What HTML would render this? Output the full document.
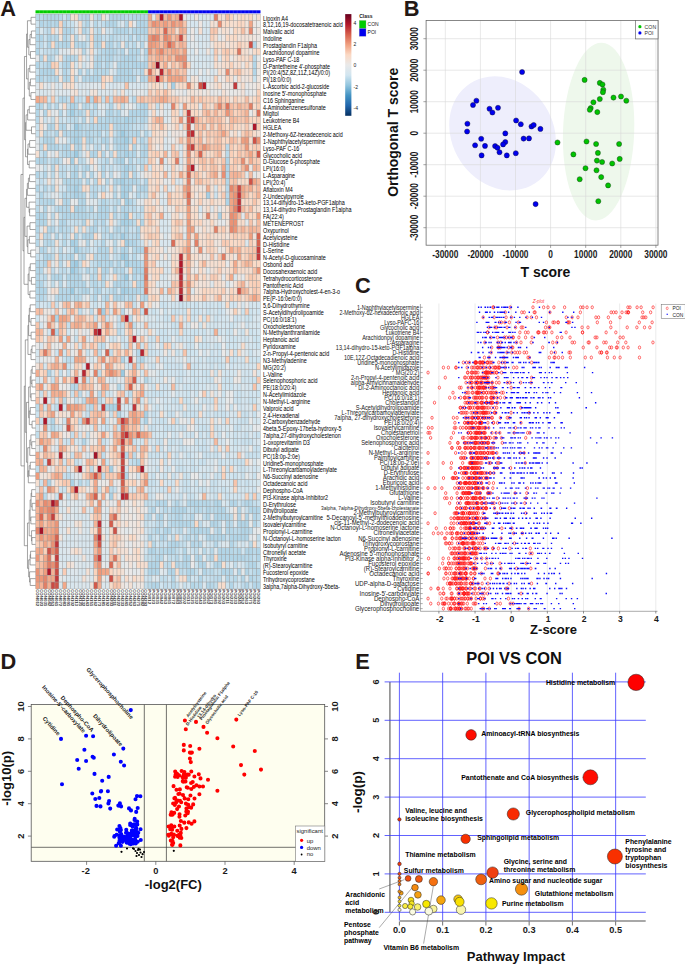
<!DOCTYPE html>
<html><head><meta charset="utf-8"><style>
html,body{margin:0;padding:0;background:#fff;}
svg{display:block;}
</style></head><body>
<svg width="685" height="965" viewBox="0 0 685 965">
<rect width="685" height="965" fill="#fff"/>
<rect x="35.5" y="13.9" width="225" height="575" fill="#9c9c9c"/>
<g stroke-width="6.35" fill="none">
<path stroke="#b7d8e9" d="M35.75 17.32h3.38M117.22 44.7h3.38M35.75 120h3.38M113.34 126.85h3.38M62.91 154.23h3.38M39.63 202.14h3.38M117.22 202.14h3.38M59.03 250.06h3.38M78.42 250.06h3.38M105.58 263.75h3.38M70.66 386.97h3.38M90.06 407.5h3.38M198.68 503.33h3.38M249.11 503.33h3.38M148.25 517.02h3.38M179.28 517.02h3.38M171.53 523.87h3.38M167.65 544.41h3.38M210.32 551.25h3.38M245.23 558.1h3.38M171.53 585.48h3.38M210.32 585.48h3.38"/>
<path stroke="#bbdaea" d="M39.63 17.32h3.38M124.97 17.32h3.38M35.75 31.01h3.38M51.27 37.86h3.38M51.27 58.39h3.38M62.91 58.39h3.38M51.27 78.93h3.38M82.3 106.31h3.38M70.66 120h3.38M101.7 120h3.38M78.42 161.07h3.38M51.27 174.76h3.38M113.34 188.45h3.38M62.91 229.53h3.38M132.73 236.37h3.38M51.27 243.22h3.38M43.51 277.44h3.38M66.78 284.29h3.38M78.42 297.98h3.38M140.49 297.98h3.38M128.85 318.51h3.38M128.85 393.81h3.38M66.78 475.95h3.38M190.92 523.87h3.38M233.59 551.25h3.38M167.65 564.94h3.38M252.99 578.63h3.38M194.8 585.48h3.38"/>
<path stroke="#b3d6e7" d="M43.51 17.32h3.38M117.22 17.32h3.38M113.34 24.17h3.38M117.22 31.01h3.38M66.78 78.93h3.38M128.85 78.93h3.38M35.75 113.16h3.38M132.73 120h3.38M51.27 140.54h3.38M225.84 181.61h3.38M70.66 215.83h3.38M121.09 215.83h3.38M43.51 222.68h3.38M93.94 270.6h3.38M132.73 270.6h3.38M51.27 277.44h3.38M55.15 277.44h3.38M93.94 284.29h3.38M59.03 291.13h3.38M74.54 297.98h3.38M128.85 297.98h3.38M144.37 380.12h3.38M117.22 386.97h3.38M51.27 428.04h3.38M249.11 510.18h3.38M206.44 517.02h3.38M187.04 523.87h3.38M183.16 551.25h3.38M187.04 578.63h3.38M190.92 585.48h3.38"/>
<path stroke="#b2d5e7" d="M47.39 17.32h3.38M51.27 17.32h3.38M55.15 17.32h3.38M66.78 17.32h3.38M86.18 17.32h3.38M97.82 17.32h3.38M109.46 17.32h3.38M113.34 17.32h3.38M121.09 17.32h3.38M136.61 17.32h3.38M140.49 17.32h3.38M39.63 24.17h3.38M47.39 24.17h3.38M55.15 24.17h3.38M86.18 24.17h3.38M105.58 24.17h3.38M109.46 24.17h3.38M124.97 24.17h3.38M140.49 24.17h3.38M62.91 31.01h3.38M66.78 31.01h3.38M82.3 31.01h3.38M124.97 31.01h3.38M132.73 31.01h3.38M140.49 31.01h3.38M144.37 31.01h3.38M35.75 37.86h3.38M39.63 37.86h3.38M47.39 37.86h3.38M62.91 37.86h3.38M93.94 37.86h3.38M97.82 37.86h3.38M128.85 37.86h3.38M136.61 37.86h3.38M47.39 44.7h3.38M62.91 44.7h3.38M66.78 44.7h3.38M82.3 44.7h3.38M93.94 44.7h3.38M97.82 44.7h3.38M105.58 44.7h3.38M109.46 44.7h3.38M124.97 44.7h3.38M252.99 44.7h3.38M35.75 51.55h3.38M105.58 51.55h3.38M109.46 51.55h3.38M121.09 51.55h3.38M136.61 51.55h3.38M144.37 51.55h3.38M39.63 58.39h3.38M47.39 58.39h3.38M66.78 58.39h3.38M97.82 58.39h3.38M105.58 58.39h3.38M109.46 58.39h3.38M124.97 58.39h3.38M128.85 58.39h3.38M132.73 58.39h3.38M35.75 65.24h3.38M47.39 65.24h3.38M62.91 65.24h3.38M66.78 65.24h3.38M93.94 65.24h3.38M97.82 65.24h3.38M105.58 65.24h3.38M117.22 65.24h3.38M121.09 65.24h3.38M124.97 65.24h3.38M132.73 65.24h3.38M136.61 65.24h3.38M140.49 65.24h3.38M144.37 65.24h3.38M252.99 65.24h3.38M39.63 72.08h3.38M43.51 72.08h3.38M47.39 72.08h3.38M51.27 72.08h3.38M62.91 72.08h3.38M78.42 72.08h3.38M86.18 72.08h3.38M93.94 72.08h3.38M117.22 72.08h3.38M121.09 72.08h3.38M124.97 72.08h3.38M128.85 72.08h3.38M140.49 72.08h3.38M252.99 72.08h3.38M39.63 78.93h3.38M62.91 78.93h3.38M82.3 78.93h3.38M90.06 78.93h3.38M93.94 78.93h3.38M97.82 78.93h3.38M117.22 78.93h3.38M121.09 78.93h3.38M124.97 78.93h3.38M132.73 78.93h3.38M140.49 78.93h3.38M35.75 106.31h3.38M47.39 106.31h3.38M93.94 106.31h3.38M109.46 106.31h3.38M140.49 106.31h3.38M144.37 106.31h3.38M43.51 113.16h3.38M59.03 113.16h3.38M78.42 113.16h3.38M105.58 113.16h3.38M109.46 113.16h3.38M117.22 113.16h3.38M128.85 113.16h3.38M132.73 113.16h3.38M136.61 113.16h3.38M140.49 113.16h3.38M144.37 113.16h3.38M82.3 120h3.38M97.82 120h3.38M105.58 120h3.38M117.22 120h3.38M128.85 120h3.38M140.49 120h3.38M47.39 126.85h3.38M51.27 126.85h3.38M62.91 126.85h3.38M78.42 126.85h3.38M90.06 126.85h3.38M101.7 126.85h3.38M105.58 126.85h3.38M117.22 126.85h3.38M121.09 126.85h3.38M124.97 126.85h3.38M55.15 133.69h3.38M70.66 133.69h3.38M78.42 133.69h3.38M86.18 133.69h3.38M97.82 133.69h3.38M117.22 133.69h3.38M136.61 133.69h3.38M43.51 140.54h3.38M47.39 140.54h3.38M70.66 140.54h3.38M78.42 140.54h3.38M86.18 140.54h3.38M90.06 140.54h3.38M101.7 140.54h3.38M105.58 140.54h3.38M113.34 140.54h3.38M117.22 140.54h3.38M140.49 140.54h3.38M47.39 147.38h3.38M55.15 147.38h3.38M62.91 147.38h3.38M66.78 147.38h3.38M78.42 147.38h3.38M117.22 147.38h3.38M132.73 147.38h3.38M144.37 147.38h3.38M43.51 154.23h3.38M66.78 154.23h3.38M70.66 154.23h3.38M90.06 154.23h3.38M93.94 154.23h3.38M101.7 154.23h3.38M117.22 154.23h3.38M132.73 154.23h3.38M140.49 154.23h3.38M144.37 154.23h3.38M35.75 161.07h3.38M39.63 161.07h3.38M43.51 161.07h3.38M55.15 161.07h3.38M105.58 161.07h3.38M117.22 161.07h3.38M128.85 161.07h3.38M51.27 167.92h3.38M86.18 167.92h3.38M101.7 167.92h3.38M35.75 174.76h3.38M43.51 174.76h3.38M70.66 174.76h3.38M82.3 174.76h3.38M90.06 174.76h3.38M101.7 174.76h3.38M121.09 174.76h3.38M132.73 174.76h3.38M66.78 181.61h3.38M74.54 181.61h3.38M78.42 181.61h3.38M86.18 181.61h3.38M113.34 181.61h3.38M117.22 181.61h3.38M124.97 181.61h3.38M128.85 181.61h3.38M132.73 181.61h3.38M144.37 181.61h3.38M35.75 188.45h3.38M43.51 188.45h3.38M51.27 188.45h3.38M66.78 188.45h3.38M70.66 188.45h3.38M128.85 188.45h3.38M140.49 188.45h3.38M144.37 188.45h3.38M39.63 195.3h3.38M62.91 195.3h3.38M70.66 195.3h3.38M78.42 195.3h3.38M93.94 195.3h3.38M136.61 195.3h3.38M51.27 202.14h3.38M62.91 202.14h3.38M66.78 202.14h3.38M82.3 202.14h3.38M101.7 202.14h3.38M128.85 202.14h3.38M43.51 208.99h3.38M59.03 208.99h3.38M66.78 208.99h3.38M78.42 208.99h3.38M90.06 208.99h3.38M97.82 208.99h3.38M101.7 208.99h3.38M105.58 208.99h3.38M113.34 208.99h3.38M121.09 208.99h3.38M35.75 215.83h3.38M39.63 215.83h3.38M43.51 215.83h3.38M62.91 215.83h3.38M66.78 215.83h3.38M74.54 215.83h3.38M78.42 215.83h3.38M82.3 215.83h3.38M97.82 215.83h3.38M101.7 215.83h3.38M105.58 215.83h3.38M113.34 215.83h3.38M35.75 222.68h3.38M39.63 222.68h3.38M59.03 222.68h3.38M62.91 222.68h3.38M82.3 222.68h3.38M93.94 222.68h3.38M101.7 222.68h3.38M128.85 222.68h3.38M140.49 222.68h3.38M35.75 229.53h3.38M51.27 229.53h3.38M59.03 229.53h3.38M90.06 229.53h3.38M93.94 229.53h3.38M117.22 229.53h3.38M136.61 229.53h3.38M55.15 236.37h3.38M82.3 236.37h3.38M86.18 236.37h3.38M90.06 236.37h3.38M109.46 236.37h3.38M124.97 236.37h3.38M136.61 236.37h3.38M86.18 243.22h3.38M101.7 243.22h3.38M128.85 243.22h3.38M132.73 243.22h3.38M39.63 250.06h3.38M97.82 250.06h3.38M105.58 250.06h3.38M124.97 250.06h3.38M136.61 250.06h3.38M140.49 250.06h3.38M43.51 256.91h3.38M47.39 256.91h3.38M59.03 256.91h3.38M82.3 256.91h3.38M93.94 256.91h3.38M101.7 256.91h3.38M105.58 256.91h3.38M35.75 263.75h3.38M43.51 263.75h3.38M97.82 263.75h3.38M109.46 263.75h3.38M117.22 263.75h3.38M132.73 263.75h3.38M35.75 270.6h3.38M86.18 270.6h3.38M101.7 270.6h3.38M105.58 270.6h3.38M113.34 270.6h3.38M121.09 270.6h3.38M136.61 270.6h3.38M140.49 270.6h3.38M35.75 277.44h3.38M59.03 277.44h3.38M66.78 277.44h3.38M78.42 277.44h3.38M101.7 277.44h3.38M121.09 277.44h3.38M132.73 277.44h3.38M140.49 277.44h3.38M35.75 284.29h3.38M39.63 284.29h3.38M59.03 284.29h3.38M70.66 284.29h3.38M74.54 284.29h3.38M82.3 284.29h3.38M117.22 284.29h3.38M121.09 284.29h3.38M136.61 284.29h3.38M140.49 284.29h3.38M35.75 291.13h3.38M39.63 291.13h3.38M43.51 291.13h3.38M82.3 291.13h3.38M86.18 291.13h3.38M93.94 291.13h3.38M97.82 291.13h3.38M113.34 291.13h3.38M132.73 291.13h3.38M136.61 291.13h3.38M59.03 297.98h3.38M66.78 297.98h3.38M93.94 297.98h3.38M105.58 297.98h3.38M113.34 297.98h3.38M117.22 297.98h3.38M144.37 297.98h3.38M140.49 359.58h3.38M136.61 462.26h3.38M124.97 475.95h3.38M156.01 503.33h3.38M163.77 503.33h3.38M175.41 503.33h3.38M187.04 503.33h3.38M190.92 503.33h3.38M194.8 503.33h3.38M214.2 503.33h3.38M218.08 503.33h3.38M229.72 503.33h3.38M245.23 503.33h3.38M152.13 510.18h3.38M171.53 510.18h3.38M175.41 510.18h3.38M179.28 510.18h3.38M183.16 510.18h3.38M206.44 510.18h3.38M218.08 510.18h3.38M221.96 510.18h3.38M237.47 510.18h3.38M252.99 510.18h3.38M256.87 510.18h3.38M156.01 517.02h3.38M159.89 517.02h3.38M190.92 517.02h3.38M214.2 517.02h3.38M218.08 517.02h3.38M225.84 517.02h3.38M237.47 517.02h3.38M245.23 517.02h3.38M252.99 517.02h3.38M179.28 523.87h3.38M210.32 523.87h3.38M214.2 523.87h3.38M225.84 523.87h3.38M237.47 523.87h3.38M241.35 523.87h3.38M245.23 523.87h3.38M252.99 523.87h3.38M156.01 530.72h3.38M163.77 530.72h3.38M167.65 530.72h3.38M190.92 530.72h3.38M198.68 530.72h3.38M206.44 530.72h3.38M218.08 530.72h3.38M225.84 530.72h3.38M241.35 530.72h3.38M245.23 530.72h3.38M148.25 537.56h3.38M159.89 537.56h3.38M194.8 537.56h3.38M206.44 537.56h3.38M210.32 537.56h3.38M218.08 537.56h3.38M221.96 537.56h3.38M229.72 537.56h3.38M233.59 537.56h3.38M237.47 537.56h3.38M241.35 537.56h3.38M245.23 537.56h3.38M171.53 544.41h3.38M175.41 544.41h3.38M190.92 544.41h3.38M198.68 544.41h3.38M229.72 544.41h3.38M148.25 551.25h3.38M152.13 551.25h3.38M167.65 551.25h3.38M171.53 551.25h3.38M218.08 551.25h3.38M221.96 551.25h3.38M225.84 551.25h3.38M237.47 551.25h3.38M245.23 551.25h3.38M249.11 551.25h3.38M256.87 551.25h3.38M156.01 558.1h3.38M183.16 558.1h3.38M187.04 558.1h3.38M194.8 558.1h3.38M198.68 558.1h3.38M210.32 558.1h3.38M218.08 558.1h3.38M221.96 558.1h3.38M229.72 558.1h3.38M233.59 558.1h3.38M237.47 558.1h3.38M241.35 558.1h3.38M256.87 558.1h3.38M148.25 564.94h3.38M152.13 564.94h3.38M156.01 564.94h3.38M175.41 564.94h3.38M183.16 564.94h3.38M198.68 564.94h3.38M202.56 564.94h3.38M214.2 564.94h3.38M218.08 564.94h3.38M252.99 564.94h3.38M148.25 571.79h3.38M152.13 571.79h3.38M156.01 571.79h3.38M171.53 571.79h3.38M187.04 571.79h3.38M190.92 571.79h3.38M202.56 571.79h3.38M221.96 571.79h3.38M237.47 571.79h3.38M245.23 571.79h3.38M171.53 578.63h3.38M198.68 578.63h3.38M225.84 578.63h3.38M241.35 578.63h3.38M249.11 578.63h3.38M152.13 585.48h3.38M156.01 585.48h3.38M206.44 585.48h3.38M229.72 585.48h3.38M245.23 585.48h3.38M256.87 585.48h3.38"/>
<path stroke="#b8d8e9" d="M59.03 17.32h3.38M82.3 17.32h3.38M78.42 44.7h3.38M101.7 51.55h3.38M93.94 58.39h3.38M86.18 78.93h3.38M74.54 113.16h3.38M66.78 133.69h3.38M128.85 133.69h3.38M132.73 133.69h3.38M128.85 167.92h3.38M78.42 188.45h3.38M101.7 188.45h3.38M225.84 188.45h3.38M225.84 195.3h3.38M43.51 202.14h3.38M51.27 215.83h3.38M101.7 263.75h3.38M78.42 284.29h3.38M62.91 291.13h3.38M35.75 297.98h3.38M121.09 311.67h3.38M97.82 393.81h3.38M159.89 503.33h3.38M202.56 530.72h3.38"/>
<path stroke="#cbe2ee" d="M62.91 17.32h3.38M43.51 37.86h3.38M113.34 44.7h3.38M59.03 65.24h3.38M43.51 120h3.38M47.39 161.07h3.38M39.63 174.76h3.38M39.63 256.91h3.38M140.49 421.19h3.38M167.65 441.73h3.38M237.47 469.11h3.38M187.04 475.95h3.38M198.68 489.64h3.38M214.2 489.64h3.38"/>
<path stroke="#f2e1d6" d="M70.66 17.32h3.38M70.66 51.55h3.38M59.03 78.93h3.38M190.92 78.93h3.38M256.87 85.78h3.38M171.53 126.85h3.38M256.87 133.69h3.38M82.3 147.38h3.38M218.08 195.3h3.38M156.01 222.68h3.38M70.66 236.37h3.38M55.15 263.75h3.38M198.68 277.44h3.38M66.78 393.81h3.38M86.18 503.33h3.38M233.59 517.02h3.38M140.49 544.41h3.38M132.73 558.1h3.38M121.09 571.79h3.38"/>
<path stroke="#f7dccb" d="M74.54 17.32h3.38M225.84 65.24h3.38M163.77 126.85h3.38M183.16 140.54h3.38M171.53 202.14h3.38M109.46 222.68h3.38M221.96 236.37h3.38M171.53 256.91h3.38M190.92 277.44h3.38M249.11 291.13h3.38M194.8 297.98h3.38M241.35 345.89h3.38M43.51 414.35h3.38M70.66 496.49h3.38M109.46 530.72h3.38"/>
<path stroke="#bcdaea" d="M78.42 17.32h3.38M70.66 31.01h3.38M35.75 44.7h3.38M39.63 44.7h3.38M93.94 126.85h3.38M90.06 133.69h3.38M97.82 147.38h3.38M113.34 161.07h3.38M55.15 208.99h3.38M136.61 215.83h3.38M101.7 229.53h3.38M113.34 229.53h3.38M113.34 236.37h3.38M43.51 243.22h3.38M51.27 256.91h3.38M117.22 332.2h3.38M101.7 345.89h3.38M66.78 359.58h3.38M132.73 455.42h3.38M101.7 475.95h3.38M198.68 523.87h3.38M179.28 564.94h3.38M214.2 578.63h3.38M256.87 578.63h3.38"/>
<path stroke="#f2e1d7" d="M90.06 17.32h3.38M245.23 31.01h3.38M233.59 58.39h3.38M245.23 72.08h3.38M148.25 85.78h3.38M148.25 120h3.38M59.03 133.69h3.38M202.56 140.54h3.38M202.56 174.76h3.38M218.08 174.76h3.38M156.01 195.3h3.38M183.16 202.14h3.38M206.44 202.14h3.38M179.28 229.53h3.38M206.44 263.75h3.38M171.53 277.44h3.38M152.13 291.13h3.38M136.61 297.98h3.38M55.15 339.05h3.38M252.99 373.27h3.38M97.82 386.97h3.38M124.97 462.26h3.38M140.49 503.33h3.38M121.09 551.25h3.38"/>
<path stroke="#c1ddec" d="M93.94 17.32h3.38M101.7 24.17h3.38M66.78 99.47h3.38M74.54 99.47h3.38M78.42 99.47h3.38M101.7 99.47h3.38M109.46 99.47h3.38M78.42 311.67h3.38M202.56 517.02h3.38M252.99 558.1h3.38"/>
<path stroke="#f5dfd1" d="M101.7 17.32h3.38M245.23 58.39h3.38M121.09 92.62h3.38M128.85 147.38h3.38M35.75 154.23h3.38M206.44 154.23h3.38M237.47 167.92h3.38M97.82 174.76h3.38M175.41 174.76h3.38M225.84 208.99h3.38M198.68 236.37h3.38M175.41 250.06h3.38M55.15 256.91h3.38M35.75 482.8h3.38M113.34 523.87h3.38M101.7 537.56h3.38M113.34 571.79h3.38"/>
<path stroke="#dee7ec" d="M105.58 17.32h3.38M90.06 24.17h3.38M218.08 37.86h3.38M66.78 51.55h3.38M86.18 51.55h3.38M210.32 78.93h3.38M86.18 85.78h3.38M101.7 92.62h3.38M198.68 106.31h3.38M167.65 120h3.38M66.78 126.85h3.38M82.3 181.61h3.38M90.06 181.61h3.38M179.28 181.61h3.38M159.89 188.45h3.38M51.27 195.3h3.38M93.94 202.14h3.38M218.08 208.99h3.38M183.16 236.37h3.38M78.42 243.22h3.38M167.65 263.75h3.38M210.32 284.29h3.38M47.39 297.98h3.38M78.42 503.33h3.38M70.66 510.18h3.38M229.72 510.18h3.38M241.35 510.18h3.38M70.66 517.02h3.38M105.58 517.02h3.38M101.7 544.41h3.38M101.7 551.25h3.38M214.2 551.25h3.38M78.42 558.1h3.38M121.09 558.1h3.38M74.54 564.94h3.38M229.72 564.94h3.38M74.54 571.79h3.38M82.3 585.48h3.38"/>
<path stroke="#b9d9e9" d="M128.85 17.32h3.38M51.27 24.17h3.38M97.82 31.01h3.38M132.73 44.7h3.38M105.58 72.08h3.38M86.18 106.31h3.38M74.54 120h3.38M109.46 120h3.38M140.49 147.38h3.38M82.3 167.92h3.38M132.73 167.92h3.38M136.61 181.61h3.38M35.75 208.99h3.38M113.34 243.22h3.38M113.34 250.06h3.38M66.78 256.91h3.38M78.42 256.91h3.38M90.06 277.44h3.38M78.42 393.81h3.38M163.77 510.18h3.38M198.68 510.18h3.38M214.2 510.18h3.38M175.41 523.87h3.38M179.28 530.72h3.38M249.11 544.41h3.38M163.77 551.25h3.38M202.56 551.25h3.38M210.32 571.79h3.38M148.25 585.48h3.38"/>
<path stroke="#b4d6e8" d="M132.73 17.32h3.38M62.91 24.17h3.38M136.61 24.17h3.38M121.09 31.01h3.38M74.54 37.86h3.38M121.09 58.39h3.38M55.15 78.93h3.38M113.34 78.93h3.38M59.03 99.47h3.38M62.91 99.47h3.38M90.06 99.47h3.38M132.73 99.47h3.38M74.54 106.31h3.38M62.91 133.69h3.38M70.66 181.61h3.38M124.97 208.99h3.38M113.34 284.29h3.38M124.97 284.29h3.38M66.78 291.13h3.38M128.85 291.13h3.38M39.63 297.98h3.38M55.15 332.2h3.38M233.59 503.33h3.38M175.41 517.02h3.38M214.2 544.41h3.38M225.84 558.1h3.38M249.11 564.94h3.38M225.84 571.79h3.38M256.87 571.79h3.38M252.99 585.48h3.38"/>
<path stroke="#b6d7e8" d="M144.37 17.32h3.38M113.34 31.01h3.38M136.61 31.01h3.38M55.15 37.86h3.38M140.49 44.7h3.38M82.3 51.55h3.38M113.34 51.55h3.38M70.66 58.39h3.38M128.85 65.24h3.38M101.7 72.08h3.38M35.75 78.93h3.38M55.15 106.31h3.38M90.06 113.16h3.38M97.82 126.85h3.38M74.54 147.38h3.38M121.09 154.23h3.38M140.49 167.92h3.38M105.58 181.61h3.38M136.61 188.45h3.38M62.91 208.99h3.38M47.39 229.53h3.38M35.75 243.22h3.38M43.51 250.06h3.38M39.63 270.6h3.38M78.42 482.8h3.38M202.56 503.33h3.38M206.44 503.33h3.38M194.8 510.18h3.38M221.96 517.02h3.38M183.16 523.87h3.38M187.04 537.56h3.38M229.72 551.25h3.38M175.41 558.1h3.38M249.11 558.1h3.38M187.04 564.94h3.38M198.68 585.48h3.38"/>
<path stroke="#f1a889" d="M148.25 17.32h3.38M167.65 58.39h3.38M78.42 359.58h3.38"/>
<path stroke="#e7e9ea" d="M152.13 17.32h3.38M78.42 106.31h3.38M55.15 113.16h3.38M97.82 195.3h3.38M47.39 208.99h3.38M183.16 229.53h3.38M109.46 243.22h3.38M55.15 284.29h3.38M47.39 291.13h3.38M39.63 318.51h3.38M113.34 318.51h3.38M90.06 339.05h3.38M105.58 345.89h3.38M101.7 352.74h3.38M101.7 366.43h3.38M183.16 421.19h3.38M47.39 434.88h3.38M109.46 441.73h3.38M35.75 489.64h3.38M62.91 496.49h3.38M128.85 510.18h3.38M144.37 510.18h3.38M256.87 530.72h3.38M140.49 537.56h3.38M190.92 558.1h3.38"/>
<path stroke="#f4b498" d="M156.01 17.32h3.38M214.2 113.16h3.38M159.89 120h3.38M163.77 154.23h3.38M183.16 195.3h3.38M183.16 250.06h3.38M249.11 256.91h3.38M218.08 297.98h3.38M97.82 414.35h3.38M140.49 448.57h3.38M124.97 489.64h3.38M86.18 496.49h3.38M144.37 496.49h3.38M39.63 503.33h3.38M35.75 510.18h3.38"/>
<path stroke="#b31b2c" d="M159.89 17.32h3.38M202.56 85.78h3.38M190.92 167.92h3.38M124.97 318.51h3.38"/>
<path stroke="#f5bba1" d="M163.77 17.32h3.38M171.53 17.32h3.38M152.13 99.47h3.38M256.87 188.45h3.38M256.87 229.53h3.38M35.75 386.97h3.38M59.03 400.66h3.38M74.54 455.42h3.38"/>
<path stroke="#ea9275" d="M167.65 17.32h3.38M171.53 24.17h3.38M179.28 58.39h3.38M167.65 72.08h3.38M202.56 147.38h3.38M233.59 222.68h3.38M256.87 270.6h3.38M187.04 284.29h3.38M105.58 325.36h3.38M124.97 400.66h3.38M43.51 428.04h3.38M128.85 434.88h3.38M128.85 441.73h3.38M35.75 571.79h3.38"/>
<path stroke="#f2ab8d" d="M175.41 17.32h3.38M159.89 24.17h3.38M156.01 58.39h3.38M152.13 65.24h3.38M249.11 188.45h3.38M113.34 359.58h3.38M55.15 366.43h3.38M51.27 393.81h3.38M55.15 434.88h3.38M101.7 496.49h3.38M47.39 578.63h3.38"/>
<path stroke="#ad162a" d="M179.28 17.32h3.38M156.01 78.93h3.38M252.99 126.85h3.38M43.51 400.66h3.38"/>
<path stroke="#ece6e2" d="M183.16 17.32h3.38M252.99 17.32h3.38M190.92 31.01h3.38M210.32 85.78h3.38M225.84 85.78h3.38M152.13 202.14h3.38M167.65 208.99h3.38M233.59 256.91h3.38M121.09 304.82h3.38M43.51 311.67h3.38M144.37 339.05h3.38M194.8 400.66h3.38M90.06 441.73h3.38M156.01 496.49h3.38M132.73 510.18h3.38M136.61 585.48h3.38"/>
<path stroke="#d7e6ee" d="M187.04 17.32h3.38M194.8 58.39h3.38M206.44 65.24h3.38M210.32 72.08h3.38M214.2 188.45h3.38M198.68 304.82h3.38M241.35 304.82h3.38M148.25 318.51h3.38M159.89 318.51h3.38M252.99 318.51h3.38M140.49 325.36h3.38M218.08 325.36h3.38M252.99 325.36h3.38M74.54 332.2h3.38M124.97 339.05h3.38M78.42 345.89h3.38M245.23 345.89h3.38M132.73 352.74h3.38M148.25 359.58h3.38M179.28 359.58h3.38M214.2 366.43h3.38M245.23 366.43h3.38M35.75 380.12h3.38M152.13 380.12h3.38M148.25 386.97h3.38M233.59 386.97h3.38M167.65 400.66h3.38M171.53 407.5h3.38M249.11 407.5h3.38M163.77 414.35h3.38M221.96 428.04h3.38M152.13 441.73h3.38M210.32 441.73h3.38M221.96 448.57h3.38M194.8 455.42h3.38M148.25 469.11h3.38M152.13 469.11h3.38M210.32 469.11h3.38M256.87 469.11h3.38M198.68 475.95h3.38M128.85 489.64h3.38"/>
<path stroke="#d8e6ee" d="M190.92 17.32h3.38M202.56 17.32h3.38M206.44 24.17h3.38M194.8 37.86h3.38M202.56 37.86h3.38M55.15 85.78h3.38M59.03 85.78h3.38M78.42 85.78h3.38M109.46 85.78h3.38M113.34 85.78h3.38M128.85 85.78h3.38M132.73 85.78h3.38M136.61 85.78h3.38M140.49 85.78h3.38M144.37 85.78h3.38M163.77 85.78h3.38M39.63 92.62h3.38M43.51 92.62h3.38M55.15 92.62h3.38M86.18 92.62h3.38M97.82 92.62h3.38M109.46 92.62h3.38M117.22 92.62h3.38M124.97 92.62h3.38M128.85 92.62h3.38M163.77 106.31h3.38M167.65 106.31h3.38M163.77 113.16h3.38M179.28 113.16h3.38M163.77 140.54h3.38M163.77 147.38h3.38M179.28 147.38h3.38M163.77 161.07h3.38M179.28 161.07h3.38M167.65 188.45h3.38M159.89 202.14h3.38M163.77 202.14h3.38M159.89 222.68h3.38M163.77 222.68h3.38M159.89 229.53h3.38M163.77 229.53h3.38M167.65 229.53h3.38M163.77 236.37h3.38M159.89 243.22h3.38M167.65 243.22h3.38M163.77 250.06h3.38M163.77 263.75h3.38M163.77 270.6h3.38M167.65 270.6h3.38M159.89 277.44h3.38M163.77 277.44h3.38M167.65 284.29h3.38M225.84 284.29h3.38M163.77 291.13h3.38M159.89 297.98h3.38M163.77 297.98h3.38M221.96 304.82h3.38M202.56 311.67h3.38M256.87 318.51h3.38M167.65 325.36h3.38M206.44 339.05h3.38M237.47 345.89h3.38M202.56 359.58h3.38M156.01 373.27h3.38M167.65 380.12h3.38M214.2 393.81h3.38M190.92 400.66h3.38M245.23 407.5h3.38M187.04 421.19h3.38M229.72 434.88h3.38M256.87 441.73h3.38M171.53 448.57h3.38M156.01 462.26h3.38M202.56 469.11h3.38M225.84 482.8h3.38M43.51 489.64h3.38M59.03 503.33h3.38M59.03 510.18h3.38M90.06 510.18h3.38M66.78 517.02h3.38M74.54 517.02h3.38M78.42 517.02h3.38M82.3 517.02h3.38M86.18 517.02h3.38M86.18 523.87h3.38M86.18 530.72h3.38M66.78 537.56h3.38M70.66 537.56h3.38M82.3 537.56h3.38M86.18 537.56h3.38M144.37 537.56h3.38M66.78 544.41h3.38M70.66 544.41h3.38M78.42 544.41h3.38M82.3 544.41h3.38M86.18 544.41h3.38M90.06 544.41h3.38M82.3 551.25h3.38M86.18 551.25h3.38M90.06 551.25h3.38M59.03 558.1h3.38M62.91 558.1h3.38M66.78 558.1h3.38M70.66 558.1h3.38M74.54 558.1h3.38M86.18 558.1h3.38M90.06 558.1h3.38M62.91 564.94h3.38M82.3 564.94h3.38M90.06 564.94h3.38M59.03 571.79h3.38M66.78 571.79h3.38M78.42 571.79h3.38M82.3 571.79h3.38M90.06 571.79h3.38M66.78 578.63h3.38M70.66 578.63h3.38M74.54 578.63h3.38M90.06 578.63h3.38M59.03 585.48h3.38M66.78 585.48h3.38M70.66 585.48h3.38M78.42 585.48h3.38"/>
<path stroke="#efe4dd" d="M194.8 17.32h3.38M233.59 17.32h3.38M121.09 44.7h3.38M206.44 51.55h3.38M194.8 85.78h3.38M70.66 92.62h3.38M90.06 92.62h3.38M171.53 92.62h3.38M221.96 154.23h3.38M93.94 167.92h3.38M194.8 167.92h3.38M202.56 188.45h3.38M202.56 208.99h3.38M55.15 215.83h3.38M206.44 222.68h3.38M206.44 229.53h3.38M206.44 277.44h3.38M82.3 352.74h3.38M163.77 352.74h3.38M171.53 352.74h3.38M132.73 359.58h3.38M214.2 380.12h3.38M43.51 475.95h3.38M124.97 503.33h3.38M128.85 517.02h3.38"/>
<path stroke="#d6e6ef" d="M198.68 17.32h3.38M210.32 17.32h3.38M190.92 24.17h3.38M194.8 24.17h3.38M202.56 24.17h3.38M187.04 31.01h3.38M194.8 31.01h3.38M202.56 31.01h3.38M206.44 31.01h3.38M187.04 37.86h3.38M198.68 37.86h3.38M206.44 37.86h3.38M187.04 44.7h3.38M198.68 44.7h3.38M190.92 51.55h3.38M198.68 51.55h3.38M210.32 51.55h3.38M187.04 58.39h3.38M198.68 58.39h3.38M202.56 58.39h3.38M206.44 58.39h3.38M210.32 58.39h3.38M198.68 65.24h3.38M194.8 72.08h3.38M202.56 72.08h3.38M187.04 78.93h3.38M202.56 78.93h3.38M241.35 318.51h3.38M225.84 325.36h3.38M167.65 332.2h3.38M183.16 345.89h3.38M214.2 352.74h3.38M237.47 359.58h3.38M256.87 373.27h3.38M245.23 386.97h3.38M249.11 386.97h3.38M210.32 414.35h3.38M90.06 428.04h3.38M202.56 434.88h3.38M206.44 441.73h3.38M187.04 448.57h3.38M171.53 455.42h3.38M252.99 462.26h3.38M198.68 469.11h3.38M221.96 482.8h3.38M249.11 489.64h3.38"/>
<path stroke="#dfe7ec" d="M206.44 17.32h3.38M74.54 24.17h3.38M59.03 51.55h3.38M124.97 51.55h3.38M86.18 65.24h3.38M101.7 106.31h3.38M51.27 113.16h3.38M167.65 113.16h3.38M179.28 126.85h3.38M35.75 140.54h3.38M101.7 147.38h3.38M105.58 154.23h3.38M163.77 167.92h3.38M66.78 174.76h3.38M93.94 208.99h3.38M210.32 208.99h3.38M39.63 229.53h3.38M62.91 284.29h3.38M159.89 284.29h3.38M105.58 448.57h3.38M86.18 510.18h3.38M156.01 510.18h3.38M66.78 523.87h3.38M163.77 523.87h3.38M233.59 523.87h3.38M183.16 530.72h3.38M249.11 537.56h3.38M66.78 551.25h3.38M59.03 564.94h3.38M62.91 578.63h3.38"/>
<path stroke="#e27e65" d="M214.2 17.32h3.38M152.13 37.86h3.38M47.39 564.94h3.38M43.51 585.48h3.38"/>
<path stroke="#f8dcca" d="M218.08 17.32h3.38M55.15 72.08h3.38M70.66 72.08h3.38M179.28 85.78h3.38M241.35 99.47h3.38M39.63 126.85h3.38M194.8 161.07h3.38M241.35 202.14h3.38M194.8 208.99h3.38M175.41 215.83h3.38M171.53 229.53h3.38M90.06 256.91h3.38M66.78 263.75h3.38M241.35 270.6h3.38M117.22 366.43h3.38M159.89 414.35h3.38M82.3 434.88h3.38M66.78 448.57h3.38M159.89 462.26h3.38M117.22 469.11h3.38M148.25 544.41h3.38M252.99 544.41h3.38M74.54 551.25h3.38"/>
<path stroke="#f3e0d5" d="M221.96 17.32h3.38M225.84 31.01h3.38M241.35 37.86h3.38M249.11 78.93h3.38M214.2 85.78h3.38M74.54 92.62h3.38M183.16 99.47h3.38M152.13 106.31h3.38M198.68 113.16h3.38M156.01 167.92h3.38M152.13 181.61h3.38M214.2 208.99h3.38M109.46 250.06h3.38M194.8 250.06h3.38M225.84 256.91h3.38M225.84 270.6h3.38M175.41 277.44h3.38M202.56 284.29h3.38M233.59 284.29h3.38M113.34 510.18h3.38M124.97 551.25h3.38M86.18 571.79h3.38M82.3 578.63h3.38"/>
<path stroke="#f5bba0" d="M225.84 17.32h3.38M152.13 51.55h3.38M148.25 58.39h3.38M218.08 147.38h3.38M198.68 181.61h3.38M256.87 222.68h3.38M245.23 291.13h3.38M90.06 325.36h3.38M117.22 564.94h3.38"/>
<path stroke="#fad5bf" d="M229.72 17.32h3.38M90.06 37.86h3.38M218.08 113.16h3.38M93.94 120h3.38M249.11 120h3.38M221.96 147.38h3.38M171.53 181.61h3.38M183.16 243.22h3.38M198.68 263.75h3.38M159.89 270.6h3.38M202.56 277.44h3.38M229.72 291.13h3.38M171.53 297.98h3.38M117.22 345.89h3.38M256.87 366.43h3.38M128.85 448.57h3.38M229.72 469.11h3.38"/>
<path stroke="#f8dccb" d="M237.47 17.32h3.38M221.96 44.7h3.38M90.06 51.55h3.38M144.37 72.08h3.38M183.16 154.23h3.38M144.37 208.99h3.38M190.92 215.83h3.38M241.35 222.68h3.38M202.56 229.53h3.38M233.59 243.22h3.38M152.13 256.91h3.38M229.72 256.91h3.38M218.08 263.75h3.38M183.16 270.6h3.38M198.68 297.98h3.38M229.72 352.74h3.38M55.15 373.27h3.38M74.54 414.35h3.38M198.68 414.35h3.38M74.54 448.57h3.38M47.39 475.95h3.38M55.15 482.8h3.38M175.41 537.56h3.38M93.94 578.63h3.38M221.96 585.48h3.38"/>
<path stroke="#fbd9c4" d="M241.35 17.32h3.38M233.59 51.55h3.38M109.46 78.93h3.38M175.41 106.31h3.38M194.8 113.16h3.38M237.47 140.54h3.38M156.01 174.76h3.38M128.85 215.83h3.38M152.13 222.68h3.38M171.53 263.75h3.38M256.87 263.75h3.38M171.53 270.6h3.38M148.25 284.29h3.38M148.25 304.82h3.38M101.7 373.27h3.38M47.39 386.97h3.38M190.92 421.19h3.38M128.85 469.11h3.38M175.41 482.8h3.38M140.49 517.02h3.38M136.61 551.25h3.38"/>
<path stroke="#f6decf" d="M245.23 17.32h3.38M229.72 24.17h3.38M233.59 24.17h3.38M221.96 31.01h3.38M233.59 44.7h3.38M241.35 51.55h3.38M167.65 65.24h3.38M105.58 78.93h3.38M187.04 99.47h3.38M252.99 106.31h3.38M39.63 133.69h3.38M109.46 133.69h3.38M249.11 140.54h3.38M159.89 154.23h3.38M252.99 208.99h3.38M109.46 215.83h3.38M214.2 215.83h3.38M43.51 229.53h3.38M140.49 229.53h3.38M210.32 229.53h3.38M210.32 263.75h3.38M214.2 270.6h3.38M218.08 277.44h3.38M183.16 291.13h3.38M86.18 318.51h3.38M136.61 510.18h3.38M124.97 523.87h3.38M140.49 530.72h3.38M51.27 558.1h3.38M140.49 564.94h3.38"/>
<path stroke="#fbd7c1" d="M249.11 17.32h3.38M70.66 78.93h3.38M206.44 161.07h3.38M148.25 208.99h3.38M171.53 236.37h3.38M237.47 236.37h3.38M225.84 250.06h3.38M202.56 291.13h3.38M233.59 297.98h3.38M82.3 304.82h3.38M225.84 304.82h3.38M245.23 462.26h3.38M194.8 523.87h3.38"/>
<path stroke="#f5ded0" d="M256.87 17.32h3.38M90.06 31.01h3.38M175.41 31.01h3.38M198.68 31.01h3.38M70.66 37.86h3.38M229.72 44.7h3.38M43.51 58.39h3.38M179.28 99.47h3.38M241.35 126.85h3.38M70.66 147.38h3.38M55.15 167.92h3.38M128.85 174.76h3.38M190.92 188.45h3.38M210.32 195.3h3.38M202.56 236.37h3.38M194.8 256.91h3.38M97.82 270.6h3.38M121.09 352.74h3.38M144.37 400.66h3.38M74.54 428.04h3.38M90.06 482.8h3.38M90.06 489.64h3.38M113.34 496.49h3.38M90.06 517.02h3.38M175.41 571.79h3.38"/>
<path stroke="#cde3ef" d="M35.75 24.17h3.38M109.46 31.01h3.38M132.73 161.07h3.38M51.27 181.61h3.38M39.63 188.45h3.38M128.85 256.91h3.38M124.97 270.6h3.38M105.58 277.44h3.38M43.51 284.29h3.38M101.7 291.13h3.38M233.59 318.51h3.38M121.09 332.2h3.38M159.89 339.05h3.38M210.32 359.58h3.38M128.85 366.43h3.38M249.11 380.12h3.38M183.16 386.97h3.38M35.75 414.35h3.38M62.91 421.19h3.38M152.13 421.19h3.38M156.01 421.19h3.38M194.8 421.19h3.38M237.47 421.19h3.38M55.15 428.04h3.38M59.03 428.04h3.38M183.16 448.57h3.38M229.72 462.26h3.38M183.16 469.11h3.38M55.15 496.49h3.38M237.47 503.33h3.38M152.13 523.87h3.38M171.53 530.72h3.38M256.87 544.41h3.38M233.59 585.48h3.38M249.11 585.48h3.38"/>
<path stroke="#bad9e9" d="M43.51 24.17h3.38M47.39 31.01h3.38M74.54 58.39h3.38M144.37 58.39h3.38M252.99 58.39h3.38M144.37 120h3.38M128.85 126.85h3.38M39.63 147.38h3.38M225.84 147.38h3.38M109.46 154.23h3.38M225.84 154.23h3.38M51.27 161.07h3.38M140.49 161.07h3.38M93.94 188.45h3.38M132.73 208.99h3.38M140.49 208.99h3.38M66.78 229.53h3.38M47.39 236.37h3.38M101.7 236.37h3.38M136.61 359.58h3.38M62.91 400.66h3.38M97.82 400.66h3.38M43.51 496.49h3.38M159.89 523.87h3.38M229.72 523.87h3.38M237.47 530.72h3.38M194.8 544.41h3.38M252.99 551.25h3.38M218.08 578.63h3.38"/>
<path stroke="#f9d1ba" d="M59.03 24.17h3.38M229.72 65.24h3.38M163.77 188.45h3.38M156.01 236.37h3.38M183.16 297.98h3.38M233.59 311.67h3.38M90.06 380.12h3.38M113.34 462.26h3.38M59.03 469.11h3.38"/>
<path stroke="#c5dfec" d="M66.78 24.17h3.38M90.06 297.98h3.38M97.82 345.89h3.38M101.7 441.73h3.38M74.54 462.26h3.38M144.37 523.87h3.38M183.16 544.41h3.38M233.59 544.41h3.38"/>
<path stroke="#c8e1ee" d="M70.66 24.17h3.38M86.18 44.7h3.38M66.78 140.54h3.38M47.39 304.82h3.38M206.44 578.63h3.38"/>
<path stroke="#f7ddcd" d="M78.42 24.17h3.38M78.42 31.01h3.38M229.72 37.86h3.38M218.08 44.7h3.38M252.99 51.55h3.38M214.2 65.24h3.38M237.47 65.24h3.38M156.01 72.08h3.38M229.72 72.08h3.38M249.11 72.08h3.38M156.01 85.78h3.38M241.35 85.78h3.38M237.47 99.47h3.38M156.01 126.85h3.38M252.99 133.69h3.38M113.34 154.23h3.38M183.16 181.61h3.38M218.08 181.61h3.38M109.46 188.45h3.38M152.13 188.45h3.38M179.28 195.3h3.38M221.96 202.14h3.38M136.61 222.68h3.38M237.47 222.68h3.38M121.09 243.22h3.38M252.99 243.22h3.38M214.2 250.06h3.38M152.13 284.29h3.38M214.2 291.13h3.38M198.68 318.51h3.38M113.34 332.2h3.38M35.75 393.81h3.38M66.78 530.72h3.38M136.61 558.1h3.38M171.53 564.94h3.38M140.49 578.63h3.38M183.16 578.63h3.38"/>
<path stroke="#c1ddeb" d="M82.3 24.17h3.38M86.18 37.86h3.38M51.27 51.55h3.38M136.61 58.39h3.38M121.09 106.31h3.38M136.61 120h3.38M59.03 161.07h3.38M82.3 161.07h3.38M101.7 161.07h3.38M136.61 161.07h3.38M113.34 202.14h3.38M128.85 208.99h3.38M117.22 236.37h3.38M70.66 250.06h3.38M51.27 284.29h3.38M128.85 284.29h3.38M132.73 325.36h3.38M35.75 434.88h3.38M148.25 503.33h3.38M256.87 537.56h3.38M179.28 544.41h3.38M148.25 558.1h3.38M167.65 558.1h3.38M159.89 578.63h3.38M163.77 578.63h3.38"/>
<path stroke="#b5d7e8" d="M93.94 24.17h3.38M109.46 37.86h3.38M55.15 44.7h3.38M74.54 44.7h3.38M47.39 78.93h3.38M39.63 106.31h3.38M66.78 113.16h3.38M113.34 120h3.38M59.03 126.85h3.38M43.51 133.69h3.38M105.58 147.38h3.38M128.85 154.23h3.38M121.09 167.92h3.38M93.94 181.61h3.38M82.3 195.3h3.38M113.34 195.3h3.38M47.39 202.14h3.38M78.42 202.14h3.38M62.91 236.37h3.38M47.39 243.22h3.38M101.7 250.06h3.38M59.03 263.75h3.38M128.85 263.75h3.38M62.91 297.98h3.38M136.61 352.74h3.38M74.54 386.97h3.38M124.97 455.42h3.38M152.13 544.41h3.38M229.72 571.79h3.38"/>
<path stroke="#cae1ee" d="M97.82 24.17h3.38M105.58 31.01h3.38M105.58 167.92h3.38M109.46 202.14h3.38M117.22 215.83h3.38M97.82 243.22h3.38M163.77 421.19h3.38M183.16 428.04h3.38M241.35 441.73h3.38M218.08 469.11h3.38M225.84 469.11h3.38M183.16 517.02h3.38M190.92 551.25h3.38"/>
<path stroke="#cee4ef" d="M117.22 24.17h3.38M47.39 99.47h3.38M55.15 99.47h3.38M82.3 99.47h3.38M128.85 99.47h3.38M66.78 270.6h3.38M187.04 339.05h3.38M233.59 339.05h3.38M140.49 345.89h3.38M233.59 345.89h3.38M62.91 352.74h3.38M163.77 359.58h3.38M198.68 359.58h3.38M241.35 380.12h3.38M218.08 414.35h3.38M163.77 434.88h3.38M225.84 434.88h3.38M152.13 455.42h3.38M167.65 469.11h3.38M159.89 489.64h3.38M144.37 571.79h3.38"/>
<path stroke="#dae6ed" d="M121.09 24.17h3.38M74.54 31.01h3.38M206.44 44.7h3.38M140.49 51.55h3.38M190.92 65.24h3.38M82.3 85.78h3.38M121.09 85.78h3.38M156.01 113.16h3.38M167.65 147.38h3.38M167.65 167.92h3.38M93.94 174.76h3.38M117.22 208.99h3.38M163.77 208.99h3.38M105.58 243.22h3.38M82.3 297.98h3.38M97.82 304.82h3.38M183.16 325.36h3.38M144.37 332.2h3.38M86.18 339.05h3.38M252.99 352.74h3.38M175.41 359.58h3.38M121.09 380.12h3.38M179.28 414.35h3.38M229.72 414.35h3.38M214.2 421.19h3.38M214.2 434.88h3.38M249.11 434.88h3.38M241.35 448.57h3.38M159.89 455.42h3.38M229.72 455.42h3.38M148.25 462.26h3.38M206.44 462.26h3.38M233.59 469.11h3.38M249.11 469.11h3.38M249.11 475.95h3.38M190.92 482.8h3.38M206.44 489.64h3.38M229.72 489.64h3.38M163.77 496.49h3.38M59.03 530.72h3.38M90.06 537.56h3.38M59.03 544.41h3.38M237.47 564.94h3.38M78.42 578.63h3.38"/>
<path stroke="#fbd8c2" d="M128.85 24.17h3.38M245.23 65.24h3.38M152.13 133.69h3.38M210.32 222.68h3.38M241.35 250.06h3.38M128.85 352.74h3.38M179.28 400.66h3.38"/>
<path stroke="#e0e7ec" d="M132.73 24.17h3.38M187.04 72.08h3.38M74.54 85.78h3.38M183.16 92.62h3.38M245.23 92.62h3.38M109.46 140.54h3.38M105.58 174.76h3.38M140.49 202.14h3.38M221.96 277.44h3.38M97.82 297.98h3.38M70.66 345.89h3.38M82.3 366.43h3.38M121.09 503.33h3.38M210.32 517.02h3.38M221.96 523.87h3.38M62.91 530.72h3.38M233.59 571.79h3.38"/>
<path stroke="#b7d8e8" d="M144.37 24.17h3.38M59.03 44.7h3.38M86.18 215.83h3.38M101.7 284.29h3.38M229.72 530.72h3.38M214.2 537.56h3.38M159.89 551.25h3.38M159.89 558.1h3.38"/>
<path stroke="#f4b497" d="M148.25 24.17h3.38M159.89 291.13h3.38M128.85 339.05h3.38"/>
<path stroke="#e98f73" d="M152.13 24.17h3.38M245.23 167.92h3.38M39.63 510.18h3.38M97.82 564.94h3.38"/>
<path stroke="#ee9c7d" d="M156.01 24.17h3.38M140.49 304.82h3.38M59.03 352.74h3.38M105.58 366.43h3.38"/>
<path stroke="#ee9b7c" d="M163.77 24.17h3.38M183.16 106.31h3.38M187.04 229.53h3.38M93.94 325.36h3.38M74.54 407.5h3.38M35.75 475.95h3.38M43.51 510.18h3.38"/>
<path stroke="#f3b195" d="M167.65 24.17h3.38M198.68 147.38h3.38M249.11 229.53h3.38M93.94 421.19h3.38"/>
<path stroke="#f2aa8c" d="M175.41 24.17h3.38M179.28 31.01h3.38M175.41 37.86h3.38M175.41 51.55h3.38M163.77 65.24h3.38M194.8 120h3.38M179.28 174.76h3.38M78.42 304.82h3.38M62.91 380.12h3.38M82.3 386.97h3.38M140.49 489.64h3.38M35.75 551.25h3.38M93.94 564.94h3.38"/>
<path stroke="#ef9d7e" d="M179.28 24.17h3.38M156.01 51.55h3.38M101.7 434.88h3.38M70.66 489.64h3.38M43.51 571.79h3.38"/>
<path stroke="#f7c6ad" d="M183.16 24.17h3.38M152.13 31.01h3.38M148.25 65.24h3.38M152.13 72.08h3.38M148.25 236.37h3.38M237.47 284.29h3.38M109.46 325.36h3.38M97.82 448.57h3.38M43.51 523.87h3.38"/>
<path stroke="#dae6ee" d="M187.04 24.17h3.38"/>
<path stroke="#ede5e1" d="M198.68 24.17h3.38M252.99 24.17h3.38M241.35 78.93h3.38M159.89 113.16h3.38M175.41 133.69h3.38M148.25 277.44h3.38M237.47 304.82h3.38M210.32 448.57h3.38M136.61 482.8h3.38M140.49 558.1h3.38"/>
<path stroke="#f4dfd2" d="M210.32 24.17h3.38M59.03 58.39h3.38M62.91 85.78h3.38M221.96 92.62h3.38M156.01 133.69h3.38M159.89 133.69h3.38M159.89 147.38h3.38M86.18 188.45h3.38M194.8 188.45h3.38M214.2 236.37h3.38M202.56 243.22h3.38M198.68 291.13h3.38M136.61 373.27h3.38M55.15 421.19h3.38M117.22 462.26h3.38M93.94 469.11h3.38M132.73 551.25h3.38M140.49 571.79h3.38M179.28 578.63h3.38M218.08 585.48h3.38"/>
<path stroke="#f1e1d8" d="M214.2 24.17h3.38M66.78 85.78h3.38M241.35 92.62h3.38M175.41 140.54h3.38M179.28 188.45h3.38M202.56 222.68h3.38M124.97 510.18h3.38"/>
<path stroke="#e88b70" d="M218.08 24.17h3.38"/>
<path stroke="#f8dbc9" d="M221.96 24.17h3.38M70.66 65.24h3.38M175.41 113.16h3.38M97.82 154.23h3.38M218.08 386.97h3.38M109.46 448.57h3.38M109.46 585.48h3.38"/>
<path stroke="#fadac5" d="M225.84 24.17h3.38M78.42 58.39h3.38M152.13 85.78h3.38M221.96 140.54h3.38M210.32 154.23h3.38M171.53 161.07h3.38M183.16 256.91h3.38M245.23 277.44h3.38M109.46 345.89h3.38M237.47 352.74h3.38M70.66 462.26h3.38M66.78 489.64h3.38"/>
<path stroke="#fbd6c1" d="M237.47 24.17h3.38M148.25 263.75h3.38"/>
<path stroke="#fbd9c5" d="M241.35 24.17h3.38M59.03 31.01h3.38M159.89 92.62h3.38M252.99 120h3.38M245.23 161.07h3.38M152.13 167.92h3.38M206.44 167.92h3.38M175.41 195.3h3.38M179.28 202.14h3.38M171.53 222.68h3.38M175.41 243.22h3.38M229.72 243.22h3.38"/>
<path stroke="#f0e3da" d="M245.23 24.17h3.38M256.87 65.24h3.38M159.89 85.78h3.38M206.44 92.62h3.38M144.37 174.76h3.38M156.01 208.99h3.38M159.89 208.99h3.38M225.84 222.68h3.38M156.01 291.13h3.38M245.23 332.2h3.38M198.68 339.05h3.38M113.34 366.43h3.38M210.32 393.81h3.38M66.78 400.66h3.38M179.28 475.95h3.38M241.35 517.02h3.38M117.22 530.72h3.38M82.3 558.1h3.38"/>
<path stroke="#f1a586" d="M249.11 24.17h3.38M171.53 78.93h3.38M249.11 154.23h3.38M187.04 297.98h3.38M97.82 510.18h3.38M101.7 571.79h3.38"/>
<path stroke="#e9e9e8" d="M256.87 24.17h3.38M74.54 51.55h3.38M109.46 147.38h3.38M39.63 243.22h3.38M190.92 250.06h3.38M218.08 250.06h3.38M55.15 325.36h3.38M70.66 332.2h3.38M113.34 393.81h3.38M179.28 421.19h3.38M86.18 428.04h3.38M194.8 434.88h3.38M190.92 441.73h3.38M249.11 448.57h3.38"/>
<path stroke="#dae7ed" d="M39.63 31.01h3.38M62.91 51.55h3.38M144.37 92.62h3.38M132.73 106.31h3.38M140.49 133.69h3.38M136.61 154.23h3.38M128.85 250.06h3.38M167.65 256.91h3.38M190.92 291.13h3.38M214.2 339.05h3.38M225.84 352.74h3.38M256.87 352.74h3.38M70.66 366.43h3.38M256.87 400.66h3.38M109.46 428.04h3.38M105.58 510.18h3.38M101.7 517.02h3.38M202.56 523.87h3.38M105.58 530.72h3.38M105.58 537.56h3.38M59.03 551.25h3.38M105.58 551.25h3.38M187.04 551.25h3.38M101.7 558.1h3.38M105.58 558.1h3.38M105.58 585.48h3.38"/>
<path stroke="#c6dfed" d="M43.51 31.01h3.38M105.58 37.86h3.38M43.51 51.55h3.38M101.7 65.24h3.38M93.94 113.16h3.38M117.22 167.92h3.38M35.75 202.14h3.38M97.82 222.68h3.38M66.78 236.37h3.38M136.61 277.44h3.38M124.97 345.89h3.38M70.66 359.58h3.38M39.63 393.81h3.38M86.18 414.35h3.38M128.85 462.26h3.38M62.91 475.95h3.38M159.89 510.18h3.38M167.65 510.18h3.38M225.84 537.56h3.38"/>
<path stroke="#fadac7" d="M51.27 31.01h3.38M70.66 44.7h3.38M241.35 58.39h3.38M237.47 78.93h3.38M171.53 120h3.38M175.41 120h3.38M225.84 126.85h3.38M249.11 147.38h3.38M90.06 161.07h3.38M175.41 202.14h3.38M245.23 202.14h3.38M249.11 202.14h3.38M221.96 215.83h3.38M39.63 236.37h3.38M221.96 263.75h3.38M218.08 291.13h3.38M148.25 297.98h3.38M187.04 311.67h3.38M78.42 339.05h3.38M214.2 407.5h3.38M105.58 434.88h3.38M221.96 469.11h3.38M55.15 489.64h3.38M214.2 558.1h3.38"/>
<path stroke="#dce7ed" d="M55.15 31.01h3.38M136.61 44.7h3.38M202.56 44.7h3.38M218.08 58.39h3.38M82.3 72.08h3.38M190.92 72.08h3.38M35.75 85.78h3.38M97.82 85.78h3.38M105.58 85.78h3.38M47.39 92.62h3.38M105.58 92.62h3.38M113.34 106.31h3.38M167.65 133.69h3.38M136.61 147.38h3.38M82.3 154.23h3.38M124.97 161.07h3.38M136.61 167.92h3.38M90.06 202.14h3.38M167.65 222.68h3.38M62.91 263.75h3.38M128.85 277.44h3.38M35.75 359.58h3.38M39.63 380.12h3.38M78.42 400.66h3.38M124.97 414.35h3.38M109.46 434.88h3.38M62.91 510.18h3.38M90.06 523.87h3.38M206.44 523.87h3.38M70.66 530.72h3.38M74.54 530.72h3.38M82.3 530.72h3.38M187.04 544.41h3.38M221.96 544.41h3.38M225.84 544.41h3.38M62.91 551.25h3.38M86.18 564.94h3.38M74.54 585.48h3.38M202.56 585.48h3.38"/>
<path stroke="#c2deec" d="M86.18 31.01h3.38M136.61 106.31h3.38M113.34 147.38h3.38M132.73 202.14h3.38M74.54 339.05h3.38M59.03 373.27h3.38M66.78 496.49h3.38M202.56 510.18h3.38M175.41 551.25h3.38M194.8 571.79h3.38M218.08 571.79h3.38"/>
<path stroke="#c3deec" d="M93.94 31.01h3.38M117.22 37.86h3.38M39.63 65.24h3.38M136.61 72.08h3.38M156.01 106.31h3.38M113.34 113.16h3.38M51.27 120h3.38M66.78 120h3.38M97.82 202.14h3.38M74.54 222.68h3.38M117.22 222.68h3.38M51.27 250.06h3.38M62.91 256.91h3.38M117.22 256.91h3.38M74.54 291.13h3.38M70.66 297.98h3.38M66.78 325.36h3.38M109.46 352.74h3.38M136.61 366.43h3.38M86.18 407.5h3.38M97.82 489.64h3.38M144.37 503.33h3.38M144.37 517.02h3.38M187.04 530.72h3.38M159.89 544.41h3.38M144.37 585.48h3.38"/>
<path stroke="#f0e3dc" d="M101.7 31.01h3.38M256.87 31.01h3.38M221.96 208.99h3.38"/>
<path stroke="#c8e0ed" d="M128.85 31.01h3.38M128.85 44.7h3.38M35.75 72.08h3.38M70.66 222.68h3.38M86.18 229.53h3.38M128.85 229.53h3.38M117.22 318.51h3.38M51.27 380.12h3.38M47.39 421.19h3.38M66.78 441.73h3.38M70.66 455.42h3.38M179.28 503.33h3.38M245.23 510.18h3.38M148.25 530.72h3.38"/>
<path stroke="#f7c5ad" d="M148.25 31.01h3.38M90.06 448.57h3.38"/>
<path stroke="#f3ad90" d="M156.01 31.01h3.38M179.28 44.7h3.38M152.13 78.93h3.38M249.11 161.07h3.38M117.22 503.33h3.38M35.75 517.02h3.38"/>
<path stroke="#f8cab2" d="M159.89 31.01h3.38M214.2 51.55h3.38M179.28 72.08h3.38M233.59 72.08h3.38M233.59 106.31h3.38M132.73 140.54h3.38M229.72 147.38h3.38M229.72 167.92h3.38M221.96 195.3h3.38M175.41 208.99h3.38M221.96 229.53h3.38M249.11 243.22h3.38M218.08 256.91h3.38M51.27 304.82h3.38M66.78 352.74h3.38M93.94 366.43h3.38M39.63 414.35h3.38M47.39 455.42h3.38M105.58 475.95h3.38M55.15 517.02h3.38M117.22 537.56h3.38M39.63 558.1h3.38"/>
<path stroke="#d96652" d="M163.77 31.01h3.38"/>
<path stroke="#f5b99e" d="M167.65 31.01h3.38M39.63 99.47h3.38M43.51 99.47h3.38M70.66 99.47h3.38M105.58 99.47h3.38M113.34 99.47h3.38M117.22 99.47h3.38M124.97 99.47h3.38M140.49 99.47h3.38M218.08 99.47h3.38M214.2 106.31h3.38M245.23 133.69h3.38M245.23 215.83h3.38M144.37 325.36h3.38M128.85 345.89h3.38M47.39 352.74h3.38M117.22 455.42h3.38M39.63 571.79h3.38"/>
<path stroke="#f3b194" d="M171.53 31.01h3.38M163.77 51.55h3.38M245.23 113.16h3.38M35.75 332.2h3.38M124.97 352.74h3.38M97.82 380.12h3.38M47.39 441.73h3.38M39.63 469.11h3.38M93.94 523.87h3.38"/>
<path stroke="#f3b296" d="M183.16 31.01h3.38M187.04 270.6h3.38"/>
<path stroke="#f8c7af" d="M210.32 31.01h3.38M214.2 31.01h3.38M148.25 92.62h3.38M256.87 99.47h3.38M152.13 120h3.38M214.2 120h3.38M148.25 147.38h3.38M171.53 154.23h3.38M152.13 263.75h3.38M175.41 284.29h3.38M252.99 291.13h3.38M229.72 297.98h3.38M256.87 380.12h3.38M78.42 386.97h3.38M62.91 482.8h3.38"/>
<path stroke="#ede5e0" d="M218.08 31.01h3.38M51.27 85.78h3.38M51.27 92.62h3.38M198.68 229.53h3.38M183.16 277.44h3.38M59.03 304.82h3.38M218.08 421.19h3.38M128.85 475.95h3.38M140.49 510.18h3.38M121.09 523.87h3.38M132.73 530.72h3.38"/>
<path stroke="#ebe7e5" d="M229.72 31.01h3.38M183.16 133.69h3.38M175.41 147.38h3.38M117.22 304.82h3.38M190.92 325.36h3.38M43.51 332.2h3.38M233.59 332.2h3.38M59.03 345.89h3.38M156.01 345.89h3.38M47.39 359.58h3.38M93.94 380.12h3.38M171.53 380.12h3.38M218.08 393.81h3.38M39.63 400.66h3.38M55.15 414.35h3.38M62.91 428.04h3.38M179.28 434.88h3.38M183.16 441.73h3.38M105.58 455.42h3.38M113.34 469.11h3.38M256.87 475.95h3.38M140.49 523.87h3.38"/>
<path stroke="#fad6c0" d="M233.59 31.01h3.38M206.44 106.31h3.38M175.41 229.53h3.38M74.54 311.67h3.38M97.82 318.51h3.38M82.3 475.95h3.38M59.03 482.8h3.38"/>
<path stroke="#f7ddcc" d="M237.47 31.01h3.38M245.23 44.7h3.38M218.08 167.92h3.38M171.53 195.3h3.38M183.16 208.99h3.38M194.8 215.83h3.38M152.13 243.22h3.38M221.96 564.94h3.38"/>
<path stroke="#f6bea3" d="M241.35 31.01h3.38M237.47 72.08h3.38M167.65 195.3h3.38M78.42 455.42h3.38"/>
<path stroke="#e6876c" d="M249.11 31.01h3.38M159.89 51.55h3.38M183.16 65.24h3.38M187.04 154.23h3.38M229.72 229.53h3.38M82.3 380.12h3.38M47.39 510.18h3.38"/>
<path stroke="#e9e9e9" d="M252.99 31.01h3.38M206.44 85.78h3.38M175.41 92.62h3.38M128.85 106.31h3.38M171.53 140.54h3.38M47.39 154.23h3.38M86.18 174.76h3.38M171.53 188.45h3.38M47.39 215.83h3.38M179.28 215.83h3.38M55.15 222.68h3.38M74.54 256.91h3.38M229.72 284.29h3.38M144.37 304.82h3.38M86.18 311.67h3.38M43.51 339.05h3.38M35.75 345.89h3.38M66.78 345.89h3.38M221.96 345.89h3.38M198.68 352.74h3.38M62.91 373.27h3.38M47.39 380.12h3.38M59.03 386.97h3.38M198.68 393.81h3.38M229.72 400.66h3.38M148.25 407.5h3.38M175.41 414.35h3.38M97.82 421.19h3.38M148.25 421.19h3.38M39.63 428.04h3.38M82.3 428.04h3.38M221.96 434.88h3.38M187.04 441.73h3.38M144.37 469.11h3.38M171.53 469.11h3.38M214.2 469.11h3.38M194.8 475.95h3.38M121.09 530.72h3.38M128.85 551.25h3.38M124.97 564.94h3.38M124.97 571.79h3.38"/>
<path stroke="#f0e3db" d="M59.03 37.86h3.38M225.84 44.7h3.38M90.06 65.24h3.38M218.08 65.24h3.38M249.11 65.24h3.38M183.16 120h3.38M163.77 133.69h3.38M179.28 133.69h3.38M55.15 154.23h3.38M148.25 174.76h3.38M159.89 174.76h3.38M210.32 215.83h3.38M252.99 222.68h3.38M252.99 236.37h3.38M218.08 243.22h3.38M202.56 270.6h3.38M198.68 284.29h3.38M206.44 284.29h3.38M221.96 297.98h3.38M70.66 373.27h3.38M124.97 373.27h3.38M183.16 407.5h3.38M93.94 434.88h3.38M55.15 455.42h3.38M39.63 475.95h3.38M233.59 510.18h3.38M59.03 537.56h3.38M70.66 551.25h3.38M113.34 551.25h3.38M70.66 564.94h3.38"/>
<path stroke="#c0ddeb" d="M66.78 37.86h3.38M214.2 585.48h3.38"/>
<path stroke="#e2e8eb" d="M78.42 37.86h3.38M190.92 44.7h3.38M187.04 51.55h3.38M74.54 72.08h3.38M78.42 78.93h3.38M136.61 78.93h3.38M97.82 106.31h3.38M124.97 106.31h3.38M124.97 113.16h3.38M90.06 147.38h3.38M39.63 167.92h3.38M252.99 174.76h3.38M245.23 222.68h3.38M35.75 250.06h3.38M55.15 250.06h3.38M159.89 256.91h3.38M43.51 270.6h3.38M109.46 270.6h3.38M136.61 325.36h3.38M47.39 400.66h3.38M229.72 428.04h3.38M55.15 441.73h3.38M214.2 462.26h3.38M74.54 475.95h3.38M70.66 503.33h3.38M124.97 530.72h3.38M221.96 530.72h3.38M252.99 530.72h3.38M121.09 578.63h3.38"/>
<path stroke="#e7e9e9" d="M82.3 37.86h3.38M229.72 92.62h3.38M59.03 380.12h3.38M245.23 475.95h3.38M128.85 530.72h3.38"/>
<path stroke="#c5dfed" d="M101.7 37.86h3.38M124.97 37.86h3.38M47.39 51.55h3.38M70.66 126.85h3.38M113.34 133.69h3.38M144.37 161.07h3.38M105.58 236.37h3.38M93.94 243.22h3.38M35.75 256.91h3.38M39.63 277.44h3.38M117.22 325.36h3.38M105.58 428.04h3.38M249.11 571.79h3.38M175.41 585.48h3.38"/>
<path stroke="#bfdceb" d="M113.34 37.86h3.38M97.82 51.55h3.38M82.3 113.16h3.38M93.94 147.38h3.38M59.03 154.23h3.38M59.03 167.92h3.38M93.94 215.83h3.38M136.61 243.22h3.38M39.63 263.75h3.38M93.94 263.75h3.38M59.03 270.6h3.38M78.42 270.6h3.38M109.46 291.13h3.38M43.51 297.98h3.38M90.06 311.67h3.38M55.15 407.5h3.38M101.7 455.42h3.38M35.75 469.11h3.38M86.18 482.8h3.38M148.25 510.18h3.38M190.92 510.18h3.38M167.65 523.87h3.38M218.08 523.87h3.38M152.13 530.72h3.38M183.16 537.56h3.38M156.01 551.25h3.38M194.8 551.25h3.38"/>
<path stroke="#c4deec" d="M121.09 37.86h3.38M140.49 37.86h3.38M117.22 51.55h3.38M113.34 58.39h3.38M59.03 120h3.38M97.82 140.54h3.38M144.37 140.54h3.38M113.34 256.91h3.38M132.73 304.82h3.38M121.09 325.36h3.38M66.78 373.27h3.38M171.53 503.33h3.38M252.99 503.33h3.38M187.04 517.02h3.38M183.16 571.79h3.38"/>
<path stroke="#cee3ef" d="M132.73 37.86h3.38M105.58 106.31h3.38M78.42 167.92h3.38M47.39 188.45h3.38M140.49 243.22h3.38M229.72 339.05h3.38M55.15 352.74h3.38M175.41 366.43h3.38M190.92 386.97h3.38M124.97 393.81h3.38M144.37 393.81h3.38M101.7 400.66h3.38M43.51 407.5h3.38M221.96 421.19h3.38M206.44 428.04h3.38M62.91 441.73h3.38M62.91 462.26h3.38"/>
<path stroke="#bedceb" d="M144.37 37.86h3.38M78.42 154.23h3.38M59.03 215.83h3.38M35.75 236.37h3.38M117.22 270.6h3.38M132.73 462.26h3.38M171.53 517.02h3.38M206.44 558.1h3.38"/>
<path stroke="#ec9678" d="M148.25 37.86h3.38M148.25 51.55h3.38M187.04 222.68h3.38M233.59 229.53h3.38M187.04 250.06h3.38M47.39 325.36h3.38M128.85 325.36h3.38M39.63 537.56h3.38"/>
<path stroke="#e6886d" d="M156.01 37.86h3.38M225.84 72.08h3.38M218.08 106.31h3.38"/>
<path stroke="#f7c3a9" d="M159.89 37.86h3.38M163.77 58.39h3.38M171.53 58.39h3.38M229.72 126.85h3.38M198.68 161.07h3.38M39.63 544.41h3.38"/>
<path stroke="#e48369" d="M163.77 37.86h3.38M206.44 215.83h3.38M35.75 530.72h3.38"/>
<path stroke="#ed9879" d="M167.65 37.86h3.38M245.23 147.38h3.38M144.37 482.8h3.38M97.82 571.79h3.38"/>
<path stroke="#f6c0a6" d="M171.53 37.86h3.38M198.68 99.47h3.38M221.96 106.31h3.38M179.28 140.54h3.38M214.2 147.38h3.38M171.53 284.29h3.38M202.56 297.98h3.38M62.91 304.82h3.38M144.37 373.27h3.38M74.54 393.81h3.38M128.85 421.19h3.38M113.34 428.04h3.38M70.66 441.73h3.38M97.82 517.02h3.38M113.34 544.41h3.38"/>
<path stroke="#cc4c44" d="M179.28 37.86h3.38M237.47 188.45h3.38"/>
<path stroke="#f9cdb6" d="M183.16 37.86h3.38M252.99 147.38h3.38M256.87 161.07h3.38M179.28 222.68h3.38M241.35 236.37h3.38M225.84 243.22h3.38M218.08 270.6h3.38M214.2 277.44h3.38M51.27 339.05h3.38M128.85 373.27h3.38M35.75 421.19h3.38M225.84 448.57h3.38M128.85 496.49h3.38M117.22 558.1h3.38"/>
<path stroke="#ece6e3" d="M190.92 37.86h3.38M221.96 37.86h3.38M194.8 229.53h3.38M206.44 256.91h3.38M214.2 256.91h3.38M70.66 304.82h3.38M237.47 380.12h3.38M225.84 407.5h3.38M167.65 462.26h3.38M51.27 469.11h3.38M51.27 496.49h3.38M93.94 503.33h3.38M128.85 578.63h3.38"/>
<path stroke="#f9d0ba" d="M210.32 37.86h3.38M206.44 181.61h3.38M156.01 229.53h3.38M74.54 366.43h3.38M113.34 475.95h3.38M113.34 578.63h3.38"/>
<path stroke="#f6ddce" d="M214.2 37.86h3.38M221.96 65.24h3.38M241.35 72.08h3.38M229.72 78.93h3.38M39.63 85.78h3.38M152.13 92.62h3.38M187.04 106.31h3.38M82.3 140.54h3.38M144.37 202.14h3.38M210.32 236.37h3.38M47.39 270.6h3.38M148.25 270.6h3.38M245.23 270.6h3.38M249.11 270.6h3.38M214.2 284.29h3.38M233.59 291.13h3.38M206.44 297.98h3.38M241.35 297.98h3.38M121.09 366.43h3.38M124.97 558.1h3.38"/>
<path stroke="#fad9c5" d="M225.84 37.86h3.38M256.87 51.55h3.38M148.25 154.23h3.38M148.25 181.61h3.38M156.01 277.44h3.38"/>
<path stroke="#fadac6" d="M233.59 37.86h3.38M51.27 44.7h3.38M218.08 85.78h3.38M167.65 92.62h3.38M252.99 99.47h3.38M194.8 106.31h3.38M152.13 113.16h3.38M109.46 126.85h3.38M233.59 154.23h3.38M218.08 161.07h3.38M159.89 167.92h3.38M156.01 181.61h3.38M241.35 181.61h3.38M218.08 188.45h3.38M198.68 195.3h3.38M148.25 229.53h3.38M152.13 270.6h3.38M198.68 270.6h3.38M229.72 270.6h3.38M113.34 277.44h3.38M225.84 277.44h3.38M132.73 284.29h3.38M156.01 297.98h3.38M109.46 332.2h3.38M194.8 339.05h3.38M156.01 386.97h3.38M237.47 414.35h3.38M210.32 428.04h3.38M124.97 448.57h3.38M109.46 455.42h3.38M128.85 482.8h3.38M109.46 510.18h3.38M128.85 537.56h3.38M117.22 571.79h3.38"/>
<path stroke="#f0e2da" d="M237.47 37.86h3.38M245.23 37.86h3.38M90.06 58.39h3.38M167.65 161.07h3.38M202.56 202.14h3.38M140.49 236.37h3.38M245.23 284.29h3.38M210.32 297.98h3.38M35.75 366.43h3.38M210.32 373.27h3.38M136.61 517.02h3.38M136.61 530.72h3.38"/>
<path stroke="#f1e2d8" d="M249.11 37.86h3.38M229.72 99.47h3.38M225.84 120h3.38M206.44 126.85h3.38M74.54 161.07h3.38M183.16 161.07h3.38M47.39 181.61h3.38M221.96 284.29h3.38M194.8 291.13h3.38M202.56 325.36h3.38M179.28 345.89h3.38M62.91 414.35h3.38M35.75 441.73h3.38M121.09 537.56h3.38M136.61 578.63h3.38"/>
<path stroke="#eee4df" d="M252.99 37.86h3.38M229.72 85.78h3.38M93.94 311.67h3.38M62.91 455.42h3.38"/>
<path stroke="#ebe7e4" d="M256.87 37.86h3.38M229.72 58.39h3.38M241.35 65.24h3.38M256.87 72.08h3.38M249.11 85.78h3.38M252.99 85.78h3.38M237.47 92.62h3.38M249.11 167.92h3.38M190.92 181.61h3.38M109.46 195.3h3.38M121.09 202.14h3.38M171.53 208.99h3.38M159.89 236.37h3.38M167.65 250.06h3.38M86.18 256.91h3.38M194.8 263.75h3.38M43.51 325.36h3.38M233.59 380.12h3.38M144.37 386.97h3.38M109.46 421.19h3.38M136.61 455.42h3.38M159.89 496.49h3.38M124.97 517.02h3.38M140.49 551.25h3.38"/>
<path stroke="#d1e5f0" d="M43.51 44.7h3.38M86.18 58.39h3.38M140.49 58.39h3.38M74.54 65.24h3.38M90.06 72.08h3.38M113.34 72.08h3.38M51.27 106.31h3.38M97.82 113.16h3.38M62.91 120h3.38M78.42 120h3.38M144.37 126.85h3.38M101.7 133.69h3.38M113.34 167.92h3.38M136.61 174.76h3.38M35.75 181.61h3.38M43.51 181.61h3.38M59.03 188.45h3.38M105.58 188.45h3.38M35.75 195.3h3.38M47.39 195.3h3.38M132.73 195.3h3.38M51.27 208.99h3.38M109.46 208.99h3.38M136.61 208.99h3.38M105.58 222.68h3.38M55.15 229.53h3.38M97.82 229.53h3.38M59.03 236.37h3.38M78.42 236.37h3.38M66.78 243.22h3.38M66.78 250.06h3.38M90.06 250.06h3.38M117.22 250.06h3.38M136.61 256.91h3.38M82.3 270.6h3.38M62.91 277.44h3.38M117.22 291.13h3.38M171.53 304.82h3.38M190.92 304.82h3.38M202.56 304.82h3.38M206.44 304.82h3.38M210.32 304.82h3.38M233.59 304.82h3.38M35.75 318.51h3.38M156.01 318.51h3.38M171.53 345.89h3.38M229.72 345.89h3.38M252.99 345.89h3.38M194.8 352.74h3.38M171.53 359.58h3.38M241.35 359.58h3.38M241.35 366.43h3.38M167.65 373.27h3.38M183.16 373.27h3.38M198.68 380.12h3.38M202.56 380.12h3.38M202.56 386.97h3.38M237.47 386.97h3.38M175.41 393.81h3.38M206.44 393.81h3.38M140.49 400.66h3.38M163.77 400.66h3.38M62.91 407.5h3.38M97.82 407.5h3.38M163.77 407.5h3.38M218.08 407.5h3.38M187.04 434.88h3.38M140.49 441.73h3.38M233.59 448.57h3.38M210.32 455.42h3.38M221.96 462.26h3.38M66.78 469.11h3.38M229.72 475.95h3.38M241.35 482.8h3.38M249.11 482.8h3.38M156.01 489.64h3.38M171.53 489.64h3.38M237.47 496.49h3.38M225.84 503.33h3.38M156.01 537.56h3.38M179.28 537.56h3.38M202.56 537.56h3.38M156.01 544.41h3.38M210.32 544.41h3.38M218.08 544.41h3.38M241.35 544.41h3.38M206.44 551.25h3.38M241.35 551.25h3.38M179.28 558.1h3.38M210.32 564.94h3.38M241.35 564.94h3.38M167.65 578.63h3.38M190.92 578.63h3.38M237.47 578.63h3.38M159.89 585.48h3.38M187.04 585.48h3.38M237.47 585.48h3.38"/>
<path stroke="#f9dbc8" d="M90.06 44.7h3.38M229.72 51.55h3.38M70.66 85.78h3.38M183.16 85.78h3.38M233.59 133.69h3.38M43.51 147.38h3.38M233.59 147.38h3.38M245.23 181.61h3.38M175.41 188.45h3.38M148.25 195.3h3.38M156.01 215.83h3.38M249.11 215.83h3.38M241.35 256.91h3.38M229.72 263.75h3.38M237.47 263.75h3.38M252.99 263.75h3.38M256.87 277.44h3.38M210.32 291.13h3.38M113.34 352.74h3.38M245.23 359.58h3.38M78.42 366.43h3.38M66.78 380.12h3.38M132.73 386.97h3.38M70.66 421.19h3.38M210.32 421.19h3.38M144.37 455.42h3.38M218.08 496.49h3.38M117.22 517.02h3.38"/>
<path stroke="#f9dac7" d="M101.7 44.7h3.38M241.35 44.7h3.38M167.65 85.78h3.38M214.2 126.85h3.38M233.59 126.85h3.38M237.47 126.85h3.38M249.11 195.3h3.38M256.87 202.14h3.38M206.44 291.13h3.38M179.28 318.51h3.38M39.63 373.27h3.38M82.3 489.64h3.38"/>
<path stroke="#e1e8eb" d="M144.37 44.7h3.38M55.15 58.39h3.38M109.46 72.08h3.38M132.73 92.62h3.38M167.65 154.23h3.38M47.39 174.76h3.38M245.23 174.76h3.38M128.85 195.3h3.38M136.61 202.14h3.38M90.06 243.22h3.38M117.22 243.22h3.38M55.15 270.6h3.38M105.58 380.12h3.38M78.42 475.95h3.38M198.68 517.02h3.38M249.11 517.02h3.38M105.58 523.87h3.38M121.09 564.94h3.38M159.89 571.79h3.38M132.73 585.48h3.38"/>
<path stroke="#ed987a" d="M148.25 44.7h3.38M179.28 120h3.38M47.39 503.33h3.38"/>
<path stroke="#ef9e7e" d="M152.13 44.7h3.38M159.89 78.93h3.38M59.03 339.05h3.38M47.39 537.56h3.38"/>
<path stroke="#f1a587" d="M156.01 44.7h3.38M101.7 386.97h3.38"/>
<path stroke="#f6c0a7" d="M159.89 44.7h3.38M140.49 339.05h3.38M117.22 434.88h3.38"/>
<path stroke="#f09f7f" d="M163.77 44.7h3.38M241.35 140.54h3.38M51.27 386.97h3.38M90.06 400.66h3.38M117.22 475.95h3.38"/>
<path stroke="#da6954" d="M167.65 44.7h3.38"/>
<path stroke="#ea9174" d="M171.53 44.7h3.38M175.41 58.39h3.38M183.16 58.39h3.38M233.59 195.3h3.38M144.37 256.91h3.38M187.04 256.91h3.38M101.7 359.58h3.38M47.39 489.64h3.38M97.82 551.25h3.38"/>
<path stroke="#f7c5ac" d="M175.41 44.7h3.38M225.84 51.55h3.38M148.25 99.47h3.38M214.2 140.54h3.38M210.32 147.38h3.38M47.39 263.75h3.38M241.35 263.75h3.38M86.18 304.82h3.38M35.75 325.36h3.38M47.39 339.05h3.38M39.63 366.43h3.38M128.85 428.04h3.38M117.22 585.48h3.38"/>
<path stroke="#f5baa0" d="M183.16 44.7h3.38"/>
<path stroke="#e0e8ec" d="M194.8 44.7h3.38M214.2 72.08h3.38M93.94 85.78h3.38M35.75 92.62h3.38M59.03 92.62h3.38M82.3 92.62h3.38M59.03 106.31h3.38M109.46 161.07h3.38M140.49 174.76h3.38M117.22 195.3h3.38M47.39 250.06h3.38M62.91 250.06h3.38M109.46 256.91h3.38M206.44 270.6h3.38M82.3 277.44h3.38M113.34 421.19h3.38M202.56 544.41h3.38M105.58 564.94h3.38M175.41 578.63h3.38M179.28 585.48h3.38"/>
<path stroke="#ece7e3" d="M210.32 44.7h3.38M237.47 311.67h3.38M78.42 373.27h3.38M136.61 503.33h3.38M128.85 523.87h3.38"/>
<path stroke="#f9dbc9" d="M214.2 44.7h3.38M221.96 58.39h3.38M214.2 99.47h3.38M190.92 113.16h3.38M82.3 188.45h3.38M148.25 202.14h3.38M156.01 202.14h3.38M179.28 243.22h3.38M152.13 250.06h3.38M128.85 270.6h3.38M156.01 270.6h3.38M237.47 270.6h3.38M152.13 277.44h3.38M105.58 284.29h3.38M101.7 489.64h3.38M136.61 564.94h3.38M159.89 564.94h3.38M132.73 578.63h3.38"/>
<path stroke="#f9ccb5" d="M237.47 44.7h3.38M194.8 140.54h3.38M237.47 147.38h3.38M156.01 154.23h3.38M156.01 188.45h3.38M252.99 195.3h3.38M210.32 277.44h3.38M221.96 291.13h3.38M245.23 311.67h3.38M202.56 393.81h3.38M51.27 400.66h3.38M39.63 434.88h3.38M51.27 455.42h3.38M167.65 489.64h3.38M62.91 571.79h3.38"/>
<path stroke="#ce5046" d="M249.11 44.7h3.38"/>
<path stroke="#eee5df" d="M256.87 44.7h3.38M249.11 51.55h3.38M256.87 78.93h3.38M214.2 222.68h3.38M214.2 243.22h3.38M202.56 250.06h3.38M225.84 291.13h3.38M237.47 373.27h3.38M90.06 434.88h3.38M70.66 448.57h3.38M167.65 475.95h3.38M97.82 496.49h3.38M101.7 578.63h3.38"/>
<path stroke="#cfe4ef" d="M39.63 51.55h3.38M82.3 65.24h3.38M90.06 106.31h3.38M97.82 167.92h3.38M62.91 188.45h3.38M245.23 339.05h3.38M152.13 352.74h3.38M187.04 386.97h3.38M233.59 393.81h3.38M136.61 448.57h3.38M179.28 462.26h3.38M229.72 482.8h3.38M206.44 544.41h3.38"/>
<path stroke="#b8d9e9" d="M55.15 51.55h3.38M132.73 51.55h3.38M105.58 229.53h3.38M132.73 250.06h3.38M233.59 578.63h3.38"/>
<path stroke="#f1e2d9" d="M78.42 51.55h3.38M218.08 51.55h3.38M233.59 65.24h3.38M93.94 92.62h3.38M198.68 92.62h3.38M39.63 120h3.38M249.11 126.85h3.38M66.78 161.07h3.38M159.89 181.61h3.38M59.03 202.14h3.38M152.13 215.83h3.38M183.16 215.83h3.38M225.84 215.83h3.38M159.89 250.06h3.38M171.53 250.06h3.38M148.25 256.91h3.38M163.77 256.91h3.38M198.68 256.91h3.38M210.32 270.6h3.38M221.96 270.6h3.38M78.42 332.2h3.38M144.37 428.04h3.38M55.15 462.26h3.38M70.66 469.11h3.38M59.03 517.02h3.38M74.54 523.87h3.38M117.22 544.41h3.38M121.09 544.41h3.38M78.42 551.25h3.38M128.85 558.1h3.38M128.85 564.94h3.38"/>
<path stroke="#cfe4f0" d="M93.94 51.55h3.38M144.37 359.58h3.38M86.18 393.81h3.38M249.11 393.81h3.38M252.99 434.88h3.38M225.84 475.95h3.38"/>
<path stroke="#b3d6e8" d="M128.85 51.55h3.38M144.37 133.69h3.38M51.27 147.38h3.38M82.3 208.99h3.38M136.61 263.75h3.38M167.65 571.79h3.38"/>
<path stroke="#f4b79b" d="M167.65 51.55h3.38M210.32 161.07h3.38M47.39 414.35h3.38M140.49 414.35h3.38M140.49 455.42h3.38M109.46 482.8h3.38"/>
<path stroke="#f1a687" d="M171.53 51.55h3.38M214.2 174.76h3.38M252.99 181.61h3.38M229.72 208.99h3.38M229.72 250.06h3.38M237.47 256.91h3.38M74.54 359.58h3.38M136.61 421.19h3.38M93.94 489.64h3.38M93.94 510.18h3.38M39.63 551.25h3.38M105.58 571.79h3.38"/>
<path stroke="#f6bfa5" d="M179.28 51.55h3.38M171.53 65.24h3.38M183.16 72.08h3.38M202.56 161.07h3.38M256.87 167.92h3.38M194.8 174.76h3.38M167.65 202.14h3.38M117.22 373.27h3.38M144.37 407.5h3.38M128.85 455.42h3.38M35.75 564.94h3.38"/>
<path stroke="#f0a080" d="M183.16 51.55h3.38M167.65 78.93h3.38M229.72 195.3h3.38M249.11 236.37h3.38M113.34 311.67h3.38M90.06 393.81h3.38M70.66 414.35h3.38M39.63 523.87h3.38M35.75 585.48h3.38"/>
<path stroke="#ebe8e6" d="M194.8 51.55h3.38M179.28 92.62h3.38M156.01 304.82h3.38M245.23 304.82h3.38M140.49 318.51h3.38M136.61 386.97h3.38M117.22 448.57h3.38M82.3 462.26h3.38M105.58 482.8h3.38M175.41 489.64h3.38"/>
<path stroke="#d9e6ee" d="M202.56 51.55h3.38M198.68 78.93h3.38M47.39 85.78h3.38M78.42 92.62h3.38M121.09 113.16h3.38M163.77 120h3.38M51.27 154.23h3.38M179.28 154.23h3.38M175.41 181.61h3.38M163.77 243.22h3.38M109.46 311.67h3.38M210.32 339.05h3.38M249.11 339.05h3.38M39.63 345.89h3.38M190.92 359.58h3.38M183.16 380.12h3.38M190.92 393.81h3.38M159.89 400.66h3.38M121.09 407.5h3.38M249.11 414.35h3.38M55.15 448.57h3.38M86.18 455.42h3.38M175.41 475.95h3.38M175.41 496.49h3.38M206.44 496.49h3.38M241.35 496.49h3.38M66.78 503.33h3.38M62.91 523.87h3.38M82.3 523.87h3.38M78.42 537.56h3.38M62.91 544.41h3.38M163.77 571.79h3.38M156.01 578.63h3.38M86.18 585.48h3.38"/>
<path stroke="#f9ceb7" d="M221.96 51.55h3.38M51.27 65.24h3.38M256.87 106.31h3.38M152.13 126.85h3.38M256.87 126.85h3.38M256.87 147.38h3.38M190.92 174.76h3.38M206.44 174.76h3.38M183.16 263.75h3.38M214.2 297.98h3.38M113.34 414.35h3.38M140.49 496.49h3.38"/>
<path stroke="#df7760" d="M237.47 51.55h3.38"/>
<path stroke="#f3e0d4" d="M245.23 51.55h3.38M175.41 85.78h3.38M190.92 92.62h3.38M249.11 99.47h3.38M210.32 106.31h3.38M55.15 120h3.38M148.25 126.85h3.38M86.18 154.23h3.38M218.08 202.14h3.38M82.3 229.53h3.38M152.13 229.53h3.38M225.84 229.53h3.38M218.08 236.37h3.38M55.15 243.22h3.38M55.15 291.13h3.38M190.92 297.98h3.38M86.18 345.89h3.38M218.08 373.27h3.38M66.78 455.42h3.38M136.61 523.87h3.38M128.85 585.48h3.38"/>
<path stroke="#e5e8ea" d="M35.75 58.39h3.38M233.59 78.93h3.38M245.23 85.78h3.38M218.08 92.62h3.38M249.11 92.62h3.38M93.94 161.07h3.38M59.03 181.61h3.38M55.15 195.3h3.38M198.68 215.83h3.38M221.96 222.68h3.38M109.46 284.29h3.38M175.41 297.98h3.38M113.34 325.36h3.38M82.3 332.2h3.38M86.18 332.2h3.38M86.18 359.58h3.38M93.94 359.58h3.38M159.89 366.43h3.38M148.25 373.27h3.38M117.22 380.12h3.38M225.84 393.81h3.38M156.01 400.66h3.38M252.99 428.04h3.38M256.87 428.04h3.38M167.65 434.88h3.38M156.01 475.95h3.38M51.27 482.8h3.38M113.34 482.8h3.38M82.3 496.49h3.38M109.46 503.33h3.38M101.7 510.18h3.38M121.09 517.02h3.38M128.85 544.41h3.38M132.73 564.94h3.38"/>
<path stroke="#e4e8ea" d="M82.3 58.39h3.38M136.61 92.62h3.38M140.49 92.62h3.38M35.75 147.38h3.38M47.39 167.92h3.38M167.65 181.61h3.38M132.73 188.45h3.38M225.84 263.75h3.38M86.18 277.44h3.38M167.65 277.44h3.38M136.61 304.82h3.38M152.13 304.82h3.38M225.84 311.67h3.38M43.51 318.51h3.38M152.13 332.2h3.38M70.66 339.05h3.38M175.41 345.89h3.38M241.35 352.74h3.38M152.13 373.27h3.38M78.42 380.12h3.38M66.78 386.97h3.38M109.46 386.97h3.38M171.53 393.81h3.38M51.27 448.57h3.38M62.91 503.33h3.38M82.3 503.33h3.38M78.42 510.18h3.38M241.35 571.79h3.38M59.03 578.63h3.38M86.18 578.63h3.38"/>
<path stroke="#bddbea" d="M101.7 58.39h3.38M82.3 126.85h3.38M93.94 133.69h3.38M70.66 167.92h3.38M59.03 174.76h3.38M62.91 174.76h3.38M109.46 174.76h3.38M66.78 195.3h3.38M144.37 195.3h3.38M105.58 202.14h3.38M97.82 256.91h3.38M93.94 277.44h3.38M90.06 284.29h3.38M140.49 291.13h3.38M101.7 297.98h3.38M132.73 297.98h3.38M97.82 352.74h3.38M82.3 400.66h3.38M35.75 407.5h3.38M90.06 469.11h3.38M109.46 489.64h3.38M210.32 510.18h3.38M167.65 517.02h3.38M229.72 517.02h3.38M256.87 517.02h3.38M152.13 558.1h3.38M245.23 564.94h3.38M179.28 571.79h3.38"/>
<path stroke="#c2ddec" d="M117.22 58.39h3.38M132.73 72.08h3.38M66.78 106.31h3.38M86.18 126.85h3.38M59.03 147.38h3.38M39.63 181.61h3.38M121.09 229.53h3.38M82.3 250.06h3.38M124.97 297.98h3.38M35.75 304.82h3.38M78.42 421.19h3.38M70.66 434.88h3.38M210.32 503.33h3.38M175.41 530.72h3.38M210.32 578.63h3.38M229.72 578.63h3.38M163.77 585.48h3.38"/>
<path stroke="#f7c3aa" d="M152.13 58.39h3.38M167.65 99.47h3.38M202.56 113.16h3.38M218.08 140.54h3.38M233.59 140.54h3.38M194.8 154.23h3.38M202.56 167.92h3.38M249.11 222.68h3.38M210.32 256.91h3.38M55.15 311.67h3.38M43.51 434.88h3.38M140.49 462.26h3.38M113.34 585.48h3.38"/>
<path stroke="#f3ae91" d="M159.89 58.39h3.38M156.01 120h3.38M179.28 325.36h3.38M86.18 400.66h3.38M113.34 434.88h3.38"/>
<path stroke="#dbe7ed" d="M190.92 58.39h3.38M202.56 65.24h3.38M210.32 65.24h3.38M206.44 78.93h3.38M90.06 167.92h3.38M159.89 195.3h3.38M163.77 215.83h3.38M167.65 215.83h3.38M90.06 222.68h3.38M113.34 222.68h3.38M245.23 243.22h3.38M51.27 263.75h3.38M159.89 263.75h3.38M233.59 277.44h3.38M86.18 284.29h3.38M156.01 284.29h3.38M163.77 284.29h3.38M167.65 297.98h3.38M167.65 311.67h3.38M152.13 318.51h3.38M210.32 318.51h3.38M159.89 325.36h3.38M237.47 325.36h3.38M206.44 332.2h3.38M221.96 339.05h3.38M245.23 352.74h3.38M152.13 359.58h3.38M187.04 373.27h3.38M179.28 386.97h3.38M206.44 386.97h3.38M241.35 386.97h3.38M159.89 407.5h3.38M210.32 407.5h3.38M82.3 414.35h3.38M101.7 503.33h3.38M183.16 503.33h3.38M221.96 503.33h3.38M74.54 510.18h3.38M163.77 517.02h3.38M59.03 523.87h3.38M70.66 523.87h3.38M62.91 537.56h3.38M167.65 537.56h3.38M198.68 537.56h3.38M237.47 544.41h3.38M163.77 558.1h3.38M105.58 578.63h3.38M101.7 585.48h3.38"/>
<path stroke="#fad4bf" d="M214.2 58.39h3.38M245.23 208.99h3.38"/>
<path stroke="#f9d0b9" d="M225.84 58.39h3.38M214.2 78.93h3.38M256.87 92.62h3.38M202.56 99.47h3.38M183.16 126.85h3.38M241.35 133.69h3.38M202.56 154.23h3.38M241.35 154.23h3.38M252.99 188.45h3.38M152.13 208.99h3.38M152.13 236.37h3.38M256.87 291.13h3.38M152.13 297.98h3.38M245.23 297.98h3.38M74.54 421.19h3.38M171.53 421.19h3.38M113.34 455.42h3.38"/>
<path stroke="#f8dbca" d="M237.47 58.39h3.38M159.89 140.54h3.38M194.8 222.68h3.38M93.94 236.37h3.38M148.25 291.13h3.38M124.97 332.2h3.38M136.61 407.5h3.38M59.03 414.35h3.38M51.27 441.73h3.38M218.08 448.57h3.38M132.73 537.56h3.38"/>
<path stroke="#f9cfb9" d="M249.11 58.39h3.38M233.59 167.92h3.38M206.44 250.06h3.38"/>
<path stroke="#e8e9e9" d="M256.87 58.39h3.38M218.08 78.93h3.38M156.01 161.07h3.38M101.7 181.61h3.38M86.18 202.14h3.38M97.82 236.37h3.38M86.18 297.98h3.38M140.49 332.2h3.38M51.27 345.89h3.38M55.15 345.89h3.38M194.8 345.89h3.38M43.51 359.58h3.38M51.27 359.58h3.38M90.06 373.27h3.38M113.34 386.97h3.38M229.72 393.81h3.38M233.59 407.5h3.38M59.03 421.19h3.38M249.11 421.19h3.38M225.84 441.73h3.38M35.75 448.57h3.38M190.92 475.95h3.38M97.82 482.8h3.38M256.87 489.64h3.38M105.58 496.49h3.38M117.22 496.49h3.38M113.34 503.33h3.38M132.73 517.02h3.38M249.11 523.87h3.38M252.99 537.56h3.38M124.97 544.41h3.38"/>
<path stroke="#bedbeb" d="M43.51 65.24h3.38M90.06 120h3.38M82.3 133.69h3.38M128.85 140.54h3.38M90.06 188.45h3.38M90.06 195.3h3.38M86.18 250.06h3.38M140.49 263.75h3.38M51.27 270.6h3.38M62.91 270.6h3.38M241.35 503.33h3.38M214.2 530.72h3.38M233.59 530.72h3.38M171.53 537.56h3.38M206.44 571.79h3.38M241.35 585.48h3.38"/>
<path stroke="#fad3bc" d="M55.15 65.24h3.38M175.41 65.24h3.38M206.44 318.51h3.38"/>
<path stroke="#efe4dc" d="M78.42 65.24h3.38M113.34 92.62h3.38M187.04 92.62h3.38M225.84 236.37h3.38M163.77 380.12h3.38M66.78 414.35h3.38"/>
<path stroke="#c7e0ed" d="M109.46 65.24h3.38M35.75 133.69h3.38M51.27 133.69h3.38M86.18 147.38h3.38M39.63 154.23h3.38M132.73 215.83h3.38M140.49 215.83h3.38M90.06 263.75h3.38M105.58 291.13h3.38M55.15 304.82h3.38M140.49 311.67h3.38M93.94 318.51h3.38M121.09 339.05h3.38M70.66 393.81h3.38M109.46 414.35h3.38M39.63 421.19h3.38M187.04 510.18h3.38M159.89 530.72h3.38M190.92 537.56h3.38M214.2 571.79h3.38M148.25 578.63h3.38"/>
<path stroke="#e3e8eb" d="M113.34 65.24h3.38M43.51 85.78h3.38M179.28 106.31h3.38M39.63 113.16h3.38M167.65 140.54h3.38M109.46 181.61h3.38M163.77 181.61h3.38M105.58 195.3h3.38M163.77 195.3h3.38M74.54 202.14h3.38M241.35 215.83h3.38M167.65 236.37h3.38M148.25 243.22h3.38M156.01 263.75h3.38M51.27 297.98h3.38M70.66 352.74h3.38M206.44 352.74h3.38M39.63 359.58h3.38M140.49 380.12h3.38M256.87 414.35h3.38M167.65 421.19h3.38M78.42 428.04h3.38M163.77 448.57h3.38M183.16 496.49h3.38M167.65 503.33h3.38M152.13 517.02h3.38M101.7 523.87h3.38M132.73 571.79h3.38"/>
<path stroke="#8e0d25" d="M156.01 65.24h3.38"/>
<path stroke="#f8cbb3" d="M159.89 65.24h3.38M51.27 99.47h3.38M97.82 99.47h3.38M136.61 99.47h3.38M144.37 99.47h3.38M221.96 113.16h3.38M221.96 181.61h3.38M245.23 229.53h3.38M249.11 250.06h3.38M183.16 284.29h3.38M66.78 311.67h3.38M124.97 325.36h3.38M163.77 345.89h3.38M144.37 352.74h3.38M86.18 373.27h3.38M43.51 393.81h3.38M66.78 482.8h3.38M252.99 496.49h3.38"/>
<path stroke="#f4b599" d="M179.28 65.24h3.38M245.23 120h3.38M218.08 154.23h3.38M175.41 270.6h3.38M43.51 380.12h3.38M128.85 380.12h3.38M97.82 441.73h3.38M62.91 448.57h3.38M144.37 448.57h3.38"/>
<path stroke="#fbd8c3" d="M187.04 65.24h3.38M101.7 85.78h3.38M190.92 106.31h3.38M225.84 140.54h3.38M152.13 161.07h3.38M229.72 161.07h3.38M198.68 167.92h3.38M152.13 174.76h3.38M190.92 195.3h3.38M252.99 215.83h3.38M190.92 222.68h3.38M144.37 229.53h3.38M245.23 236.37h3.38M237.47 243.22h3.38M82.3 263.75h3.38M90.06 332.2h3.38M101.7 332.2h3.38M59.03 434.88h3.38M159.89 482.8h3.38M93.94 530.72h3.38M117.22 551.25h3.38"/>
<path stroke="#d6e6ee" d="M194.8 65.24h3.38M252.99 304.82h3.38M249.11 325.36h3.38M210.32 345.89h3.38M90.06 359.58h3.38M221.96 359.58h3.38M252.99 366.43h3.38M55.15 400.66h3.38M194.8 407.5h3.38M206.44 421.19h3.38M225.84 428.04h3.38M241.35 428.04h3.38M74.54 441.73h3.38M136.61 441.73h3.38M229.72 448.57h3.38M233.59 455.42h3.38M194.8 462.26h3.38M237.47 475.95h3.38M202.56 482.8h3.38M256.87 482.8h3.38"/>
<path stroke="#dde7ec" d="M59.03 72.08h3.38M90.06 85.78h3.38M117.22 85.78h3.38M43.51 106.31h3.38M167.65 174.76h3.38M117.22 188.45h3.38M39.63 208.99h3.38M140.49 256.91h3.38M82.3 311.67h3.38M144.37 318.51h3.38M140.49 407.5h3.38M74.54 544.41h3.38M105.58 544.41h3.38M78.42 564.94h3.38M198.68 571.79h3.38M152.13 578.63h3.38M221.96 578.63h3.38"/>
<path stroke="#c0dceb" d="M66.78 72.08h3.38M43.51 78.93h3.38M140.49 126.85h3.38M47.39 133.69h3.38M62.91 167.92h3.38M109.46 167.92h3.38M90.06 215.83h3.38M128.85 236.37h3.38M78.42 263.75h3.38M156.01 523.87h3.38M163.77 564.94h3.38M233.59 564.94h3.38"/>
<path stroke="#badaea" d="M97.82 72.08h3.38M144.37 78.93h3.38M78.42 291.13h3.38M55.15 297.98h3.38M252.99 571.79h3.38"/>
<path stroke="#dc6f59" d="M148.25 72.08h3.38"/>
<path stroke="#b92732" d="M159.89 72.08h3.38"/>
<path stroke="#f6c1a7" d="M163.77 72.08h3.38M124.97 85.78h3.38M233.59 181.61h3.38M252.99 270.6h3.38M93.94 339.05h3.38M136.61 489.64h3.38"/>
<path stroke="#f6c1a8" d="M171.53 72.08h3.38M206.44 133.69h3.38M101.7 414.35h3.38M82.3 448.57h3.38"/>
<path stroke="#f3b093" d="M175.41 72.08h3.38M237.47 106.31h3.38M252.99 167.92h3.38M256.87 195.3h3.38M237.47 250.06h3.38M187.04 263.75h3.38M214.2 332.2h3.38M62.91 345.89h3.38M82.3 359.58h3.38M51.27 366.43h3.38M109.46 366.43h3.38M47.39 407.5h3.38M105.58 489.64h3.38M43.51 537.56h3.38M47.39 585.48h3.38"/>
<path stroke="#eae8e7" d="M198.68 72.08h3.38M206.44 72.08h3.38M252.99 92.62h3.38M237.47 133.69h3.38M86.18 195.3h3.38M194.8 270.6h3.38M47.39 277.44h3.38M218.08 339.05h3.38M90.06 366.43h3.38M218.08 380.12h3.38M82.3 393.81h3.38M202.56 407.5h3.38M190.92 428.04h3.38M62.91 434.88h3.38M86.18 448.57h3.38M148.25 448.57h3.38M82.3 455.42h3.38M249.11 462.26h3.38M132.73 475.95h3.38M86.18 489.64h3.38M128.85 503.33h3.38M124.97 585.48h3.38"/>
<path stroke="#f6ddcd" d="M218.08 72.08h3.38M117.22 106.31h3.38M159.89 106.31h3.38M148.25 188.45h3.38M86.18 222.68h3.38M144.37 243.22h3.38M175.41 291.13h3.38M132.73 503.33h3.38M113.34 564.94h3.38"/>
<path stroke="#efe3dc" d="M221.96 72.08h3.38M171.53 133.69h3.38M55.15 181.61h3.38M198.68 188.45h3.38M183.16 222.68h3.38M237.47 277.44h3.38M109.46 318.51h3.38M43.51 345.89h3.38M74.54 352.74h3.38M90.06 585.48h3.38"/>
<path stroke="#bad9ea" d="M74.54 78.93h3.38M43.51 236.37h3.38M163.77 537.56h3.38"/>
<path stroke="#fad1bb" d="M101.7 78.93h3.38M225.84 78.93h3.38M210.32 99.47h3.38M175.41 126.85h3.38M190.92 161.07h3.38M210.32 243.22h3.38M156.01 256.91h3.38M97.82 277.44h3.38M124.97 482.8h3.38M35.75 544.41h3.38M109.46 544.41h3.38"/>
<path stroke="#f1a788" d="M148.25 78.93h3.38M35.75 99.47h3.38M86.18 99.47h3.38M93.94 99.47h3.38M121.09 99.47h3.38M159.89 99.47h3.38M187.04 243.22h3.38M51.27 578.63h3.38"/>
<path stroke="#f9ceb6" d="M163.77 78.93h3.38M256.87 284.29h3.38"/>
<path stroke="#f1a485" d="M175.41 78.93h3.38M183.16 188.45h3.38M229.72 202.14h3.38M55.15 386.97h3.38M124.97 428.04h3.38M59.03 448.57h3.38M55.15 475.95h3.38"/>
<path stroke="#f0a282" d="M179.28 78.93h3.38M101.7 421.19h3.38M117.22 421.19h3.38"/>
<path stroke="#f5b89d" d="M183.16 78.93h3.38M156.01 99.47h3.38M210.32 120h3.38M233.59 270.6h3.38M128.85 304.82h3.38M55.15 380.12h3.38M43.51 441.73h3.38M90.06 462.26h3.38"/>
<path stroke="#efe4de" d="M194.8 78.93h3.38M66.78 434.88h3.38M105.58 503.33h3.38"/>
<path stroke="#ede6e2" d="M221.96 78.93h3.38M237.47 85.78h3.38M225.84 92.62h3.38M167.65 126.85h3.38M194.8 195.3h3.38M128.85 311.67h3.38M121.09 400.66h3.38M105.58 414.35h3.38"/>
<path stroke="#eee4de" d="M245.23 78.93h3.38M194.8 92.62h3.38M229.72 133.69h3.38M175.41 167.92h3.38M55.15 174.76h3.38M256.87 174.76h3.38M221.96 250.06h3.38M202.56 256.91h3.38M86.18 263.75h3.38M136.61 339.05h3.38M187.04 428.04h3.38M163.77 441.73h3.38M144.37 462.26h3.38M159.89 469.11h3.38M78.42 530.72h3.38M132.73 544.41h3.38M121.09 585.48h3.38"/>
<path stroke="#cae2ee" d="M252.99 78.93h3.38M43.51 167.92h3.38M59.03 195.3h3.38M90.06 270.6h3.38M86.18 352.74h3.38M62.91 359.58h3.38M86.18 380.12h3.38M117.22 428.04h3.38M86.18 434.88h3.38M171.53 441.73h3.38M233.59 441.73h3.38M62.91 489.64h3.38M194.8 564.94h3.38M225.84 585.48h3.38"/>
<path stroke="#a6cfe4" d="M171.53 85.78h3.38M206.44 195.3h3.38M70.66 243.22h3.38M70.66 263.75h3.38"/>
<path stroke="#e5856a" d="M187.04 85.78h3.38"/>
<path stroke="#fad6c1" d="M190.92 85.78h3.38M202.56 120h3.38M206.44 243.22h3.38M62.91 332.2h3.38M74.54 345.89h3.38M97.82 434.88h3.38M78.42 489.64h3.38M109.46 571.79h3.38"/>
<path stroke="#d25749" d="M198.68 85.78h3.38M256.87 154.23h3.38"/>
<path stroke="#ece7e4" d="M221.96 85.78h3.38M190.92 270.6h3.38M229.72 311.67h3.38M132.73 318.51h3.38M194.8 325.36h3.38M93.94 386.97h3.38M121.09 510.18h3.38M136.61 544.41h3.38"/>
<path stroke="#c2393b" d="M233.59 85.78h3.38"/>
<path stroke="#dde7ed" d="M62.91 92.62h3.38M66.78 92.62h3.38M62.91 113.16h3.38M101.7 113.16h3.38M47.39 120h3.38M59.03 140.54h3.38M117.22 174.76h3.38M74.54 503.33h3.38M62.91 517.02h3.38M194.8 517.02h3.38M74.54 537.56h3.38M245.23 544.41h3.38M70.66 571.79h3.38M245.23 578.63h3.38"/>
<path stroke="#f7c4aa" d="M156.01 92.62h3.38M252.99 256.91h3.38M66.78 462.26h3.38M35.75 496.49h3.38"/>
<path stroke="#f5ba9f" d="M163.77 92.62h3.38M229.72 113.16h3.38M194.8 126.85h3.38M210.32 126.85h3.38M198.68 133.69h3.38M229.72 140.54h3.38M245.23 188.45h3.38M249.11 208.99h3.38M249.11 297.98h3.38M82.3 345.89h3.38M93.94 428.04h3.38M124.97 441.73h3.38M214.2 441.73h3.38M97.82 455.42h3.38M90.06 503.33h3.38M35.75 523.87h3.38M93.94 551.25h3.38"/>
<path stroke="#eae8e6" d="M202.56 92.62h3.38M214.2 92.62h3.38M233.59 92.62h3.38M55.15 202.14h3.38M82.3 243.22h3.38M109.46 304.82h3.38M59.03 311.67h3.38M183.16 359.58h3.38M62.91 386.97h3.38M93.94 393.81h3.38M101.7 482.8h3.38"/>
<path stroke="#e6e8ea" d="M210.32 92.62h3.38M35.75 167.92h3.38M218.08 222.68h3.38M241.35 277.44h3.38M124.97 311.67h3.38M229.72 318.51h3.38M97.82 325.36h3.38M132.73 332.2h3.38M171.53 339.05h3.38M132.73 345.89h3.38M144.37 366.43h3.38M183.16 366.43h3.38M43.51 386.97h3.38M179.28 455.42h3.38M210.32 475.95h3.38M198.68 482.8h3.38M198.68 496.49h3.38M206.44 564.94h3.38M136.61 571.79h3.38"/>
<path stroke="#f2aa8b" d="M163.77 99.47h3.38M229.72 277.44h3.38M74.54 325.36h3.38"/>
<path stroke="#f8c9b1" d="M171.53 99.47h3.38M241.35 120h3.38M198.68 126.85h3.38M214.2 133.69h3.38M171.53 147.38h3.38M241.35 147.38h3.38M148.25 161.07h3.38M105.58 311.67h3.38M171.53 318.51h3.38M97.82 339.05h3.38M225.84 359.58h3.38M59.03 366.43h3.38M140.49 366.43h3.38M109.46 400.66h3.38M78.42 414.35h3.38M144.37 441.73h3.38"/>
<path stroke="#f7c6ae" d="M175.41 99.47h3.38M136.61 311.67h3.38M62.91 325.36h3.38M117.22 510.18h3.38"/>
<path stroke="#f4b397" d="M190.92 99.47h3.38M218.08 126.85h3.38M194.8 277.44h3.38M66.78 304.82h3.38M74.54 304.82h3.38M66.78 318.51h3.38M78.42 318.51h3.38M55.15 359.58h3.38M86.18 462.26h3.38M59.03 475.95h3.38M39.63 585.48h3.38"/>
<path stroke="#fad3bd" d="M194.8 99.47h3.38M221.96 120h3.38M171.53 174.76h3.38M183.16 174.76h3.38M97.82 181.61h3.38M190.92 284.29h3.38M249.11 284.29h3.38M117.22 311.67h3.38M187.04 318.51h3.38M82.3 325.36h3.38M167.65 345.89h3.38M132.73 393.81h3.38M105.58 400.66h3.38M86.18 469.11h3.38M140.49 475.95h3.38M245.23 496.49h3.38M117.22 523.87h3.38"/>
<path stroke="#fad4be" d="M206.44 99.47h3.38M148.25 106.31h3.38M171.53 113.16h3.38M198.68 174.76h3.38M202.56 181.61h3.38M210.32 202.14h3.38M206.44 236.37h3.38M210.32 250.06h3.38M90.06 318.51h3.38M39.63 339.05h3.38M167.65 455.42h3.38M93.94 462.26h3.38M109.46 537.56h3.38"/>
<path stroke="#fad2bc" d="M221.96 99.47h3.38M183.16 113.16h3.38M210.32 113.16h3.38M214.2 161.07h3.38M156.01 243.22h3.38M47.39 318.51h3.38M93.94 345.89h3.38M97.82 366.43h3.38M47.39 448.57h3.38M136.61 496.49h3.38"/>
<path stroke="#f9d1bb" d="M225.84 99.47h3.38M214.2 181.61h3.38M245.23 256.91h3.38"/>
<path stroke="#f9cfb8" d="M233.59 99.47h3.38M256.87 120h3.38M210.32 133.69h3.38M229.72 154.23h3.38M171.53 167.92h3.38M198.68 202.14h3.38M179.28 250.06h3.38M245.23 250.06h3.38M252.99 277.44h3.38M252.99 284.29h3.38M47.39 366.43h3.38M43.51 373.27h3.38M252.99 407.5h3.38M225.84 421.19h3.38M136.61 428.04h3.38M156.01 448.57h3.38M62.91 469.11h3.38M221.96 475.95h3.38M132.73 482.8h3.38"/>
<path stroke="#f6bda3" d="M245.23 99.47h3.38M229.72 106.31h3.38M218.08 120h3.38M249.11 174.76h3.38M39.63 311.67h3.38M74.54 318.51h3.38M47.39 345.89h3.38M62.91 393.81h3.38M132.73 448.57h3.38M86.18 475.95h3.38"/>
<path stroke="#f7dccc" d="M62.91 106.31h3.38M86.18 113.16h3.38M55.15 126.85h3.38M202.56 133.69h3.38M190.92 154.23h3.38M70.66 208.99h3.38M179.28 208.99h3.38M206.44 208.99h3.38M144.37 222.68h3.38M198.68 243.22h3.38M175.41 263.75h3.38M66.78 510.18h3.38M124.97 578.63h3.38"/>
<path stroke="#acd2e5" d="M70.66 106.31h3.38M74.54 174.76h3.38M124.97 188.45h3.38M74.54 243.22h3.38"/>
<path stroke="#e5846a" d="M171.53 106.31h3.38M93.94 537.56h3.38"/>
<path stroke="#f6bea4" d="M202.56 106.31h3.38M245.23 154.23h3.38M152.13 195.3h3.38M179.28 236.37h3.38M35.75 311.67h3.38M128.85 332.2h3.38M90.06 345.89h3.38M90.06 386.97h3.38M124.97 386.97h3.38M101.7 393.81h3.38M70.66 428.04h3.38M113.34 441.73h3.38M39.63 489.64h3.38M35.75 537.56h3.38M39.63 564.94h3.38"/>
<path stroke="#de745d" d="M225.84 106.31h3.38"/>
<path stroke="#f6c2a8" d="M241.35 106.31h3.38M210.32 167.92h3.38M124.97 380.12h3.38M140.49 482.8h3.38"/>
<path stroke="#f7c2a9" d="M245.23 106.31h3.38M190.92 140.54h3.38M237.47 154.23h3.38M214.2 167.92h3.38M148.25 215.83h3.38M252.99 386.97h3.38M82.3 407.5h3.38M105.58 469.11h3.38"/>
<path stroke="#e38066" d="M249.11 106.31h3.38M51.27 510.18h3.38"/>
<path stroke="#f6dece" d="M47.39 113.16h3.38M237.47 181.61h3.38M74.54 229.53h3.38M190.92 256.91h3.38"/>
<path stroke="#a1cde2" d="M70.66 113.16h3.38M124.97 140.54h3.38"/>
<path stroke="#e4e8eb" d="M148.25 113.16h3.38M51.27 236.37h3.38M51.27 311.67h3.38M90.06 352.74h3.38M156.01 366.43h3.38M225.84 366.43h3.38M198.68 455.42h3.38M241.35 455.42h3.38M144.37 489.64h3.38"/>
<path stroke="#c53d3d" d="M187.04 113.16h3.38"/>
<path stroke="#f3af92" d="M206.44 113.16h3.38M198.68 140.54h3.38M187.04 277.44h3.38M167.65 291.13h3.38M241.35 291.13h3.38M78.42 325.36h3.38M132.73 373.27h3.38M128.85 414.35h3.38M47.39 530.72h3.38"/>
<path stroke="#eb9477" d="M225.84 113.16h3.38M55.15 523.87h3.38"/>
<path stroke="#fad5c0" d="M233.59 113.16h3.38M198.68 222.68h3.38M218.08 229.53h3.38M229.72 236.37h3.38M241.35 243.22h3.38M148.25 250.06h3.38M136.61 318.51h3.38M179.28 332.2h3.38"/>
<path stroke="#f9cdb5" d="M237.47 113.16h3.38M221.96 126.85h3.38M237.47 161.07h3.38M156.01 359.58h3.38"/>
<path stroke="#f7c4ab" d="M241.35 113.16h3.38M198.68 120h3.38M221.96 161.07h3.38M233.59 161.07h3.38M245.23 195.3h3.38M252.99 202.14h3.38M175.41 222.68h3.38M237.47 229.53h3.38M233.59 250.06h3.38M171.53 291.13h3.38M39.63 352.74h3.38M183.16 352.74h3.38M90.06 421.19h3.38M148.25 434.88h3.38M59.03 441.73h3.38M233.59 482.8h3.38M93.94 517.02h3.38"/>
<path stroke="#e6e9ea" d="M249.11 113.16h3.38M43.51 126.85h3.38M62.91 140.54h3.38M86.18 161.07h3.38M70.66 202.14h3.38M109.46 229.53h3.38M109.46 277.44h3.38M47.39 284.29h3.38M159.89 311.67h3.38M70.66 318.51h3.38M225.84 400.66h3.38M256.87 462.26h3.38M47.39 469.11h3.38M101.7 530.72h3.38M210.32 530.72h3.38M202.56 558.1h3.38M101.7 564.94h3.38"/>
<path stroke="#f4dfd3" d="M252.99 113.16h3.38M55.15 140.54h3.38M152.13 140.54h3.38M183.16 147.38h3.38M256.87 208.99h3.38M156.01 250.06h3.38M194.8 284.29h3.38M51.27 291.13h3.38M109.46 297.98h3.38M225.84 297.98h3.38M105.58 359.58h3.38M144.37 564.94h3.38"/>
<path stroke="#dc7059" d="M256.87 113.16h3.38"/>
<path stroke="#ede6e1" d="M86.18 120h3.38M190.92 202.14h3.38M47.39 222.68h3.38M47.39 311.67h3.38M90.06 455.42h3.38M132.73 523.87h3.38M124.97 537.56h3.38M140.49 585.48h3.38"/>
<path stroke="#b6d8e8" d="M121.09 120h3.38M62.91 181.61h3.38M62.91 243.22h3.38M132.73 256.91h3.38"/>
<path stroke="#a9d1e5" d="M124.97 120h3.38M121.09 188.45h3.38"/>
<path stroke="#d05447" d="M187.04 120h3.38M249.11 181.61h3.38M93.94 475.95h3.38M97.82 544.41h3.38"/>
<path stroke="#bf3137" d="M190.92 120h3.38"/>
<path stroke="#f7c2a8" d="M206.44 120h3.38M175.41 154.23h3.38M194.8 181.61h3.38M252.99 250.06h3.38M113.34 304.82h3.38M35.75 339.05h3.38"/>
<path stroke="#f5b89c" d="M229.72 120h3.38M159.89 126.85h3.38M241.35 167.92h3.38M210.32 174.76h3.38M86.18 325.36h3.38M132.73 428.04h3.38M59.03 462.26h3.38"/>
<path stroke="#f5bca1" d="M233.59 120h3.38M218.08 133.69h3.38M237.47 215.83h3.38M249.11 263.75h3.38M256.87 297.98h3.38M124.97 304.82h3.38M121.09 393.81h3.38M136.61 393.81h3.38M93.94 414.35h3.38M47.39 544.41h3.38M117.22 578.63h3.38"/>
<path stroke="#f8c8af" d="M237.47 120h3.38M206.44 140.54h3.38M194.8 147.38h3.38M241.35 174.76h3.38M90.06 414.35h3.38M51.27 462.26h3.38M55.15 469.11h3.38M113.34 537.56h3.38"/>
<path stroke="#c9e1ee" d="M35.75 126.85h3.38M136.61 126.85h3.38M136.61 140.54h3.38M97.82 188.45h3.38M43.51 195.3h3.38M51.27 222.68h3.38M66.78 222.68h3.38M78.42 222.68h3.38M132.73 229.53h3.38M113.34 263.75h3.38M121.09 263.75h3.38M93.94 304.82h3.38M66.78 366.43h3.38M74.54 400.66h3.38M152.13 414.35h3.38M167.65 414.35h3.38M171.53 414.35h3.38M183.16 414.35h3.38M190.92 414.35h3.38M194.8 414.35h3.38M214.2 414.35h3.38M221.96 414.35h3.38M241.35 414.35h3.38M245.23 414.35h3.38M252.99 414.35h3.38M159.89 421.19h3.38M175.41 421.19h3.38M241.35 421.19h3.38M245.23 421.19h3.38M148.25 428.04h3.38M152.13 428.04h3.38M163.77 428.04h3.38M167.65 428.04h3.38M171.53 428.04h3.38M179.28 428.04h3.38M202.56 428.04h3.38M214.2 428.04h3.38M233.59 428.04h3.38M237.47 428.04h3.38M190.92 434.88h3.38M198.68 434.88h3.38M206.44 434.88h3.38M218.08 434.88h3.38M245.23 434.88h3.38M256.87 434.88h3.38M132.73 441.73h3.38M156.01 441.73h3.38M159.89 441.73h3.38M179.28 441.73h3.38M194.8 441.73h3.38M202.56 441.73h3.38M245.23 441.73h3.38M249.11 441.73h3.38M152.13 448.57h3.38M159.89 448.57h3.38M167.65 448.57h3.38M179.28 448.57h3.38M198.68 448.57h3.38M202.56 448.57h3.38M214.2 448.57h3.38M252.99 448.57h3.38M256.87 448.57h3.38M148.25 455.42h3.38M156.01 455.42h3.38M163.77 455.42h3.38M175.41 455.42h3.38M187.04 455.42h3.38M202.56 455.42h3.38M206.44 455.42h3.38M214.2 455.42h3.38M225.84 455.42h3.38M245.23 455.42h3.38M249.11 455.42h3.38M252.99 455.42h3.38M256.87 455.42h3.38M163.77 462.26h3.38M190.92 462.26h3.38M198.68 462.26h3.38M202.56 462.26h3.38M218.08 462.26h3.38M233.59 462.26h3.38M237.47 462.26h3.38M241.35 462.26h3.38M156.01 469.11h3.38M175.41 469.11h3.38M179.28 469.11h3.38M190.92 469.11h3.38M241.35 469.11h3.38M152.13 475.95h3.38M163.77 475.95h3.38M171.53 475.95h3.38M183.16 475.95h3.38M202.56 475.95h3.38M214.2 475.95h3.38M218.08 475.95h3.38M233.59 475.95h3.38M241.35 475.95h3.38M252.99 475.95h3.38M39.63 482.8h3.38M148.25 482.8h3.38M152.13 482.8h3.38M183.16 482.8h3.38M187.04 482.8h3.38M194.8 482.8h3.38M210.32 482.8h3.38M214.2 482.8h3.38M237.47 482.8h3.38M245.23 482.8h3.38M113.34 489.64h3.38M148.25 489.64h3.38M183.16 489.64h3.38M187.04 489.64h3.38M202.56 489.64h3.38M210.32 489.64h3.38M221.96 489.64h3.38M148.25 496.49h3.38M179.28 496.49h3.38M187.04 496.49h3.38M190.92 496.49h3.38M214.2 496.49h3.38M225.84 496.49h3.38M249.11 496.49h3.38M256.87 496.49h3.38M256.87 503.33h3.38M256.87 523.87h3.38M225.84 564.94h3.38M167.65 585.48h3.38M183.16 585.48h3.38"/>
<path stroke="#9ccae1" d="M74.54 126.85h3.38M74.54 154.23h3.38M70.66 270.6h3.38"/>
<path stroke="#c4dfec" d="M132.73 126.85h3.38M39.63 140.54h3.38M93.94 140.54h3.38M144.37 558.1h3.38M171.53 558.1h3.38"/>
<path stroke="#d15648" d="M187.04 126.85h3.38"/>
<path stroke="#eae9e8" d="M190.92 126.85h3.38M241.35 325.36h3.38M105.58 339.05h3.38M117.22 339.05h3.38M221.96 352.74h3.38M82.3 469.11h3.38M78.42 496.49h3.38"/>
<path stroke="#f3b295" d="M202.56 126.85h3.38M245.23 263.75h3.38M74.54 373.27h3.38M140.49 386.97h3.38M35.75 462.26h3.38"/>
<path stroke="#f8cbb4" d="M245.23 126.85h3.38M252.99 154.23h3.38M51.27 325.36h3.38M144.37 345.89h3.38M117.22 393.81h3.38M237.47 455.42h3.38"/>
<path stroke="#add3e6" d="M74.54 133.69h3.38M225.84 202.14h3.38M74.54 236.37h3.38M121.09 250.06h3.38M113.34 407.5h3.38M144.37 421.19h3.38"/>
<path stroke="#bcdbea" d="M105.58 133.69h3.38M132.73 222.68h3.38"/>
<path stroke="#9dcbe1" d="M121.09 133.69h3.38M121.09 256.91h3.38"/>
<path stroke="#b0d4e7" d="M124.97 133.69h3.38M124.97 147.38h3.38M51.27 421.19h3.38"/>
<path stroke="#d4e5ef" d="M148.25 133.69h3.38M39.63 304.82h3.38M175.41 318.51h3.38M194.8 318.51h3.38M198.68 332.2h3.38M202.56 352.74h3.38M167.65 359.58h3.38M206.44 366.43h3.38M198.68 373.27h3.38M241.35 373.27h3.38M109.46 380.12h3.38M113.34 380.12h3.38M198.68 386.97h3.38M252.99 393.81h3.38M128.85 400.66h3.38M206.44 407.5h3.38M241.35 407.5h3.38M202.56 414.35h3.38M245.23 428.04h3.38M175.41 434.88h3.38M237.47 434.88h3.38M221.96 441.73h3.38M252.99 441.73h3.38M183.16 462.26h3.38M187.04 469.11h3.38M237.47 489.64h3.38M144.37 544.41h3.38"/>
<path stroke="#cd4d44" d="M187.04 133.69h3.38"/>
<path stroke="#bb2a33" d="M190.92 133.69h3.38M74.54 380.12h3.38"/>
<path stroke="#f9dbc7" d="M194.8 133.69h3.38"/>
<path stroke="#f0a283" d="M221.96 133.69h3.38M51.27 414.35h3.38M101.7 462.26h3.38"/>
<path stroke="#f7c7ae" d="M225.84 133.69h3.38M148.25 140.54h3.38M148.25 222.68h3.38M175.41 236.37h3.38M101.7 325.36h3.38M132.73 400.66h3.38M74.54 434.88h3.38"/>
<path stroke="#f8ccb4" d="M249.11 133.69h3.38M252.99 161.07h3.38M233.59 236.37h3.38M237.47 297.98h3.38M156.01 339.05h3.38M113.34 345.89h3.38"/>
<path stroke="#a7d0e4" d="M74.54 140.54h3.38M124.97 154.23h3.38M121.09 161.07h3.38M124.97 222.68h3.38M124.97 291.13h3.38"/>
<path stroke="#aad1e5" d="M121.09 140.54h3.38M144.37 414.35h3.38M70.66 482.8h3.38"/>
<path stroke="#f3e1d5" d="M156.01 140.54h3.38M210.32 188.45h3.38M214.2 202.14h3.38"/>
<path stroke="#e98e72" d="M187.04 140.54h3.38M221.96 174.76h3.38M198.68 250.06h3.38M62.91 366.43h3.38M47.39 517.02h3.38M51.27 564.94h3.38"/>
<path stroke="#fbd7c2" d="M210.32 140.54h3.38M144.37 236.37h3.38M132.73 469.11h3.38M233.59 489.64h3.38"/>
<path stroke="#ed997a" d="M245.23 140.54h3.38M187.04 161.07h3.38M51.27 537.56h3.38"/>
<path stroke="#cf5246" d="M252.99 140.54h3.38"/>
<path stroke="#eb9476" d="M256.87 140.54h3.38M121.09 318.51h3.38"/>
<path stroke="#afd4e6" d="M121.09 147.38h3.38M225.84 161.07h3.38M124.97 229.53h3.38M117.22 414.35h3.38"/>
<path stroke="#f4e0d3" d="M152.13 147.38h3.38M55.15 188.45h3.38M194.8 202.14h3.38M190.92 208.99h3.38M171.53 215.83h3.38M190.92 236.37h3.38M90.06 530.72h3.38"/>
<path stroke="#eae8e8" d="M156.01 147.38h3.38M62.91 161.07h3.38M113.34 174.76h3.38M51.27 352.74h3.38M59.03 359.58h3.38M70.66 400.66h3.38M93.94 441.73h3.38M221.96 455.42h3.38M97.82 462.26h3.38M206.44 482.8h3.38M117.22 489.64h3.38M47.39 496.49h3.38M190.92 564.94h3.38M128.85 571.79h3.38"/>
<path stroke="#db6d57" d="M187.04 147.38h3.38"/>
<path stroke="#c6403e" d="M190.92 147.38h3.38M117.22 400.66h3.38M97.82 558.1h3.38"/>
<path stroke="#f2ac8e" d="M206.44 147.38h3.38M206.44 188.45h3.38M101.7 448.57h3.38M51.27 489.64h3.38"/>
<path stroke="#fad2bb" d="M152.13 154.23h3.38M101.7 195.3h3.38M144.37 215.83h3.38M210.32 434.88h3.38M93.94 448.57h3.38M43.51 551.25h3.38M93.94 571.79h3.38"/>
<path stroke="#d86551" d="M198.68 154.23h3.38"/>
<path stroke="#f8c8b0" d="M214.2 154.23h3.38M144.37 167.92h3.38M117.22 359.58h3.38M109.46 475.95h3.38M43.51 517.02h3.38"/>
<path stroke="#a4cee3" d="M70.66 161.07h3.38M121.09 181.61h3.38M74.54 188.45h3.38M124.97 202.14h3.38"/>
<path stroke="#cce2ee" d="M97.82 161.07h3.38M214.2 195.3h3.38M105.58 318.51h3.38M206.44 414.35h3.38M59.03 489.64h3.38M225.84 510.18h3.38"/>
<path stroke="#e78b6f" d="M159.89 161.07h3.38M43.51 448.57h3.38M51.27 551.25h3.38"/>
<path stroke="#e27c64" d="M175.41 161.07h3.38"/>
<path stroke="#e88c70" d="M241.35 161.07h3.38M187.04 188.45h3.38"/>
<path stroke="#cce3ef" d="M66.78 167.92h3.38M70.66 229.53h3.38M59.03 243.22h3.38M159.89 304.82h3.38M163.77 304.82h3.38M179.28 304.82h3.38M183.16 304.82h3.38M187.04 304.82h3.38M194.8 304.82h3.38M218.08 304.82h3.38M62.91 311.67h3.38M152.13 311.67h3.38M163.77 311.67h3.38M171.53 311.67h3.38M175.41 311.67h3.38M183.16 311.67h3.38M190.92 311.67h3.38M194.8 311.67h3.38M206.44 311.67h3.38M218.08 311.67h3.38M241.35 311.67h3.38M249.11 311.67h3.38M163.77 318.51h3.38M167.65 318.51h3.38M190.92 318.51h3.38M202.56 318.51h3.38M214.2 318.51h3.38M245.23 318.51h3.38M249.11 318.51h3.38M171.53 325.36h3.38M175.41 325.36h3.38M198.68 325.36h3.38M229.72 325.36h3.38M159.89 332.2h3.38M163.77 332.2h3.38M175.41 332.2h3.38M183.16 332.2h3.38M190.92 332.2h3.38M194.8 332.2h3.38M202.56 332.2h3.38M210.32 332.2h3.38M218.08 332.2h3.38M225.84 332.2h3.38M229.72 332.2h3.38M241.35 332.2h3.38M249.11 332.2h3.38M148.25 339.05h3.38M152.13 339.05h3.38M163.77 339.05h3.38M167.65 339.05h3.38M179.28 339.05h3.38M190.92 339.05h3.38M202.56 339.05h3.38M252.99 339.05h3.38M256.87 339.05h3.38M159.89 345.89h3.38M187.04 345.89h3.38M190.92 345.89h3.38M198.68 345.89h3.38M202.56 345.89h3.38M206.44 345.89h3.38M214.2 345.89h3.38M218.08 345.89h3.38M225.84 345.89h3.38M256.87 345.89h3.38M148.25 352.74h3.38M175.41 352.74h3.38M187.04 352.74h3.38M210.32 352.74h3.38M218.08 352.74h3.38M233.59 352.74h3.38M249.11 352.74h3.38M187.04 359.58h3.38M206.44 359.58h3.38M214.2 359.58h3.38M218.08 359.58h3.38M229.72 359.58h3.38M233.59 359.58h3.38M249.11 359.58h3.38M256.87 359.58h3.38M152.13 366.43h3.38M163.77 366.43h3.38M167.65 366.43h3.38M179.28 366.43h3.38M190.92 366.43h3.38M194.8 366.43h3.38M210.32 366.43h3.38M218.08 366.43h3.38M221.96 366.43h3.38M159.89 373.27h3.38M179.28 373.27h3.38M190.92 373.27h3.38M202.56 373.27h3.38M206.44 373.27h3.38M214.2 373.27h3.38M148.25 380.12h3.38M175.41 380.12h3.38M179.28 380.12h3.38M194.8 380.12h3.38M206.44 380.12h3.38M210.32 380.12h3.38M221.96 380.12h3.38M225.84 380.12h3.38M229.72 380.12h3.38M252.99 380.12h3.38M152.13 386.97h3.38M163.77 386.97h3.38M175.41 386.97h3.38M194.8 386.97h3.38M221.96 386.97h3.38M229.72 386.97h3.38M105.58 393.81h3.38M152.13 393.81h3.38M156.01 393.81h3.38M159.89 393.81h3.38M187.04 393.81h3.38M194.8 393.81h3.38M221.96 393.81h3.38M237.47 393.81h3.38M256.87 393.81h3.38M148.25 400.66h3.38M171.53 400.66h3.38M175.41 400.66h3.38M183.16 400.66h3.38M187.04 400.66h3.38M202.56 400.66h3.38M210.32 400.66h3.38M233.59 400.66h3.38M237.47 400.66h3.38M249.11 400.66h3.38M252.99 400.66h3.38M156.01 407.5h3.38M179.28 407.5h3.38M187.04 407.5h3.38M198.68 407.5h3.38M229.72 407.5h3.38M105.58 421.19h3.38M47.39 428.04h3.38M198.68 428.04h3.38M105.58 462.26h3.38M194.8 469.11h3.38M202.56 578.63h3.38"/>
<path stroke="#aed3e6" d="M74.54 167.92h3.38M225.84 167.92h3.38M121.09 359.58h3.38"/>
<path stroke="#a8d0e4" d="M124.97 167.92h3.38M124.97 195.3h3.38M121.09 222.68h3.38M109.46 496.49h3.38"/>
<path stroke="#d2e5f0" d="M148.25 167.92h3.38M198.68 208.99h3.38M43.51 304.82h3.38M229.72 304.82h3.38M256.87 304.82h3.38M198.68 311.67h3.38M237.47 318.51h3.38M171.53 332.2h3.38M252.99 332.2h3.38M113.34 339.05h3.38M175.41 339.05h3.38M225.84 339.05h3.38M241.35 339.05h3.38M249.11 366.43h3.38M175.41 373.27h3.38M194.8 373.27h3.38M225.84 373.27h3.38M245.23 373.27h3.38M249.11 373.27h3.38M136.61 380.12h3.38M190.92 380.12h3.38M245.23 380.12h3.38M121.09 386.97h3.38M159.89 386.97h3.38M256.87 386.97h3.38M163.77 393.81h3.38M183.16 393.81h3.38M241.35 393.81h3.38M245.23 400.66h3.38M51.27 407.5h3.38M175.41 407.5h3.38M237.47 407.5h3.38M156.01 414.35h3.38M225.84 414.35h3.38M233.59 414.35h3.38M202.56 421.19h3.38M140.49 428.04h3.38M156.01 428.04h3.38M218.08 428.04h3.38M78.42 434.88h3.38M152.13 434.88h3.38M78.42 441.73h3.38M175.41 441.73h3.38M194.8 448.57h3.38M190.92 455.42h3.38M218.08 455.42h3.38M124.97 469.11h3.38M163.77 469.11h3.38M148.25 475.95h3.38M167.65 482.8h3.38M171.53 482.8h3.38M152.13 489.64h3.38M179.28 489.64h3.38M194.8 489.64h3.38M218.08 489.64h3.38M171.53 496.49h3.38M229.72 496.49h3.38M144.37 530.72h3.38M144.37 551.25h3.38"/>
<path stroke="#e0e8eb" d="M179.28 167.92h3.38M78.42 174.76h3.38M198.68 551.25h3.38"/>
<path stroke="#f5ded1" d="M183.16 167.92h3.38M210.32 181.61h3.38M175.41 256.91h3.38M39.63 455.42h3.38"/>
<path stroke="#e07961" d="M187.04 167.92h3.38M187.04 202.14h3.38"/>
<path stroke="#f2a98b" d="M221.96 167.92h3.38M241.35 195.3h3.38M159.89 215.83h3.38M233.59 263.75h3.38M105.58 373.27h3.38M39.63 462.26h3.38"/>
<path stroke="#abd2e5" d="M124.97 174.76h3.38M74.54 208.99h3.38M47.39 373.27h3.38M109.46 407.5h3.38M47.39 482.8h3.38"/>
<path stroke="#f4b69a" d="M163.77 174.76h3.38M237.47 174.76h3.38M202.56 263.75h3.38M105.58 304.82h3.38M70.66 325.36h3.38M101.7 339.05h3.38M187.04 366.43h3.38M101.7 380.12h3.38M105.58 386.97h3.38M39.63 407.5h3.38M136.61 414.35h3.38M43.51 455.42h3.38"/>
<path stroke="#d86652" d="M187.04 174.76h3.38"/>
<path stroke="#b1d5e7" d="M225.84 174.76h3.38M70.66 277.44h3.38M74.54 277.44h3.38M55.15 318.51h3.38M105.58 407.5h3.38M82.3 441.73h3.38"/>
<path stroke="#f4b69b" d="M229.72 174.76h3.38M43.51 469.11h3.38"/>
<path stroke="#f3b094" d="M233.59 174.76h3.38M70.66 311.67h3.38"/>
<path stroke="#d0e4f0" d="M140.49 181.61h3.38M256.87 311.67h3.38M245.23 325.36h3.38M148.25 345.89h3.38M171.53 366.43h3.38M229.72 366.43h3.38M206.44 400.66h3.38M121.09 414.35h3.38M101.7 428.04h3.38M241.35 434.88h3.38M237.47 441.73h3.38M206.44 448.57h3.38M43.51 462.26h3.38M171.53 462.26h3.38M252.99 469.11h3.38M82.3 482.8h3.38M144.37 578.63h3.38"/>
<path stroke="#e27d64" d="M187.04 181.61h3.38M144.37 270.6h3.38"/>
<path stroke="#f8c9b0" d="M229.72 181.61h3.38M249.11 277.44h3.38"/>
<path stroke="#f5b99d" d="M256.87 181.61h3.38M241.35 208.99h3.38M252.99 229.53h3.38M39.63 332.2h3.38M74.54 496.49h3.38M202.56 496.49h3.38"/>
<path stroke="#f2e1d5" d="M221.96 188.45h3.38"/>
<path stroke="#e5866b" d="M229.72 188.45h3.38M144.37 250.06h3.38"/>
<path stroke="#ef9e7f" d="M233.59 188.45h3.38M132.73 414.35h3.38M97.82 578.63h3.38"/>
<path stroke="#f1a585" d="M241.35 188.45h3.38M97.82 475.95h3.38"/>
<path stroke="#a9d0e4" d="M74.54 195.3h3.38M218.08 215.83h3.38"/>
<path stroke="#a5cfe3" d="M121.09 195.3h3.38"/>
<path stroke="#c6e0ed" d="M140.49 195.3h3.38M78.42 229.53h3.38M117.22 277.44h3.38M97.82 284.29h3.38M152.13 503.33h3.38M256.87 564.94h3.38"/>
<path stroke="#da6b55" d="M187.04 195.3h3.38"/>
<path stroke="#f4dfd1" d="M202.56 195.3h3.38M202.56 215.83h3.38M78.42 523.87h3.38"/>
<path stroke="#c03438" d="M237.47 195.3h3.38M55.15 544.41h3.38"/>
<path stroke="#eb9376" d="M233.59 202.14h3.38M229.72 222.68h3.38M90.06 496.49h3.38M35.75 503.33h3.38M97.82 503.33h3.38M109.46 517.02h3.38"/>
<path stroke="#c03539" d="M237.47 202.14h3.38M132.73 407.5h3.38"/>
<path stroke="#c8e1ed" d="M86.18 208.99h3.38M152.13 537.56h3.38"/>
<path stroke="#ef9d7d" d="M187.04 208.99h3.38M187.04 291.13h3.38M39.63 441.73h3.38"/>
<path stroke="#e38167" d="M233.59 208.99h3.38"/>
<path stroke="#c2373a" d="M237.47 208.99h3.38M55.15 578.63h3.38"/>
<path stroke="#9dcae1" d="M124.97 215.83h3.38M74.54 263.75h3.38"/>
<path stroke="#f1a383" d="M187.04 215.83h3.38M59.03 318.51h3.38M117.22 441.73h3.38M51.27 530.72h3.38M93.94 544.41h3.38"/>
<path stroke="#e88d71" d="M229.72 215.83h3.38M97.82 311.67h3.38M109.46 373.27h3.38"/>
<path stroke="#ec9779" d="M233.59 215.83h3.38M144.37 263.75h3.38M39.63 578.63h3.38"/>
<path stroke="#ee9a7b" d="M256.87 215.83h3.38M39.63 386.97h3.38M132.73 421.19h3.38"/>
<path stroke="#f0a182" d="M190.92 229.53h3.38M39.63 496.49h3.38"/>
<path stroke="#e48268" d="M214.2 229.53h3.38M93.94 373.27h3.38M66.78 421.19h3.38"/>
<path stroke="#f4b396" d="M241.35 229.53h3.38M241.35 284.29h3.38M55.15 393.81h3.38"/>
<path stroke="#9fcbe2" d="M121.09 236.37h3.38"/>
<path stroke="#f09f80" d="M187.04 236.37h3.38"/>
<path stroke="#f0a181" d="M194.8 236.37h3.38M252.99 297.98h3.38M62.91 318.51h3.38M140.49 434.88h3.38"/>
<path stroke="#d7634f" d="M256.87 236.37h3.38M55.15 537.56h3.38"/>
<path stroke="#a1cce2" d="M124.97 243.22h3.38"/>
<path stroke="#db6d58" d="M171.53 243.22h3.38"/>
<path stroke="#ebe7e6" d="M190.92 243.22h3.38M117.22 482.8h3.38"/>
<path stroke="#e37f66" d="M194.8 243.22h3.38"/>
<path stroke="#f8cab3" d="M221.96 243.22h3.38M109.46 551.25h3.38"/>
<path stroke="#d76450" d="M256.87 243.22h3.38M136.61 434.88h3.38"/>
<path stroke="#9ecbe2" d="M74.54 250.06h3.38"/>
<path stroke="#cce2ef" d="M93.94 250.06h3.38M233.59 434.88h3.38M163.77 489.64h3.38M252.99 489.64h3.38M163.77 544.41h3.38M194.8 578.63h3.38"/>
<path stroke="#c43c3c" d="M256.87 250.06h3.38M101.7 407.5h3.38M121.09 469.11h3.38"/>
<path stroke="#acd2e6" d="M70.66 256.91h3.38M74.54 270.6h3.38"/>
<path stroke="#a5cfe4" d="M124.97 256.91h3.38"/>
<path stroke="#be3036" d="M179.28 256.91h3.38M124.97 434.88h3.38"/>
<path stroke="#e17c63" d="M221.96 256.91h3.38M43.51 352.74h3.38"/>
<path stroke="#c33a3b" d="M256.87 256.91h3.38M179.28 284.29h3.38"/>
<path stroke="#9fcce2" d="M124.97 263.75h3.38"/>
<path stroke="#b2182b" d="M179.28 263.75h3.38M59.03 407.5h3.38"/>
<path stroke="#f5decf" d="M190.92 263.75h3.38M218.08 284.29h3.38M66.78 564.94h3.38"/>
<path stroke="#f3e0d3" d="M214.2 263.75h3.38"/>
<path stroke="#b31a2c" d="M179.28 270.6h3.38M86.18 366.43h3.38M47.39 571.79h3.38"/>
<path stroke="#9bcae1" d="M124.97 277.44h3.38M70.66 291.13h3.38"/>
<path stroke="#de735c" d="M144.37 277.44h3.38"/>
<path stroke="#bb2933" d="M179.28 277.44h3.38"/>
<path stroke="#e98f72" d="M144.37 284.29h3.38M136.61 400.66h3.38"/>
<path stroke="#d0e5f0" d="M90.06 291.13h3.38M101.7 304.82h3.38M66.78 332.2h3.38M109.46 339.05h3.38M190.92 352.74h3.38M252.99 359.58h3.38M124.97 366.43h3.38M225.84 386.97h3.38M148.25 393.81h3.38M167.65 407.5h3.38M190.92 407.5h3.38M187.04 414.35h3.38M171.53 434.88h3.38M175.41 462.26h3.38M225.84 489.64h3.38M245.23 489.64h3.38M148.25 523.87h3.38M179.28 551.25h3.38"/>
<path stroke="#a3cde3" d="M121.09 291.13h3.38"/>
<path stroke="#e07760" d="M144.37 291.13h3.38"/>
<path stroke="#bc2c34" d="M179.28 291.13h3.38"/>
<path stroke="#d3594a" d="M237.47 291.13h3.38"/>
<path stroke="#afd3e6" d="M121.09 297.98h3.38"/>
<path stroke="#8a0b25" d="M179.28 297.98h3.38"/>
<path stroke="#d5e6ef" d="M90.06 304.82h3.38M167.65 304.82h3.38M214.2 304.82h3.38M156.01 311.67h3.38M214.2 311.67h3.38M252.99 311.67h3.38M221.96 318.51h3.38M225.84 318.51h3.38M39.63 325.36h3.38M152.13 325.36h3.38M156.01 325.36h3.38M206.44 325.36h3.38M256.87 325.36h3.38M221.96 332.2h3.38M237.47 332.2h3.38M62.91 339.05h3.38M237.47 339.05h3.38M152.13 345.89h3.38M35.75 352.74h3.38M159.89 352.74h3.38M179.28 352.74h3.38M43.51 366.43h3.38M148.25 366.43h3.38M202.56 366.43h3.38M233.59 366.43h3.38M237.47 366.43h3.38M233.59 373.27h3.38M156.01 380.12h3.38M159.89 380.12h3.38M187.04 380.12h3.38M210.32 386.97h3.38M179.28 393.81h3.38M245.23 393.81h3.38M152.13 400.66h3.38M124.97 407.5h3.38M221.96 407.5h3.38M148.25 414.35h3.38M229.72 421.19h3.38M252.99 421.19h3.38M256.87 421.19h3.38M35.75 428.04h3.38M97.82 428.04h3.38M148.25 441.73h3.38M229.72 441.73h3.38M78.42 448.57h3.38M237.47 448.57h3.38M210.32 462.26h3.38M159.89 475.95h3.38M206.44 475.95h3.38M163.77 482.8h3.38M132.73 489.64h3.38M210.32 496.49h3.38M221.96 496.49h3.38"/>
<path stroke="#d3e5ef" d="M175.41 304.82h3.38M249.11 304.82h3.38M179.28 311.67h3.38M183.16 318.51h3.38M148.25 325.36h3.38M163.77 325.36h3.38M214.2 325.36h3.38M47.39 332.2h3.38M156.01 332.2h3.38M187.04 332.2h3.38M256.87 332.2h3.38M249.11 345.89h3.38M156.01 352.74h3.38M167.65 352.74h3.38M194.8 359.58h3.38M198.68 366.43h3.38M51.27 373.27h3.38M171.53 373.27h3.38M109.46 393.81h3.38M167.65 393.81h3.38M113.34 400.66h3.38M198.68 400.66h3.38M218.08 400.66h3.38M241.35 400.66h3.38M256.87 407.5h3.38M198.68 421.19h3.38M233.59 421.19h3.38M159.89 428.04h3.38M194.8 428.04h3.38M183.16 434.88h3.38M198.68 441.73h3.38M218.08 441.73h3.38M39.63 448.57h3.38M175.41 448.57h3.38M190.92 448.57h3.38M183.16 455.42h3.38M78.42 462.26h3.38M187.04 462.26h3.38M225.84 462.26h3.38M245.23 469.11h3.38M70.66 475.95h3.38M136.61 475.95h3.38M74.54 482.8h3.38M156.01 482.8h3.38M179.28 482.8h3.38M218.08 482.8h3.38M190.92 489.64h3.38M241.35 489.64h3.38M152.13 496.49h3.38"/>
<path stroke="#a5cee3" d="M101.7 311.67h3.38"/>
<path stroke="#f3af91" d="M132.73 311.67h3.38"/>
<path stroke="#d25849" d="M144.37 311.67h3.38M121.09 434.88h3.38"/>
<path stroke="#d4e6ef" d="M148.25 311.67h3.38M210.32 311.67h3.38M187.04 325.36h3.38M210.32 325.36h3.38M221.96 325.36h3.38M233.59 325.36h3.38M136.61 332.2h3.38M183.16 339.05h3.38M121.09 345.89h3.38M124.97 359.58h3.38M140.49 373.27h3.38M163.77 373.27h3.38M221.96 373.27h3.38M229.72 373.27h3.38M167.65 386.97h3.38M214.2 386.97h3.38M47.39 393.81h3.38M221.96 400.66h3.38M152.13 407.5h3.38M175.41 428.04h3.38M249.11 428.04h3.38M156.01 434.88h3.38M159.89 434.88h3.38M86.18 441.73h3.38M245.23 448.57h3.38M206.44 469.11h3.38M252.99 482.8h3.38M167.65 496.49h3.38M194.8 496.49h3.38M233.59 496.49h3.38"/>
<path stroke="#d3e5f0" d="M221.96 311.67h3.38M218.08 318.51h3.38M159.89 359.58h3.38M128.85 407.5h3.38M105.58 441.73h3.38M152.13 462.26h3.38"/>
<path stroke="#eb9577" d="M51.27 318.51h3.38M35.75 558.1h3.38"/>
<path stroke="#f6bda2" d="M82.3 318.51h3.38M59.03 332.2h3.38M117.22 352.74h3.38"/>
<path stroke="#f4b79c" d="M101.7 318.51h3.38"/>
<path stroke="#f2ad8f" d="M59.03 325.36h3.38M144.37 475.95h3.38M51.27 523.87h3.38"/>
<path stroke="#d6604d" d="M51.27 332.2h3.38"/>
<path stroke="#bf3237" d="M93.94 332.2h3.38"/>
<path stroke="#9f1228" d="M97.82 332.2h3.38"/>
<path stroke="#f2ac8f" d="M105.58 332.2h3.38M35.75 373.27h3.38M78.42 407.5h3.38M47.39 523.87h3.38M97.82 585.48h3.38"/>
<path stroke="#fbd9c3" d="M148.25 332.2h3.38"/>
<path stroke="#f1a484" d="M66.78 339.05h3.38M70.66 407.5h3.38M51.27 434.88h3.38"/>
<path stroke="#f0a383" d="M82.3 339.05h3.38M113.34 373.27h3.38M74.54 469.11h3.38"/>
<path stroke="#b41d2d" d="M132.73 339.05h3.38"/>
<path stroke="#f2ab8e" d="M136.61 345.89h3.38M132.73 434.88h3.38"/>
<path stroke="#ef9c7d" d="M78.42 352.74h3.38"/>
<path stroke="#f5b79c" d="M93.94 352.74h3.38M51.27 475.95h3.38"/>
<path stroke="#d76350" d="M105.58 352.74h3.38"/>
<path stroke="#b82431" d="M140.49 352.74h3.38"/>
<path stroke="#f6bfa4" d="M97.82 359.58h3.38M109.46 359.58h3.38M109.46 558.1h3.38"/>
<path stroke="#c2383a" d="M128.85 359.58h3.38M121.09 421.19h3.38"/>
<path stroke="#f1a789" d="M132.73 366.43h3.38M59.03 393.81h3.38M43.51 564.94h3.38"/>
<path stroke="#ba2732" d="M82.3 373.27h3.38"/>
<path stroke="#bedbea" d="M97.82 373.27h3.38M249.11 530.72h3.38"/>
<path stroke="#9ac9e0" d="M121.09 373.27h3.38"/>
<path stroke="#f4b296" d="M70.66 380.12h3.38M51.27 571.79h3.38"/>
<path stroke="#d35a4a" d="M132.73 380.12h3.38"/>
<path stroke="#f8c7ae" d="M86.18 386.97h3.38"/>
<path stroke="#d7624e" d="M128.85 386.97h3.38"/>
<path stroke="#f5bca2" d="M171.53 386.97h3.38"/>
<path stroke="#f1a384" d="M140.49 393.81h3.38M144.37 434.88h3.38M136.61 469.11h3.38M43.51 530.72h3.38M43.51 544.41h3.38"/>
<path stroke="#f6bfa6" d="M35.75 400.66h3.38M93.94 407.5h3.38M82.3 510.18h3.38"/>
<path stroke="#f3ae90" d="M93.94 400.66h3.38"/>
<path stroke="#f9cfb7" d="M214.2 400.66h3.38"/>
<path stroke="#e78a6e" d="M66.78 407.5h3.38"/>
<path stroke="#cd4e44" d="M117.22 407.5h3.38"/>
<path stroke="#ac162a" d="M43.51 421.19h3.38"/>
<path stroke="#ea9073" d="M82.3 421.19h3.38M51.27 544.41h3.38"/>
<path stroke="#c84340" d="M86.18 421.19h3.38"/>
<path stroke="#df765f" d="M124.97 421.19h3.38M113.34 558.1h3.38"/>
<path stroke="#ce5146" d="M66.78 428.04h3.38M47.39 551.25h3.38"/>
<path stroke="#de735d" d="M121.09 428.04h3.38"/>
<path stroke="#c3393b" d="M121.09 441.73h3.38"/>
<path stroke="#f2a889" d="M113.34 448.57h3.38M62.91 585.48h3.38"/>
<path stroke="#d96853" d="M121.09 448.57h3.38M109.46 564.94h3.38"/>
<path stroke="#f2a88a" d="M35.75 455.42h3.38M93.94 482.8h3.38"/>
<path stroke="#b92531" d="M59.03 455.42h3.38"/>
<path stroke="#a21328" d="M93.94 455.42h3.38"/>
<path stroke="#c13639" d="M121.09 455.42h3.38"/>
<path stroke="#c7423f" d="M47.39 462.26h3.38"/>
<path stroke="#f1e2da" d="M109.46 462.26h3.38"/>
<path stroke="#cb4b43" d="M121.09 462.26h3.38"/>
<path stroke="#a41329" d="M78.42 469.11h3.38"/>
<path stroke="#ae172a" d="M97.82 469.11h3.38"/>
<path stroke="#f8ccb5" d="M101.7 469.11h3.38"/>
<path stroke="#a3cee3" d="M109.46 469.11h3.38"/>
<path stroke="#a81529" d="M140.49 469.11h3.38"/>
<path stroke="#ed997b" d="M90.06 475.95h3.38"/>
<path stroke="#c6413e" d="M121.09 475.95h3.38M51.27 517.02h3.38"/>
<path stroke="#f4b59a" d="M43.51 482.8h3.38"/>
<path stroke="#d45d4b" d="M121.09 482.8h3.38"/>
<path stroke="#b0182b" d="M74.54 489.64h3.38"/>
<path stroke="#df775f" d="M121.09 489.64h3.38"/>
<path stroke="#d45c4b" d="M59.03 496.49h3.38"/>
<path stroke="#d55f4c" d="M93.94 496.49h3.38"/>
<path stroke="#b72230" d="M121.09 496.49h3.38"/>
<path stroke="#c13539" d="M124.97 496.49h3.38"/>
<path stroke="#f7c4ac" d="M132.73 496.49h3.38"/>
<path stroke="#e88b6f" d="M43.51 503.33h3.38"/>
<path stroke="#aa152a" d="M51.27 503.33h3.38"/>
<path stroke="#d05548" d="M55.15 503.33h3.38"/>
<path stroke="#f2a98a" d="M55.15 510.18h3.38M43.51 558.1h3.38"/>
<path stroke="#d96753" d="M39.63 517.02h3.38M113.34 517.02h3.38"/>
<path stroke="#bc2d35" d="M97.82 523.87h3.38"/>
<path stroke="#d55e4c" d="M109.46 523.87h3.38M55.15 564.94h3.38"/>
<path stroke="#a31329" d="M39.63 530.72h3.38"/>
<path stroke="#eb9375" d="M55.15 530.72h3.38"/>
<path stroke="#dc6e58" d="M97.82 530.72h3.38"/>
<path stroke="#cf5247" d="M113.34 530.72h3.38"/>
<path stroke="#b4d7e8" d="M194.8 530.72h3.38"/>
<path stroke="#bc2b34" d="M97.82 537.56h3.38"/>
<path stroke="#eee5e0" d="M136.61 537.56h3.38"/>
<path stroke="#d6614e" d="M55.15 551.25h3.38"/>
<path stroke="#de755e" d="M47.39 558.1h3.38"/>
<path stroke="#c43d3c" d="M55.15 558.1h3.38"/>
<path stroke="#e7896e" d="M93.94 558.1h3.38"/>
<path stroke="#cb4a43" d="M55.15 571.79h3.38M51.27 585.48h3.38"/>
<path stroke="#ec9578" d="M35.75 578.63h3.38"/>
<path stroke="#e5856b" d="M43.51 578.63h3.38"/>
<path stroke="#ce4f45" d="M109.46 578.63h3.38"/>
<path stroke="#cf5347" d="M55.15 585.48h3.38"/>
<path stroke="#d2594a" d="M93.94 585.48h3.38"/>
</g>
<rect x="35.5" y="10.3" width="112.5" height="3.0" fill="#00cc00"/>
<rect x="148" y="10.3" width="112.5" height="3.0" fill="#0000ee"/>
<path d="M39.38 10.3v3M43.26 10.3v3M47.14 10.3v3M51.02 10.3v3M54.9 10.3v3M58.78 10.3v3M62.66 10.3v3M66.53 10.3v3M70.41 10.3v3M74.29 10.3v3M78.17 10.3v3M82.05 10.3v3M85.93 10.3v3M89.81 10.3v3M93.69 10.3v3M97.57 10.3v3M101.45 10.3v3M105.33 10.3v3M109.21 10.3v3M113.09 10.3v3M116.97 10.3v3M120.84 10.3v3M124.72 10.3v3M128.6 10.3v3M132.48 10.3v3M136.36 10.3v3M140.24 10.3v3M144.12 10.3v3M148 10.3v3M151.88 10.3v3M155.76 10.3v3M159.64 10.3v3M163.52 10.3v3M167.4 10.3v3M171.28 10.3v3M175.16 10.3v3M179.03 10.3v3M182.91 10.3v3M186.79 10.3v3M190.67 10.3v3M194.55 10.3v3M198.43 10.3v3M202.31 10.3v3M206.19 10.3v3M210.07 10.3v3M213.95 10.3v3M217.83 10.3v3M221.71 10.3v3M225.59 10.3v3M229.47 10.3v3M233.34 10.3v3M237.22 10.3v3M241.1 10.3v3M244.98 10.3v3M248.86 10.3v3M252.74 10.3v3M256.62 10.3v3" stroke="#ffffff" stroke-opacity="0.35" stroke-width="0.4"/>
<path d="M35.5 17.32H31.06V24.17H35.5M35.5 31.01H31.38V37.86H35.5M31.38 34.44H30.02V44.7H35.5M35.5 51.55H30.47V58.39H35.5M30.02 39.57H28.84V54.97H30.47M31.06 20.75H27.44V47.27H28.84M35.5 65.24H29.79V72.08H35.5M35.5 78.93H30.43V85.78H35.5M35.5 92.62H30.94V99.47H35.5M30.43 82.35H29.31V96.04H30.94M29.79 68.66H28.17V89.2H29.31M27.44 34.01H26.55V78.93H28.17M35.5 106.31H29.27V113.16H35.5M29.27 109.73H27.64V120H35.5M35.5 126.85H31.5V133.69H35.5M27.64 114.87H26.09V130.27H31.5M35.5 140.54H29.64V147.38H35.5M29.64 143.96H28.04V154.23H35.5M35.5 161.07H29.18V167.92H35.5M28.04 149.09H27.49V164.5H29.18M26.09 122.57H25.56V156.79H27.49M26.55 56.47H24.46V139.68H25.56M35.5 174.76H29.56V181.61H35.5M29.56 178.19H28.4V188.45H35.5M28.4 183.32H27.36V195.3H35.5M35.5 208.99H29.63V215.83H35.5M35.5 202.14H29.1V212.41H29.63M27.36 189.31H26.54V207.28H29.1M35.5 222.68H29.96V229.53H35.5M35.5 236.37H29.39V243.22H35.5M35.5 250.06H30.73V256.91H35.5M29.39 239.79H27.83V253.48H30.73M29.96 226.1H27.05V246.64H27.83M26.54 198.29H24.95V236.37H27.05M35.5 263.75H30.27V270.6H35.5M35.5 277.44H31.38V284.29H35.5M30.27 267.17H29.09V280.86H31.38M35.5 291.13H29.91V297.98H35.5M29.09 274.02H28.12V294.55H29.91M24.95 217.33H24.02V284.29H28.12M24.46 98.08H23V250.81H24.02M35.5 304.82H30.2V311.67H35.5M35.5 318.51H30.99V325.36H35.5M30.2 308.25H29.33V321.94H30.99M35.5 332.2H31.1V339.05H35.5M29.33 315.09H28.64V335.63H31.1M35.5 345.89H31.99V352.74H35.5M31.99 349.32H31.02V359.58H35.5M28.64 325.36H27.95V354.45H31.02M35.5 366.43H32.17V373.27H35.5M35.5 380.12H31.94V386.97H35.5M32.17 369.85H31.08V383.54H31.94M35.5 393.81H31.08V400.66H35.5M31.08 376.7H30.25V397.23H31.08M35.5 407.5H30.28V414.35H35.5M35.5 421.19H32.06V428.04H35.5M30.28 410.92H29.28V424.61H32.06M30.25 386.97H28.65V417.77H29.28M35.5 441.73H31.77V448.57H35.5M35.5 434.88H30.9V445.15H31.77M30.9 440.02H29.77V455.42H35.5M35.5 462.26H30.29V469.11H35.5M30.29 465.69H29.13V475.95H35.5M29.13 470.82H28.32V482.8H35.5M29.77 447.72H27.7V476.81H28.32M28.65 402.37H26.44V462.26H27.7M27.95 339.9H25.31V432.32H26.44M35.5 489.64H31.66V496.49H35.5M35.5 503.33H32.16V510.18H35.5M31.66 493.07H31.08V506.76H32.16M35.5 517.02H30.85V523.87H35.5M31.08 499.91H30.13V520.45H30.85M35.5 537.56H31.91V544.41H35.5M35.5 530.72H31.56V540.98H31.91M30.13 510.18H29.19V535.85H31.56M35.5 551.25H30.59V558.1H35.5M30.59 554.67H30.1V564.94H35.5M35.5 578.63H30.21V585.48H35.5M35.5 571.79H29.58V582.05H30.21M30.1 559.81H28.67V576.92H29.58M29.19 523.01H27.48V568.36H28.67M25.31 386.11H24.3V545.69H27.48M23 174.44H21V465.9H24.3" fill="none" stroke="#666" stroke-width="0.6"/>
<g font-family="'Liberation Sans', sans-serif" font-size="6.6" fill="#000" transform="translate(263,0) scale(0.82,1)">
<text x="0" y="20.62">Lipoxin A4</text>
<text x="0" y="27.47">8,12,16,19-docosatetraenoic acid</text>
<text x="0" y="34.31">Malvalic acid</text>
<text x="0" y="41.16">Indoline</text>
<text x="0" y="48">Prostaglandin F1alpha</text>
<text x="0" y="54.85">Arachidonoyl dopamine</text>
<text x="0" y="61.69">Lyso-PAF C-18</text>
<text x="0" y="68.54">D-Pantetheine 4'-phosphate</text>
<text x="0" y="75.38">PI(20:4(5Z,8Z,11Z,14Z)/0:0)</text>
<text x="0" y="82.23">PI(18:0/0:0)</text>
<text x="0" y="89.08">L-Ascorbic acid-2-glucoside</text>
<text x="0" y="95.92">Inosine 5'-monophosphate</text>
<text x="0" y="102.77">C16 Sphinganine</text>
<text x="0" y="109.61">4-Aminobenzenesulfonate</text>
<text x="0" y="116.46">Migltol</text>
<text x="0" y="123.3">Leukotriene B4</text>
<text x="0" y="130.15">HGLEA</text>
<text x="0" y="136.99">2-Methoxy-6Z-hexadecenoic acid</text>
<text x="0" y="143.84">1-Naphthylacetylspermine</text>
<text x="0" y="150.68">Lyso-PAF C-16</text>
<text x="0" y="157.53">Glycocholic acid</text>
<text x="0" y="164.37">D-Glucose 6-phosphate</text>
<text x="0" y="171.22">LPI(16:0)</text>
<text x="0" y="178.06">L-Asparagine</text>
<text x="0" y="184.91">LPI(20:4)</text>
<text x="0" y="191.75">Aflatoxin M4</text>
<text x="0" y="198.6">2-Undecylpyrrole</text>
<text x="0" y="205.44">13,14-dihydro-15-keto-PGF1alpha</text>
<text x="0" y="212.29">13,14-dihydro Prostaglandin F1alpha</text>
<text x="0" y="219.13">FA(22:4)</text>
<text x="0" y="225.98">METENEPROST</text>
<text x="0" y="232.83">Oxypurinol</text>
<text x="0" y="239.67">Acetylcysteine</text>
<text x="0" y="246.52">D-Histidine</text>
<text x="0" y="253.36">L-Serine</text>
<text x="0" y="260.21">N-Acetyl-D-glucosaminate</text>
<text x="0" y="267.05">Osbond acid</text>
<text x="0" y="273.9">Docosahexaenoic acid</text>
<text x="0" y="280.74">Tetrahydrocorticosterone</text>
<text x="0" y="287.59">Pantothenic Acid</text>
<text x="0" y="294.43">7alpha-Hydroxycholest-4-en-3-o</text>
<text x="0" y="301.28">PE(P-16:0e/0:0)</text>
<text x="0" y="308.12">5,6-Dihydrothymine</text>
<text x="0" y="314.97">S-Acetyldihydrolipoamide</text>
<text x="0" y="321.81">PC(16:0/18:1)</text>
<text x="0" y="328.66">Oxocholestenone</text>
<text x="0" y="335.5">N-Methylanthranilamide</text>
<text x="0" y="342.35">Heptanoic acid</text>
<text x="0" y="349.19">Pyridoxamine</text>
<text x="0" y="356.04">2-n-Propyl-4-pentenoic acid</text>
<text x="0" y="362.88">N3-Methyladenine</text>
<text x="0" y="369.73">MG(20:2)</text>
<text x="0" y="376.57">L-Valine</text>
<text x="0" y="383.42">Selenophosphoric acid</text>
<text x="0" y="390.27">PE(18:0/20:4)</text>
<text x="0" y="397.11">N-Acetylimidazole</text>
<text x="0" y="403.96">N-Methyl-L-arginine</text>
<text x="0" y="410.8">Valproic acid</text>
<text x="0" y="417.65">2,4-Hexadienal</text>
<text x="0" y="424.49">2-Carboxybenzadehyde</text>
<text x="0" y="431.34">4beta,5-Epoxy-17beta-hydroxy-5</text>
<text x="0" y="438.18">7alpha,27-dihydroxycholestenon</text>
<text x="0" y="445.03">1-oxoprevitamin D3</text>
<text x="0" y="451.87">Dibutyl adipate</text>
<text x="0" y="458.72">PC(18:0p-2:0e)</text>
<text x="0" y="465.56">Uridine5-monophosphate</text>
<text x="0" y="472.41">L-Threonylcarbamoyladenylate</text>
<text x="0" y="479.25">N6-Succinyl adenosine</text>
<text x="0" y="486.1">Octadecanoic acid</text>
<text x="0" y="492.94">Dephospho-CoA</text>
<text x="0" y="499.79">PI3-Kinase alpha-Inhibitor2</text>
<text x="0" y="506.63">D-Erythrulose</text>
<text x="0" y="513.48">Dihydrolipoate</text>
<text x="0" y="520.32">2-Methylbutyroylcarnitine</text>
<text x="0" y="527.17">Isovalerylcarnitine</text>
<text x="0" y="534.02">Propionyl-L-carnitine</text>
<text x="0" y="540.86">N-Octanoyl-L-homoserine lacton</text>
<text x="0" y="547.71">Isobutyryl carnitine</text>
<text x="0" y="554.55">Citronellyl acetate</text>
<text x="0" y="561.4">Thyroxine</text>
<text x="0" y="568.24">(R)-Stearoylcarnitine</text>
<text x="0" y="575.09">Fucosterol epoxide</text>
<text x="0" y="581.93">Trihydroxycoprostane</text>
<text x="0" y="588.78">3alpha,7alpha-Dihydroxy-5beta-</text>
</g>
<g font-family="'Liberation Sans', sans-serif" font-size="4.4" font-weight="bold" fill="#3a3a3a">
<text transform="translate(35.86,589.2) rotate(90)">CON012</text>
<text transform="translate(39.74,589.2) rotate(90)">CON023</text>
<text transform="translate(43.62,589.2) rotate(90)">CON031</text>
<text transform="translate(47.5,589.2) rotate(90)">CON042</text>
<text transform="translate(51.38,589.2) rotate(90)">CON053</text>
<text transform="translate(55.26,589.2) rotate(90)">CON061</text>
<text transform="translate(59.14,589.2) rotate(90)">CON072</text>
<text transform="translate(63.01,589.2) rotate(90)">CON083</text>
<text transform="translate(66.89,589.2) rotate(90)">CON091</text>
<text transform="translate(70.77,589.2) rotate(90)">CON102</text>
<text transform="translate(74.65,589.2) rotate(90)">CON113</text>
<text transform="translate(78.53,589.2) rotate(90)">CON121</text>
<text transform="translate(82.41,589.2) rotate(90)">CON132</text>
<text transform="translate(86.29,589.2) rotate(90)">CON143</text>
<text transform="translate(90.17,589.2) rotate(90)">CON151</text>
<text transform="translate(94.05,589.2) rotate(90)">CON162</text>
<text transform="translate(97.93,589.2) rotate(90)">CON173</text>
<text transform="translate(101.81,589.2) rotate(90)">CON181</text>
<text transform="translate(105.69,589.2) rotate(90)">CON192</text>
<text transform="translate(109.57,589.2) rotate(90)">CON203</text>
<text transform="translate(113.45,589.2) rotate(90)">CON211</text>
<text transform="translate(117.33,589.2) rotate(90)">CON222</text>
<text transform="translate(121.2,589.2) rotate(90)">CON233</text>
<text transform="translate(125.08,589.2) rotate(90)">CON241</text>
<text transform="translate(128.96,589.2) rotate(90)">CON252</text>
<text transform="translate(132.84,589.2) rotate(90)">CON263</text>
<text transform="translate(136.72,589.2) rotate(90)">CON271</text>
<text transform="translate(140.6,589.2) rotate(90)">CON282</text>
<text transform="translate(144.48,589.2) rotate(90)">CON293</text>
<text transform="translate(148.36,589.2) rotate(90)">POI012</text>
<text transform="translate(152.24,589.2) rotate(90)">POI023</text>
<text transform="translate(156.12,589.2) rotate(90)">POI031</text>
<text transform="translate(160,589.2) rotate(90)">POI042</text>
<text transform="translate(163.88,589.2) rotate(90)">POI053</text>
<text transform="translate(167.76,589.2) rotate(90)">POI061</text>
<text transform="translate(171.64,589.2) rotate(90)">POI072</text>
<text transform="translate(175.51,589.2) rotate(90)">POI083</text>
<text transform="translate(179.39,589.2) rotate(90)">POI091</text>
<text transform="translate(183.27,589.2) rotate(90)">POI102</text>
<text transform="translate(187.15,589.2) rotate(90)">POI113</text>
<text transform="translate(191.03,589.2) rotate(90)">POI121</text>
<text transform="translate(194.91,589.2) rotate(90)">POI132</text>
<text transform="translate(198.79,589.2) rotate(90)">POI143</text>
<text transform="translate(202.67,589.2) rotate(90)">POI151</text>
<text transform="translate(206.55,589.2) rotate(90)">POI162</text>
<text transform="translate(210.43,589.2) rotate(90)">POI173</text>
<text transform="translate(214.31,589.2) rotate(90)">POI181</text>
<text transform="translate(218.19,589.2) rotate(90)">POI192</text>
<text transform="translate(222.07,589.2) rotate(90)">POI203</text>
<text transform="translate(225.95,589.2) rotate(90)">POI211</text>
<text transform="translate(229.83,589.2) rotate(90)">POI222</text>
<text transform="translate(233.7,589.2) rotate(90)">POI233</text>
<text transform="translate(237.58,589.2) rotate(90)">POI241</text>
<text transform="translate(241.46,589.2) rotate(90)">POI252</text>
<text transform="translate(245.34,589.2) rotate(90)">POI263</text>
<text transform="translate(249.22,589.2) rotate(90)">POI271</text>
<text transform="translate(253.1,589.2) rotate(90)">POI282</text>
<text transform="translate(256.98,589.2) rotate(90)">POI293</text>
</g>
<defs><linearGradient id="lg" x1="0" y1="0" x2="0" y2="1"><stop offset="0" stop-color="#67001F"/><stop offset="0.1" stop-color="#B2182B"/><stop offset="0.2" stop-color="#D6604D"/><stop offset="0.3" stop-color="#F0A080"/><stop offset="0.4" stop-color="#FBD9C4"/><stop offset="0.5" stop-color="#E9E9E9"/><stop offset="0.6" stop-color="#D1E5F0"/><stop offset="0.7" stop-color="#92C5DE"/><stop offset="0.8" stop-color="#4393C3"/><stop offset="0.9" stop-color="#2166AC"/><stop offset="1" stop-color="#053061"/></linearGradient></defs>
<rect x="345.2" y="14.1" width="6.2" height="101.7" fill="url(#lg)"/>
<g font-family="'Liberation Sans', sans-serif" font-size="5" fill="#222">
<text x="353.5" y="24.8">4</text>
<text x="353.5" y="46.4">2</text>
<text x="353.5" y="67.1">0</text>
<text x="353.5" y="88.5">-2</text>
<text x="353.5" y="109.6">-4</text>
<text x="359.2" y="18.1" font-weight="bold">Class</text>
<rect x="359.2" y="20.4" width="6.8" height="8.1" fill="#00cc00" stroke="#aaa" stroke-width="0.3"/>
<rect x="359.2" y="28.5" width="6.8" height="7.8" fill="#0000ee" stroke="#aaa" stroke-width="0.3"/>
<text x="367.6" y="26.3">CON</text>
<text x="367.6" y="34.3">POI</text>
</g>
<text x="0.2" y="16" font-family="'Liberation Sans', sans-serif" font-weight="bold" font-size="21.8" fill="#231815">A</text>
<rect x="426.1" y="20.4" width="231.9" height="224.8" fill="#fff"/>
<ellipse cx="502.6" cy="133.4" rx="50.5" ry="59.6" transform="rotate(-33.1 502.6 133.4)" fill="#eeeefc"/>
<ellipse cx="598.6" cy="131.7" rx="35.6" ry="88.9" transform="rotate(2.1 598.6 131.7)" fill="#eef8ec"/>
<path d="M445.3 20.4V245.2M426.1 227.7H658.0M480.4 20.4V245.2M426.1 196.2H658.0M515.5 20.4V245.2M426.1 164.7H658.0M550.6 20.4V245.2M426.1 133.2H658.0M585.7 20.4V245.2M426.1 101.7H658.0M620.8 20.4V245.2M426.1 70.2H658.0M655.9 20.4V245.2M426.1 38.7H658.0" stroke="#d8d8d8" stroke-width="0.6" fill="none"/>
<path d="M445.3 245.2v2.7M426.1 227.7h-2.7M480.4 245.2v2.7M426.1 196.2h-2.7M515.5 245.2v2.7M426.1 164.7h-2.7M550.6 245.2v2.7M426.1 133.2h-2.7M585.7 245.2v2.7M426.1 101.7h-2.7M620.8 245.2v2.7M426.1 70.2h-2.7M655.9 245.2v2.7M426.1 38.7h-2.7" stroke="#666" stroke-width="0.6" fill="none"/>
<rect x="426.1" y="20.4" width="231.9" height="224.8" fill="none" stroke="#6a6a6a" stroke-width="0.8"/>
<circle cx="522.1" cy="72.0" r="2.55" fill="#0000f0" stroke="#10103a" stroke-width="0.45"/>
<circle cx="476.4" cy="100.7" r="2.55" fill="#0000f0" stroke="#10103a" stroke-width="0.45"/>
<circle cx="473.0" cy="105.0" r="2.55" fill="#0000f0" stroke="#10103a" stroke-width="0.45"/>
<circle cx="489.5" cy="108.8" r="2.55" fill="#0000f0" stroke="#10103a" stroke-width="0.45"/>
<circle cx="498.0" cy="107.8" r="2.55" fill="#0000f0" stroke="#10103a" stroke-width="0.45"/>
<circle cx="492.4" cy="112.5" r="2.55" fill="#0000f0" stroke="#10103a" stroke-width="0.45"/>
<circle cx="467.4" cy="123.7" r="2.55" fill="#0000f0" stroke="#10103a" stroke-width="0.45"/>
<circle cx="467.1" cy="131.5" r="2.55" fill="#0000f0" stroke="#10103a" stroke-width="0.45"/>
<circle cx="516.1" cy="120.5" r="2.55" fill="#0000f0" stroke="#10103a" stroke-width="0.45"/>
<circle cx="520.8" cy="124.2" r="2.55" fill="#0000f0" stroke="#10103a" stroke-width="0.45"/>
<circle cx="531.5" cy="126.5" r="2.55" fill="#0000f0" stroke="#10103a" stroke-width="0.45"/>
<circle cx="533.7" cy="125.0" r="2.55" fill="#0000f0" stroke="#10103a" stroke-width="0.45"/>
<circle cx="540.4" cy="128.9" r="2.55" fill="#0000f0" stroke="#10103a" stroke-width="0.45"/>
<circle cx="505.3" cy="133.4" r="2.55" fill="#0000f0" stroke="#10103a" stroke-width="0.45"/>
<circle cx="481.2" cy="138.8" r="2.55" fill="#0000f0" stroke="#10103a" stroke-width="0.45"/>
<circle cx="505.3" cy="142.0" r="2.55" fill="#0000f0" stroke="#10103a" stroke-width="0.45"/>
<circle cx="503.1" cy="144.4" r="2.55" fill="#0000f0" stroke="#10103a" stroke-width="0.45"/>
<circle cx="523.6" cy="138.6" r="2.55" fill="#0000f0" stroke="#10103a" stroke-width="0.45"/>
<circle cx="529.0" cy="138.4" r="2.55" fill="#0000f0" stroke="#10103a" stroke-width="0.45"/>
<circle cx="475.1" cy="145.3" r="2.55" fill="#0000f0" stroke="#10103a" stroke-width="0.45"/>
<circle cx="485.0" cy="145.9" r="2.55" fill="#0000f0" stroke="#10103a" stroke-width="0.45"/>
<circle cx="495.1" cy="146.1" r="2.55" fill="#0000f0" stroke="#10103a" stroke-width="0.45"/>
<circle cx="497.5" cy="147.7" r="2.55" fill="#0000f0" stroke="#10103a" stroke-width="0.45"/>
<circle cx="499.5" cy="152.2" r="2.55" fill="#0000f0" stroke="#10103a" stroke-width="0.45"/>
<circle cx="506.8" cy="155.4" r="2.55" fill="#0000f0" stroke="#10103a" stroke-width="0.45"/>
<circle cx="515.8" cy="153.2" r="2.55" fill="#0000f0" stroke="#10103a" stroke-width="0.45"/>
<circle cx="481.6" cy="155.4" r="2.55" fill="#0000f0" stroke="#10103a" stroke-width="0.45"/>
<circle cx="535.6" cy="204.1" r="2.55" fill="#0000f0" stroke="#10103a" stroke-width="0.45"/>
<circle cx="584.6" cy="79.9" r="2.55" fill="#00c400" stroke="#1a3a1a" stroke-width="0.45"/>
<circle cx="599.8" cy="82.9" r="2.55" fill="#00c400" stroke="#1a3a1a" stroke-width="0.45"/>
<circle cx="602.5" cy="84.5" r="2.55" fill="#00c400" stroke="#1a3a1a" stroke-width="0.45"/>
<circle cx="603.3" cy="89.7" r="2.55" fill="#00c400" stroke="#1a3a1a" stroke-width="0.45"/>
<circle cx="602.9" cy="92.2" r="2.55" fill="#00c400" stroke="#1a3a1a" stroke-width="0.45"/>
<circle cx="613.5" cy="97.6" r="2.55" fill="#00c400" stroke="#1a3a1a" stroke-width="0.45"/>
<circle cx="621.0" cy="96.5" r="2.55" fill="#00c400" stroke="#1a3a1a" stroke-width="0.45"/>
<circle cx="626.3" cy="100.7" r="2.55" fill="#00c400" stroke="#1a3a1a" stroke-width="0.45"/>
<circle cx="599.8" cy="99.0" r="2.55" fill="#00c400" stroke="#1a3a1a" stroke-width="0.45"/>
<circle cx="593.4" cy="102.3" r="2.55" fill="#00c400" stroke="#1a3a1a" stroke-width="0.45"/>
<circle cx="590.7" cy="108.1" r="2.55" fill="#00c400" stroke="#1a3a1a" stroke-width="0.45"/>
<circle cx="589.8" cy="109.8" r="2.55" fill="#00c400" stroke="#1a3a1a" stroke-width="0.45"/>
<circle cx="597.3" cy="112.1" r="2.55" fill="#00c400" stroke="#1a3a1a" stroke-width="0.45"/>
<circle cx="557.5" cy="142.5" r="2.55" fill="#00c400" stroke="#1a3a1a" stroke-width="0.45"/>
<circle cx="586.5" cy="141.5" r="2.55" fill="#00c400" stroke="#1a3a1a" stroke-width="0.45"/>
<circle cx="596.1" cy="144.0" r="2.55" fill="#00c400" stroke="#1a3a1a" stroke-width="0.45"/>
<circle cx="619.1" cy="144.0" r="2.55" fill="#00c400" stroke="#1a3a1a" stroke-width="0.45"/>
<circle cx="573.4" cy="154.4" r="2.55" fill="#00c400" stroke="#1a3a1a" stroke-width="0.45"/>
<circle cx="597.9" cy="152.9" r="2.55" fill="#00c400" stroke="#1a3a1a" stroke-width="0.45"/>
<circle cx="596.9" cy="160.6" r="2.55" fill="#00c400" stroke="#1a3a1a" stroke-width="0.45"/>
<circle cx="602.1" cy="162.0" r="2.55" fill="#00c400" stroke="#1a3a1a" stroke-width="0.45"/>
<circle cx="612.2" cy="163.5" r="2.55" fill="#00c400" stroke="#1a3a1a" stroke-width="0.45"/>
<circle cx="619.7" cy="158.9" r="2.55" fill="#00c400" stroke="#1a3a1a" stroke-width="0.45"/>
<circle cx="585.5" cy="168.2" r="2.55" fill="#00c400" stroke="#1a3a1a" stroke-width="0.45"/>
<circle cx="596.5" cy="170.3" r="2.55" fill="#00c400" stroke="#1a3a1a" stroke-width="0.45"/>
<circle cx="601.2" cy="177.1" r="2.55" fill="#00c400" stroke="#1a3a1a" stroke-width="0.45"/>
<circle cx="579.7" cy="179.2" r="2.55" fill="#00c400" stroke="#1a3a1a" stroke-width="0.45"/>
<circle cx="608.1" cy="185.4" r="2.55" fill="#00c400" stroke="#1a3a1a" stroke-width="0.45"/>
<circle cx="598.3" cy="201.2" r="2.55" fill="#00c400" stroke="#1a3a1a" stroke-width="0.45"/>
<rect x="635.4" y="20.4" width="22.6" height="18.5" fill="#fff" stroke="#6a6a6a" stroke-width="0.7"/>
<circle cx="639.9" cy="26.7" r="1.6" fill="#00c400"/><circle cx="639.9" cy="32.9" r="1.6" fill="#0000f0"/>
<g font-family="'Liberation Sans', sans-serif" font-size="5.2" fill="#333"><text x="644.6" y="29">CON</text><text x="644.6" y="34.7">POI</text></g>
<g font-family="'Liberation Sans', sans-serif" font-size="10" font-weight="bold" fill="#1a1a1a" text-anchor="middle">
<text transform="translate(445.3,257.9) scale(0.835,1)">-30000</text>
<text transform="translate(480.4,257.9) scale(0.835,1)">-20000</text>
<text transform="translate(515.5,257.9) scale(0.835,1)">-10000</text>
<text transform="translate(550.6,257.9) scale(0.835,1)">0</text>
<text transform="translate(585.7,257.9) scale(0.835,1)">10000</text>
<text transform="translate(620.8,257.9) scale(0.835,1)">20000</text>
<text transform="translate(655.9,257.9) scale(0.835,1)">30000</text>
<text transform="translate(418.4,227.7) rotate(-90) scale(0.835,1)">-30000</text>
<text transform="translate(418.4,196.2) rotate(-90) scale(0.835,1)">-20000</text>
<text transform="translate(418.4,164.7) rotate(-90) scale(0.835,1)">-10000</text>
<text transform="translate(418.4,133.2) rotate(-90) scale(0.835,1)">0</text>
<text transform="translate(418.4,101.7) rotate(-90) scale(0.835,1)">10000</text>
<text transform="translate(418.4,70.2) rotate(-90) scale(0.835,1)">20000</text>
<text transform="translate(418.4,38.7) rotate(-90) scale(0.835,1)">30000</text>
</g>
<text x="545.4" y="276.8" font-family="'Liberation Sans', sans-serif" font-size="14" font-weight="bold" text-anchor="middle" fill="#111">T score</text>
<text transform="translate(398.3,132.3) rotate(-90)" font-family="'Liberation Sans', sans-serif" font-size="14" font-weight="bold" text-anchor="middle" fill="#111">Orthogonal T score</text>
<text x="403.8" y="15.9" font-family="'Liberation Sans', sans-serif" font-weight="bold" font-size="21.8" fill="#231815">B</text>
<path d="M438.9 303.5V611M475.05 303.5V611M511.2 303.5V611M547.35 303.5V611M583.5 303.5V611M619.65 303.5V611M655.8 303.5V611" stroke="#e2e2e2" stroke-width="0.7" fill="none"/>
<defs><marker id="ro" markerUnits="userSpaceOnUse" markerWidth="6" markerHeight="6" refX="3" refY="3" overflow="visible"><ellipse cx="3" cy="3" rx="1.15" ry="1.55" fill="none" stroke="#ff1a1a" stroke-width="0.65"/></marker></defs>
<path d="M587.05 307.3M629.96 307.3M592.23 307.3M653.11 307.3M543.65 307.3M493 307.3M583 307.3M564.62 307.3M510.29 307.3M547.99 307.3M627.91 307.3M637.1 307.3M532.97 307.3M580.67 307.3M553.89 307.3M493.68 307.3M641.13 307.3M650.64 312.32M642.72 312.32M613.54 312.32M524.23 312.32M628.51 312.32M611.16 312.32M535.11 312.32M580.37 312.32M521.77 312.32M627.87 312.32M616.13 312.32M628.26 312.32M622.02 312.32M505.25 312.32M626.16 312.32M549.94 312.32M534.26 312.32M645.81 317.34M572.14 317.34M620 317.34M566.32 317.34M536.47 317.34M595.91 317.34M527 317.34M608.34 317.34M511.38 317.34M643.87 317.34M577.98 317.34M531.36 317.34M642.05 317.34M483.16 317.34M494.13 317.34M598.56 317.34M506.1 317.34M652.13 322.37M504.89 322.37M557.97 322.37M597.32 322.37M558.27 322.37M568.29 322.37M509.32 322.37M569.67 322.37M518.37 322.37M546.39 322.37M501.44 322.37M554.4 322.37M553.01 322.37M610.58 322.37M639.29 322.37M499.5 322.37M567.87 322.37M494.99 327.39M515.56 327.39M522.87 327.39M636.84 327.39M496.78 327.39M489.04 327.39M649.83 327.39M545.55 327.39M644.52 327.39M549.02 327.39M587.97 327.39M610.84 327.39M627.22 327.39M549.79 327.39M582.07 327.39M521.24 327.39M507.02 327.39M487.48 332.41M537.76 332.41M525.53 332.41M544.36 332.41M546.31 332.41M582.42 332.41M606.14 332.41M566.12 332.41M538.53 332.41M528.16 332.41M551.9 332.41M538.9 332.41M582.63 332.41M487.7 332.41M615.82 332.41M543.47 332.41M519.87 332.41M525.56 337.43M504.45 337.43M506.43 337.43M518.9 337.43M557.31 337.43M623.2 337.43M512.92 337.43M490.83 337.43M513.27 337.43M595.17 337.43M532.05 337.43M497.48 337.43M620.09 337.43M509.25 337.43M561.74 337.43M596.91 337.43M570.02 337.43M589.18 342.45M652.93 342.45M520.98 342.45M556.78 342.45M500.83 342.45M625.83 342.45M617.74 342.45M574.5 342.45M516.46 342.45M606.17 342.45M572.16 342.45M531.28 342.45M603.78 342.45M498.07 342.45M484.82 342.45M552.76 342.45M588.24 342.45M639.51 347.48M617.24 347.48M611.54 347.48M498.8 347.48M508.75 347.48M596.91 347.48M542.64 347.48M512.75 347.48M609.69 347.48M583.27 347.48M511.92 347.48M498.17 347.48M628.09 347.48M616.45 347.48M500.29 347.48M623.28 347.48M491.67 347.48M569.06 352.5M511.77 352.5M524.18 352.5M526.62 352.5M491.2 352.5M517.49 352.5M551.35 352.5M570.4 352.5M514.9 352.5M555.31 352.5M599.82 352.5M601.56 352.5M506.9 352.5M606.57 352.5M601.45 352.5M519.69 352.5M607.13 352.5M562.52 357.52M639.46 357.52M607.45 357.52M489.06 357.52M570.32 357.52M529.3 357.52M614.31 357.52M503.77 357.52M528 357.52M585.29 357.52M549.3 357.52M555 357.52M620.1 357.52M484.41 357.52M554.14 357.52M591.31 357.52M558.56 357.52M487.29 362.54M490.92 362.54M476.53 362.54M489.66 362.54M475.89 362.54M482.54 362.54M498.77 362.54M479.38 362.54M463.34 362.54M475.89 362.54M487.2 362.54M531.69 362.54M480.11 362.54M488.13 362.54M466.51 362.54M492.22 362.54M476.07 362.54M484.15 362.54M480.67 362.54M475.36 362.54M469.32 362.54M482.97 362.54M475.41 362.54M504.94 362.54M482.96 362.54M481.73 362.54M480.04 362.54M502.23 362.54M474.73 362.54M494.82 367.56M456.12 367.56M482.6 367.56M486.29 367.56M495.22 367.56M455.81 367.56M477.3 367.56M498.98 367.56M477.17 367.56M498.86 367.56M483.67 367.56M467.18 367.56M505.2 367.56M474.79 367.56M489.6 367.56M513.66 367.56M478.36 367.56M471.57 367.56M448.38 367.56M443.41 367.56M516.79 367.56M473.03 367.56M479.78 367.56M492.99 367.56M480.78 367.56M489.97 367.56M499.71 367.56M495.97 367.56M497.61 367.56M485.37 372.59M428.06 372.59M496.86 372.59M487.08 372.59M483.05 372.59M490.11 372.59M478 372.59M501.64 372.59M485.43 372.59M486.81 372.59M467.54 372.59M474.34 372.59M471.78 372.59M485.37 372.59M486.69 372.59M496.39 372.59M487.66 372.59M472.63 372.59M488.4 372.59M491.34 372.59M493.05 372.59M486.52 372.59M471.34 372.59M494.6 372.59M476.12 372.59M488.86 372.59M467.91 372.59M490.73 372.59M475.6 372.59M480.67 377.61M470.78 377.61M468.5 377.61M531.59 377.61M465.51 377.61M488.69 377.61M476.01 377.61M472.17 377.61M445.28 377.61M478.07 377.61M481.62 377.61M472.54 377.61M475.15 377.61M487.38 377.61M485.91 377.61M477.82 377.61M485.9 377.61M484.17 377.61M483.89 377.61M497.89 377.61M478.4 377.61M486.4 377.61M486.41 377.61M480.01 377.61M470.91 377.61M464.63 377.61M484.82 377.61M482.74 377.61M482.47 377.61M475.14 382.63M485.12 382.63M492.04 382.63M475.98 382.63M488.93 382.63M531.11 382.63M520.63 382.63M480.76 382.63M492.29 382.63M470.51 382.63M477.85 382.63M487.91 382.63M469.54 382.63M466.01 382.63M486.99 382.63M481.46 382.63M480.01 382.63M482.83 382.63M471.96 382.63M509.87 382.63M507.33 382.63M477.2 382.63M471.73 382.63M477.39 382.63M496.34 382.63M481.63 382.63M487.25 382.63M476.73 382.63M499.14 382.63M489.52 387.65M475.48 387.65M481.61 387.65M480.04 387.65M477.6 387.65M482.14 387.65M491.39 387.65M511.17 387.65M439.38 387.65M483.79 387.65M479.14 387.65M471.94 387.65M483.65 387.65M472.28 387.65M480.1 387.65M492.96 387.65M461.13 387.65M483.28 387.65M485.22 387.65M471.51 387.65M485.97 387.65M484.29 387.65M477.45 387.65M492.69 387.65M468.1 387.65M494.4 387.65M478.58 387.65M459.42 387.65M479.13 387.65M476.59 392.67M491.02 392.67M481.58 392.67M472.95 392.67M452.97 392.67M468.77 392.67M465.69 392.67M478.77 392.67M486.63 392.67M493.84 392.67M496.4 392.67M501.61 392.67M503.25 392.67M483.34 392.67M477.73 392.67M477.75 392.67M467.12 392.67M486.53 392.67M483.98 392.67M495.85 392.67M491.1 392.67M488.83 392.67M492.65 392.67M477.6 392.67M476.05 392.67M479.9 392.67M472.28 392.67M479.01 392.67M477.2 392.67M477.68 397.7M482.26 397.7M491.6 397.7M481.39 397.7M490.87 397.7M479.8 397.7M476.6 397.7M486.14 397.7M475.71 397.7M479.45 397.7M493.93 397.7M469.22 397.7M464.44 397.7M500.46 397.7M497.1 397.7M490.89 397.7M493.59 397.7M504.79 397.7M473.58 397.7M449.67 397.7M454.74 397.7M474.77 397.7M486.66 397.7M465.54 397.7M460.63 397.7M468.07 397.7M482.9 397.7M492.17 397.7M464.48 397.7M471.54 402.72M496.72 402.72M472.26 402.72M481.61 402.72M478.04 402.72M474.34 402.72M486.47 402.72M491.12 402.72M467.32 402.72M486.92 402.72M476.86 402.72M489.65 402.72M467.13 402.72M482.12 402.72M486.32 402.72M486.71 402.72M469.95 402.72M434.51 402.72M497.38 402.72M476.15 402.72M465.05 402.72M469.02 402.72M481.23 402.72M492.6 402.72M481.04 402.72M492.76 402.72M483.24 402.72M491.61 402.72M490.61 402.72M482.44 407.74M470.4 407.74M478.47 407.74M468.97 407.74M464.41 407.74M496.75 407.74M484.04 407.74M488.55 407.74M470.15 407.74M479.31 407.74M477.58 407.74M520.83 407.74M484.92 407.74M472.53 407.74M477.6 407.74M464.77 407.74M462.4 407.74M486.99 407.74M483.4 407.74M460.44 407.74M474.31 407.74M491.5 407.74M476.87 407.74M482.18 407.74M480.95 407.74M468.65 407.74M494.45 407.74M460.21 407.74M481.76 407.74M486.06 412.76M488.03 412.76M482.78 412.76M485.38 412.76M476.6 412.76M477.79 412.76M490.41 412.76M460.98 412.76M483.85 412.76M511.06 412.76M462.1 412.76M494.77 412.76M474.84 412.76M483.57 412.76M495.82 412.76M494.43 412.76M471.01 412.76M467.12 412.76M465.74 412.76M486.72 412.76M475.87 412.76M479.71 412.76M482.15 412.76M483.6 412.76M484.8 412.76M480.76 412.76M463.86 412.76M529.17 412.76M472.82 412.76M472.96 417.78M477.89 417.78M432.02 417.78M472.71 417.78M491.82 417.78M509.23 417.78M486.97 417.78M453.4 417.78M480.49 417.78M475.52 417.78M500.36 417.78M475.36 417.78M482.8 417.78M477.77 417.78M484.7 417.78M478.46 417.78M484.73 417.78M471.43 417.78M477.95 417.78M507.24 417.78M468.85 417.78M472.42 417.78M492.31 417.78M482.88 417.78M489.37 417.78M457.09 417.78M480.35 417.78M466.48 417.78M465.34 417.78M468.44 422.81M472.45 422.81M493.3 422.81M464.83 422.81M480.3 422.81M454.88 422.81M468.07 422.81M479.55 422.81M472.18 422.81M497.59 422.81M478.88 422.81M480.78 422.81M467.15 422.81M467.7 422.81M471.42 422.81M471.81 422.81M475.68 422.81M481.67 422.81M480.32 422.81M487.85 422.81M464.65 422.81M480.05 422.81M480.34 422.81M493.63 422.81M475.83 422.81M481.19 422.81M469.93 422.81M520.95 422.81M481.9 422.81M515.43 427.83M480.03 427.83M479.38 427.83M481.43 427.83M468.77 427.83M455.8 427.83M470.95 427.83M454.35 427.83M485.7 427.83M484.72 427.83M473.09 427.83M476.25 427.83M462.91 427.83M471.66 427.83M485.16 427.83M478.41 427.83M472.35 427.83M465.91 427.83M476.86 427.83M474.01 427.83M488.72 427.83M460.38 427.83M482.88 427.83M466.48 427.83M469.7 427.83M432.04 427.83M478.72 427.83M478.51 427.83M428.39 427.83M476.32 432.85M477.38 432.85M491.99 432.85M428.06 432.85M514.15 432.85M479.56 432.85M484.01 432.85M468.2 432.85M470.85 432.85M529.91 432.85M453.45 432.85M483.45 432.85M476.62 432.85M476.16 432.85M477.88 432.85M479.52 432.85M499.77 432.85M478.86 432.85M485.26 432.85M429.82 432.85M480.55 432.85M474.01 432.85M475.63 432.85M468.25 432.85M527.67 432.85M496.05 432.85M484.42 432.85M481.62 432.85M470.54 432.85M484.32 437.87M490.36 437.87M467.91 437.87M496.02 437.87M525.71 437.87M481.89 437.87M471.9 437.87M471.22 437.87M430.64 437.87M475.04 437.87M476.19 437.87M488.54 437.87M494.07 437.87M462.57 437.87M475.41 437.87M477.16 437.87M472.22 437.87M501.41 437.87M476.81 437.87M480.97 437.87M485.8 437.87M488.61 437.87M474.25 437.87M485.77 437.87M470.56 437.87M451.24 437.87M463.92 437.87M479.54 437.87M485.11 437.87M464.4 442.89M482.02 442.89M488.58 442.89M485.04 442.89M502.28 442.89M465.95 442.89M488.32 442.89M475.39 442.89M458 442.89M478.16 442.89M468.01 442.89M481.4 442.89M476.89 442.89M449.92 442.89M484.07 442.89M464.94 442.89M487.07 442.89M457.78 442.89M493.33 442.89M479.3 442.89M474.91 442.89M470.27 442.89M482.9 442.89M475.94 442.89M475.76 442.89M487.68 442.89M473.24 442.89M475.19 442.89M481.75 442.89M452.1 447.92M482.07 447.92M480.24 447.92M451.78 447.92M487.91 447.92M459.86 447.92M473.94 447.92M487.78 447.92M459.75 447.92M457.62 447.92M464.84 447.92M465.18 447.92M474.56 447.92M470.69 447.92M470.96 447.92M471.09 447.92M474.07 447.92M467.36 447.92M479.14 447.92M475.84 447.92M465.73 447.92M494.04 447.92M491.84 447.92M483.21 447.92M468.45 447.92M479.49 447.92M478.39 447.92M484.5 447.92M490.1 447.92M489.56 452.94M520.43 452.94M461.91 452.94M487.79 452.94M483.22 452.94M484.46 452.94M492.58 452.94M480.3 452.94M428.06 452.94M481.82 452.94M472.28 452.94M480.67 452.94M455.64 452.94M492.97 452.94M470.42 452.94M484.62 452.94M478.83 452.94M476.75 452.94M476.82 452.94M476.35 452.94M493.58 452.94M470.25 452.94M487.62 452.94M524.13 452.94M465.17 452.94M496.8 452.94M487.74 452.94M491.28 452.94M475.56 452.94M471.7 457.96M480.96 457.96M475.52 457.96M485.62 457.96M465.58 457.96M475.26 457.96M477.95 457.96M478.58 457.96M485.63 457.96M478.39 457.96M483.39 457.96M493.75 457.96M482.78 457.96M464.15 457.96M460.53 457.96M481.08 457.96M470.82 457.96M477.36 457.96M472.81 457.96M487.32 457.96M486.26 457.96M463.47 457.96M477.18 457.96M471.56 457.96M461.69 457.96M480.84 457.96M473.1 457.96M478.84 457.96M498.73 457.96M476.87 462.98M489.04 462.98M470.69 462.98M470.74 462.98M498.94 462.98M475.8 462.98M451.47 462.98M525.28 462.98M478.3 462.98M471.23 462.98M462.69 462.98M473.16 462.98M472.89 462.98M473.87 462.98M480.15 462.98M471.54 462.98M471.03 462.98M490.42 462.98M443.19 462.98M472.77 462.98M428.06 462.98M469.36 462.98M477.37 462.98M481.85 462.98M497 462.98M471.36 462.98M475.23 462.98M470.33 462.98M474.57 462.98M466.04 468M479.92 468M469.11 468M450.98 468M472.16 468M464 468M468.43 468M497.33 468M464.67 468M471.76 468M472.55 468M460.51 468M466.29 468M476.75 468M474.48 468M471.66 468M461.02 468M479.23 468M510.61 468M476.75 468M464.15 468M475.83 468M471.79 468M473.46 468M477.77 468M494.48 468M467.68 468M474.47 468M460.65 468M480.55 473.03M489.92 473.03M481.77 473.03M479.35 473.03M474.41 473.03M481.98 473.03M463.35 473.03M493.82 473.03M475.64 473.03M486.61 473.03M465.19 473.03M482.92 473.03M476.81 473.03M471.12 473.03M466.44 473.03M464.39 473.03M490.4 473.03M484.79 473.03M474.06 473.03M474.84 473.03M465.89 473.03M455.11 473.03M455.55 473.03M467.04 473.03M471.45 473.03M461.56 473.03M480.7 473.03M477.97 473.03M474.51 473.03M485.77 478.05M475.9 478.05M472.36 478.05M470.47 478.05M483.65 478.05M479.23 478.05M487.52 478.05M469.17 478.05M469.39 478.05M468.19 478.05M475.18 478.05M465.69 478.05M481.48 478.05M475.75 478.05M462.86 478.05M443.51 478.05M454.62 478.05M486.48 478.05M471.84 478.05M456.96 478.05M468.29 478.05M476.28 478.05M453.68 478.05M452.9 478.05M456.46 478.05M473.08 478.05M479.3 478.05M477.06 478.05M452.28 478.05M470.37 483.07M479.4 483.07M464.84 483.07M466.08 483.07M493.46 483.07M472.75 483.07M466.78 483.07M472.26 483.07M459.72 483.07M477.16 483.07M481.39 483.07M466.26 483.07M481.72 483.07M469.1 483.07M474.75 483.07M464.7 483.07M464.12 483.07M457.31 483.07M474.09 483.07M469.17 483.07M469.47 483.07M460.92 483.07M460.54 483.07M465.77 483.07M476.52 483.07M474.88 483.07M465.28 483.07M474.81 483.07M489.1 483.07M434.91 488.09M476.27 488.09M477.59 488.09M471.73 488.09M487.54 488.09M461.73 488.09M483.06 488.09M463.07 488.09M428.06 488.09M459.42 488.09M472.17 488.09M468.45 488.09M475.49 488.09M465.55 488.09M457.67 488.09M476.79 488.09M483.82 488.09M459.27 488.09M441.85 488.09M475.18 488.09M454.65 488.09M467.96 488.09M482.55 488.09M475.71 488.09M527.41 488.09M479.57 488.09M469.92 488.09M478.34 488.09M492.84 488.09M515.12 493.11M468.56 493.11M468 493.11M475.6 493.11M489.22 493.11M463.42 493.11M470.47 493.11M466.66 493.11M490.53 493.11M468.08 493.11M469.69 493.11M526.8 493.11M488.33 493.11M477.43 493.11M463.69 493.11M465.62 493.11M478.1 493.11M476.16 493.11M465 493.11M479.84 493.11M457.06 493.11M466.34 493.11M487.6 493.11M445.72 493.11M468.94 493.11M480.46 493.11M469.51 493.11M463.36 493.11M462.31 493.11M451.54 498.14M483.5 498.14M446.93 498.14M475.92 498.14M460.91 498.14M473.29 498.14M472.71 498.14M480.57 498.14M463.61 498.14M484.86 498.14M467.79 498.14M526.04 498.14M479.71 498.14M460.94 498.14M467.74 498.14M473.53 498.14M480.62 498.14M457.32 498.14M465.91 498.14M476.8 498.14M475.4 498.14M460.55 498.14M497.36 498.14M474.93 498.14M460.81 498.14M473.01 498.14M479.65 498.14M470.9 498.14M444.71 498.14M476.46 503.16M499.62 503.16M465.84 503.16M466.42 503.16M477.03 503.16M482.25 503.16M478.08 503.16M481.97 503.16M469.65 503.16M467.89 503.16M476.49 503.16M524.85 503.16M486.39 503.16M485.29 503.16M515.2 503.16M477.69 503.16M494.02 503.16M449.62 503.16M473.92 503.16M468.46 503.16M466.71 503.16M457.6 503.16M460.21 503.16M467.99 503.16M481.38 503.16M491.96 503.16M471.15 503.16M468.55 503.16M472.94 503.16M477.43 508.18M483.29 508.18M456.76 508.18M480.81 508.18M470.01 508.18M472.99 508.18M478.92 508.18M460.11 508.18M477.83 508.18M456.79 508.18M464.95 508.18M462.33 508.18M485.88 508.18M500.58 508.18M476.86 508.18M474.51 508.18M464.34 508.18M486.43 508.18M483.09 508.18M478.26 508.18M509.35 508.18M466.15 508.18M494.46 508.18M466.37 508.18M460.38 508.18M470.71 508.18M485.45 508.18M478.18 508.18M486.52 508.18M455.51 513.2M469.27 513.2M472.08 513.2M467.51 513.2M473.61 513.2M462.06 513.2M471.16 513.2M454.33 513.2M469.14 513.2M463.47 513.2M456.61 513.2M465.53 513.2M469.54 513.2M463.61 513.2M497.15 513.2M462.62 513.2M478.28 513.2M476.28 513.2M463.49 513.2M483.02 513.2M456.22 513.2M474.38 513.2M469.89 513.2M476.58 513.2M435.05 513.2M457.82 513.2M461.25 513.2M469.38 513.2M525.77 513.2M485.42 518.22M460.6 518.22M484.59 518.22M466.15 518.22M459.92 518.22M454.62 518.22M476.7 518.22M453.97 518.22M477.16 518.22M471.75 518.22M463.01 518.22M462.07 518.22M473.07 518.22M479.33 518.22M475.52 518.22M468.42 518.22M463.53 518.22M473.56 518.22M456.98 518.22M476.51 518.22M468.94 518.22M457.74 518.22M458.69 518.22M465.31 518.22M451.02 518.22M481.73 518.22M477.66 518.22M457.94 518.22M467.32 518.22M453.86 523.25M466.11 523.25M428.06 523.25M465.6 523.25M470.49 523.25M461.43 523.25M461.86 523.25M461.95 523.25M464.5 523.25M474.02 523.25M468.64 523.25M486.99 523.25M473.23 523.25M470.59 523.25M489.66 523.25M466.83 523.25M460.08 523.25M469.38 523.25M457.34 523.25M472.9 523.25M451.21 523.25M474.07 523.25M463.93 523.25M466.49 523.25M472.58 523.25M479.33 523.25M464.02 523.25M463.87 523.25M478.43 523.25M511.87 528.27M450.27 528.27M476.73 528.27M470.11 528.27M470.2 528.27M436.3 528.27M464.47 528.27M468.96 528.27M465.92 528.27M474.08 528.27M479.61 528.27M482.21 528.27M479.56 528.27M465.98 528.27M484.1 528.27M469.95 528.27M475.71 528.27M481.93 528.27M453.89 528.27M445.42 528.27M469.23 528.27M460.85 528.27M467.36 528.27M476.09 528.27M452.59 528.27M450.32 528.27M469.94 528.27M470.96 528.27M501.83 528.27M477.01 533.29M461.16 533.29M456.63 533.29M468.88 533.29M457.51 533.29M470.57 533.29M465.92 533.29M433.39 533.29M472.52 533.29M472.1 533.29M438.15 533.29M463.8 533.29M468.25 533.29M471.65 533.29M461.6 533.29M513.63 533.29M522.35 533.29M473.51 533.29M446.9 533.29M452.3 533.29M451.99 533.29M441.74 533.29M450.2 533.29M474.87 533.29M456.55 533.29M468.23 533.29M458.26 533.29M470.99 533.29M473.19 533.29M485.02 538.31M465.18 538.31M461.15 538.31M444.59 538.31M445.41 538.31M473.24 538.31M457.02 538.31M501.11 538.31M459.39 538.31M469.87 538.31M452.26 538.31M460.14 538.31M464.21 538.31M472.03 538.31M482.78 538.31M475.77 538.31M452.2 538.31M466.43 538.31M464.73 538.31M460.16 538.31M472.11 538.31M481.77 538.31M461.92 538.31M477.28 538.31M480 538.31M456 538.31M483.69 538.31M482.84 538.31M469.27 538.31M480.24 543.33M462.56 543.33M468.56 543.33M473.58 543.33M482.72 543.33M449.18 543.33M463.54 543.33M514.51 543.33M467.43 543.33M446.53 543.33M466.74 543.33M451.89 543.33M457.53 543.33M449.6 543.33M473.8 543.33M462.64 543.33M462.07 543.33M478.01 543.33M472.78 543.33M463.74 543.33M445.53 543.33M472.27 543.33M463.25 543.33M462.28 543.33M473 543.33M459.68 543.33M465.03 543.33M474.5 543.33M471.41 543.33M476.4 548.36M475.89 548.36M473.54 548.36M464.82 548.36M492.79 548.36M465.12 548.36M455.52 548.36M475.07 548.36M530.29 548.36M484.31 548.36M475.53 548.36M478.56 548.36M480.19 548.36M469.64 548.36M452.96 548.36M459.94 548.36M486.71 548.36M463.81 548.36M469.37 548.36M459.16 548.36M458.16 548.36M468.67 548.36M472.95 548.36M498.38 548.36M493.06 548.36M449.68 548.36M485.35 548.36M454.72 548.36M509.77 548.36M530.01 553.38M532.12 553.38M465.91 553.38M474.89 553.38M465.21 553.38M460.15 553.38M454.51 553.38M472.34 553.38M472.79 553.38M477.11 553.38M457.25 553.38M462.23 553.38M451.95 553.38M476 553.38M471.8 553.38M469.92 553.38M464.83 553.38M463.57 553.38M461.49 553.38M475.53 553.38M458.92 553.38M473.59 553.38M467.79 553.38M455.33 553.38M451.08 553.38M457.49 553.38M464.67 553.38M452.58 553.38M471.08 553.38M459.52 558.4M463.47 558.4M448.6 558.4M428.51 558.4M462.56 558.4M461.96 558.4M466.2 558.4M474.71 558.4M443.18 558.4M464.6 558.4M486.41 558.4M454.18 558.4M463.94 558.4M457.09 558.4M468.52 558.4M460.98 558.4M469.28 558.4M455.48 558.4M476.72 558.4M468.22 558.4M481.73 558.4M463.04 558.4M459.46 558.4M465.67 558.4M459.8 558.4M454.21 558.4M464.5 558.4M463.71 558.4M458 558.4M487.04 563.42M448.81 563.42M451.37 563.42M461.2 563.42M459.59 563.42M463.17 563.42M456.92 563.42M448.57 563.42M500.02 563.42M470.87 563.42M526.33 563.42M457.44 563.42M469.2 563.42M470.73 563.42M459.05 563.42M460.45 563.42M464.36 563.42M491.44 563.42M465.54 563.42M455.16 563.42M462.34 563.42M458.43 563.42M475.14 563.42M442.63 563.42M453.14 563.42M472.1 563.42M468.05 563.42M464.21 563.42M471.03 563.42M458.93 568.44M516.62 568.44M462.55 568.44M474.1 568.44M473.93 568.44M472.52 568.44M463.78 568.44M473.37 568.44M460.88 568.44M444.22 568.44M464.93 568.44M463.95 568.44M446.35 568.44M501.01 568.44M439.39 568.44M458.86 568.44M475.53 568.44M530.84 568.44M476.55 568.44M465.82 568.44M456.24 568.44M446.01 568.44M451.18 568.44M485.41 568.44M448.87 568.44M459.39 568.44M474.51 568.44M456.18 568.44M467.47 568.44M459.41 573.47M451.65 573.47M497.85 573.47M428.06 573.47M460.1 573.47M466.56 573.47M471.14 573.47M465.5 573.47M475.01 573.47M457.25 573.47M455.45 573.47M462.63 573.47M454.43 573.47M461.56 573.47M446.01 573.47M428.34 573.47M470.83 573.47M455.68 573.47M445.86 573.47M465.58 573.47M465.77 573.47M474.58 573.47M481.35 573.47M465.39 573.47M498.57 573.47M460.74 573.47M460.1 573.47M449.58 573.47M454.22 573.47M459.06 578.49M455.89 578.49M452 578.49M490.41 578.49M462.37 578.49M447.7 578.49M459.64 578.49M473.23 578.49M452.89 578.49M443.93 578.49M457.11 578.49M466.06 578.49M484.94 578.49M462.02 578.49M454.32 578.49M460.54 578.49M455.11 578.49M455.07 578.49M463.66 578.49M465.67 578.49M456.31 578.49M473.55 578.49M462.03 578.49M463.9 578.49M457.73 578.49M466.4 578.49M466.82 578.49M469.3 578.49M454.79 578.49M453.47 583.51M452.22 583.51M450.14 583.51M470.53 583.51M465.66 583.51M466.89 583.51M464.25 583.51M478.01 583.51M473.07 583.51M472.27 583.51M455.6 583.51M459.12 583.51M449.46 583.51M455.88 583.51M531.52 583.51M450.24 583.51M456.01 583.51M482.16 583.51M460.47 583.51M447.5 583.51M450.01 583.51M461.43 583.51M470.59 583.51M461.42 583.51M470.83 583.51M509.09 583.51M451.32 583.51M487.89 583.51M457.83 583.51M485.3 588.53M466.25 588.53M462.94 588.53M463.35 588.53M489.16 588.53M474.39 588.53M459.36 588.53M465.29 588.53M457.08 588.53M480.05 588.53M506.08 588.53M456.68 588.53M466.5 588.53M475.46 588.53M470.55 588.53M437.78 588.53M462.56 588.53M438.43 588.53M460.49 588.53M460.07 588.53M430.9 588.53M479.35 588.53M469.57 588.53M449.98 588.53M462.31 588.53M459.76 588.53M507.61 588.53M461.46 588.53M443.25 588.53M467.69 593.55M463.87 593.55M443.31 593.55M484.2 593.55M463.43 593.55M458.94 593.55M464.12 593.55M466.3 593.55M475.47 593.55M463.69 593.55M487.58 593.55M521.08 593.55M464.24 593.55M469.17 593.55M460.69 593.55M458.2 593.55M478.3 593.55M440.15 593.55M443.82 593.55M482.13 593.55M468.8 593.55M466.86 593.55M464.51 593.55M464.3 593.55M452.07 593.55M464.32 593.55M451.3 593.55M472.99 593.55M467.86 593.55M508.42 598.58M471.27 598.58M476.13 598.58M482.72 598.58M454.21 598.58M441.74 598.58M451.27 598.58M464.86 598.58M428.06 598.58M454.68 598.58M469.24 598.58M452.15 598.58M459.52 598.58M451.58 598.58M447.27 598.58M480.42 598.58M450.48 598.58M452.2 598.58M462.1 598.58M467.86 598.58M465.24 598.58M467.6 598.58M471.08 598.58M446 598.58M480.33 598.58M463.28 598.58M456.8 598.58M460.89 598.58M484.29 598.58M463.77 603.6M513.05 603.6M461.52 603.6M458.08 603.6M454.84 603.6M467.32 603.6M474.75 603.6M458.54 603.6M451.47 603.6M510.2 603.6M444.38 603.6M462.68 603.6M459.03 603.6M473.3 603.6M458.68 603.6M443.31 603.6M448.62 603.6M461.16 603.6M459.83 603.6M438.4 603.6M454.41 603.6M444.32 603.6M445.13 603.6M453.73 603.6M430.74 603.6M496.88 603.6M500.3 603.6M475.83 603.6M442.43 603.6M457.58 608.62M466.08 608.62M489.26 608.62M482.18 608.62M450.96 608.62M465.04 608.62M451.24 608.62M455.51 608.62M483.56 608.62M455.9 608.62M458.8 608.62M454.27 608.62M468.69 608.62M455.84 608.62M443.36 608.62M461.45 608.62M528.65 608.62M459.77 608.62M461.59 608.62M450.52 608.62M450.59 608.62M460.03 608.62M448.59 608.62M519.02 608.62M450.01 608.62M457.56 608.62M467.88 608.62M459.55 608.62M471.25 608.62" fill="none" stroke="none" marker-start="url(#ro)" marker-mid="url(#ro)" marker-end="url(#ro)"/>
<path d="M497.32 307.3h1.4M504.64 307.3h1.4M510.32 307.3h1.4M489.51 307.3h1.4M484.71 307.3h1.4M506.91 307.3h1.4M503.14 307.3h1.4M498.08 307.3h1.4M489.83 307.3h1.4M510.29 307.3h1.4M477.93 307.3h1.4M504.06 307.3h1.4M510.7 307.3h1.4M484.47 307.3h1.4M496.2 307.3h1.4M487.1 307.3h1.4M501.14 307.3h1.4M480.51 307.3h1.4M517.22 307.3h1.4M538.76 307.3h1.4M493.74 307.3h1.4M505.29 307.3h1.4M497.15 312.32h1.4M493.84 312.32h1.4M501.56 312.32h1.4M493.74 312.32h1.4M489.27 312.32h1.4M572.98 312.32h1.4M478.83 312.32h1.4M499.33 312.32h1.4M528.61 312.32h1.4M486.51 312.32h1.4M484.87 312.32h1.4M515.11 312.32h1.4M485.15 312.32h1.4M503.26 312.32h1.4M503.85 312.32h1.4M485.83 312.32h1.4M562.11 312.32h1.4M507.94 312.32h1.4M503.16 312.32h1.4M501.29 312.32h1.4M549 312.32h1.4M500.39 312.32h1.4M496.91 317.34h1.4M495.58 317.34h1.4M500.31 317.34h1.4M488.58 317.34h1.4M502.52 317.34h1.4M531.68 317.34h1.4M571.26 317.34h1.4M510.26 317.34h1.4M540.78 317.34h1.4M519.09 317.34h1.4M482.56 317.34h1.4M488.53 317.34h1.4M503.09 317.34h1.4M498.58 317.34h1.4M513.71 317.34h1.4M567.22 317.34h1.4M500.51 317.34h1.4M525.26 317.34h1.4M492.01 317.34h1.4M490.76 317.34h1.4M498.61 317.34h1.4M498.53 317.34h1.4M504.42 322.37h1.4M497.94 322.37h1.4M495.14 322.37h1.4M519.74 322.37h1.4M538.57 322.37h1.4M499.94 322.37h1.4M485.53 322.37h1.4M542.83 322.37h1.4M486.13 322.37h1.4M566.01 322.37h1.4M488.05 322.37h1.4M487.51 322.37h1.4M500 322.37h1.4M565.25 322.37h1.4M571.97 322.37h1.4M505.69 322.37h1.4M518.48 322.37h1.4M485.54 322.37h1.4M515.38 322.37h1.4M486.03 322.37h1.4M494.47 322.37h1.4M476.22 322.37h1.4M574.26 327.39h1.4M509.08 327.39h1.4M488.99 327.39h1.4M498.71 327.39h1.4M514.42 327.39h1.4M490.33 327.39h1.4M525.05 327.39h1.4M490.97 327.39h1.4M503.43 327.39h1.4M501.1 327.39h1.4M504.16 327.39h1.4M508.68 327.39h1.4M571.24 327.39h1.4M493.87 327.39h1.4M500.27 327.39h1.4M486.74 327.39h1.4M548.64 327.39h1.4M508.1 327.39h1.4M508.9 327.39h1.4M508.66 327.39h1.4M499.32 327.39h1.4M497.02 327.39h1.4M495.98 332.41h1.4M494.49 332.41h1.4M501.7 332.41h1.4M512.15 332.41h1.4M480.15 332.41h1.4M483.18 332.41h1.4M488.19 332.41h1.4M497.9 332.41h1.4M559.57 332.41h1.4M502.47 332.41h1.4M560.13 332.41h1.4M496.93 332.41h1.4M476.67 332.41h1.4M478.02 332.41h1.4M508.14 332.41h1.4M509.86 332.41h1.4M514.31 332.41h1.4M560.54 332.41h1.4M485.02 332.41h1.4M509.18 332.41h1.4M512.05 332.41h1.4M492.02 332.41h1.4M493.8 337.43h1.4M511.03 337.43h1.4M500.94 337.43h1.4M499.31 337.43h1.4M493.66 337.43h1.4M484.82 337.43h1.4M500.6 337.43h1.4M509.73 337.43h1.4M533.7 337.43h1.4M511.25 337.43h1.4M544.04 337.43h1.4M492.3 337.43h1.4M503.5 337.43h1.4M498.93 337.43h1.4M507.42 337.43h1.4M492.23 337.43h1.4M489.61 337.43h1.4M482.06 337.43h1.4M484.3 337.43h1.4M489.21 337.43h1.4M485.48 337.43h1.4M501.72 337.43h1.4M501.32 342.45h1.4M484.51 342.45h1.4M504.53 342.45h1.4M548.57 342.45h1.4M508.88 342.45h1.4M507.91 342.45h1.4M485.44 342.45h1.4M513.32 342.45h1.4M515.86 342.45h1.4M501.14 342.45h1.4M488.35 342.45h1.4M490.37 342.45h1.4M498.5 342.45h1.4M556.6 342.45h1.4M477.48 342.45h1.4M501.73 342.45h1.4M509.17 342.45h1.4M532.33 342.45h1.4M480.14 342.45h1.4M548.2 342.45h1.4M496.54 342.45h1.4M510.21 342.45h1.4M487.78 347.48h1.4M502.19 347.48h1.4M497.44 347.48h1.4M517.76 347.48h1.4M510.86 347.48h1.4M553.04 347.48h1.4M499.63 347.48h1.4M525.99 347.48h1.4M519.46 347.48h1.4M496.59 347.48h1.4M500.05 347.48h1.4M489.96 347.48h1.4M498.28 347.48h1.4M503.69 347.48h1.4M504.08 347.48h1.4M500.9 347.48h1.4M502.52 347.48h1.4M499.44 347.48h1.4M481.94 347.48h1.4M509.67 347.48h1.4M519.82 347.48h1.4M506.44 347.48h1.4M540.01 352.5h1.4M488.38 352.5h1.4M497.32 352.5h1.4M553.74 352.5h1.4M499.19 352.5h1.4M490.67 352.5h1.4M561.57 352.5h1.4M500.06 352.5h1.4M503.3 352.5h1.4M506.5 352.5h1.4M482.3 352.5h1.4M478.03 352.5h1.4M511.81 352.5h1.4M501.62 352.5h1.4M502.6 352.5h1.4M501.69 352.5h1.4M538.58 352.5h1.4M477.35 352.5h1.4M501.26 352.5h1.4M508.26 352.5h1.4M499.48 352.5h1.4M470.74 352.5h1.4M506.82 357.52h1.4M494.81 357.52h1.4M502.02 357.52h1.4M505.23 357.52h1.4M529.2 357.52h1.4M487.25 357.52h1.4M504.4 357.52h1.4M488.76 357.52h1.4M479.32 357.52h1.4M488.89 357.52h1.4M506.47 357.52h1.4M489.13 357.52h1.4M478.53 357.52h1.4M505.49 357.52h1.4M517.57 357.52h1.4M515.12 357.52h1.4M500.42 357.52h1.4M512.78 357.52h1.4M503.45 357.52h1.4M506.92 357.52h1.4M499.35 357.52h1.4M516.47 357.52h1.4M519.87 362.54h1.4M484.03 362.54h1.4M536.02 362.54h1.4M518.28 362.54h1.4M528.55 362.54h1.4M493.17 362.54h1.4M464.4 362.54h1.4M537.93 362.54h1.4M533.1 362.54h1.4M512.26 362.54h1.4M503.25 362.54h1.4M507.42 362.54h1.4M511.47 362.54h1.4M500.72 362.54h1.4M458.08 362.54h1.4M538.11 362.54h1.4M472.2 362.54h1.4M505.81 362.54h1.4M506.56 362.54h1.4M522.99 362.54h1.4M468.78 362.54h1.4M550.36 362.54h1.4M534.43 362.54h1.4M537.75 362.54h1.4M552.15 362.54h1.4M492.43 362.54h1.4M458.08 362.54h1.4M525.18 362.54h1.4M553.54 362.54h1.4M461.11 367.56h1.4M500.36 367.56h1.4M481.64 367.56h1.4M505.29 367.56h1.4M533.75 367.56h1.4M558.3 367.56h1.4M505.5 367.56h1.4M555.65 367.56h1.4M549.49 367.56h1.4M503.25 367.56h1.4M467.6 367.56h1.4M540.5 367.56h1.4M533.47 367.56h1.4M583.92 367.56h1.4M557.22 367.56h1.4M538.5 367.56h1.4M564.71 367.56h1.4M485.58 367.56h1.4M521.51 367.56h1.4M508.02 367.56h1.4M566.33 367.56h1.4M532.29 367.56h1.4M458.08 367.56h1.4M555.62 367.56h1.4M489.78 367.56h1.4M538.51 367.56h1.4M502.21 367.56h1.4M523.17 367.56h1.4M534.49 367.56h1.4M566.69 372.59h1.4M514.47 372.59h1.4M538.85 372.59h1.4M517.32 372.59h1.4M502.48 372.59h1.4M502.49 372.59h1.4M491.98 372.59h1.4M516.03 372.59h1.4M498.21 372.59h1.4M503.44 372.59h1.4M550.94 372.59h1.4M511.81 372.59h1.4M548.64 372.59h1.4M523.35 372.59h1.4M540.59 372.59h1.4M497.99 372.59h1.4M519.91 372.59h1.4M591.86 372.59h1.4M539.56 372.59h1.4M544.64 372.59h1.4M522.36 372.59h1.4M540.4 372.59h1.4M481.98 372.59h1.4M490.97 372.59h1.4M527.97 372.59h1.4M539.27 372.59h1.4M503.68 372.59h1.4M510.1 372.59h1.4M505.05 372.59h1.4M484.19 377.61h1.4M495.24 377.61h1.4M567.04 377.61h1.4M517.64 377.61h1.4M507.25 377.61h1.4M504.09 377.61h1.4M533.02 377.61h1.4M533.74 377.61h1.4M487.17 377.61h1.4M556.18 377.61h1.4M482.43 377.61h1.4M505.73 377.61h1.4M526.76 377.61h1.4M563.2 377.61h1.4M503.72 377.61h1.4M521.99 377.61h1.4M551.39 377.61h1.4M531.74 377.61h1.4M546.31 377.61h1.4M543.74 377.61h1.4M521.23 377.61h1.4M531.96 377.61h1.4M540.22 377.61h1.4M512.91 377.61h1.4M559.93 377.61h1.4M458.08 377.61h1.4M487.09 377.61h1.4M555.47 377.61h1.4M526.07 377.61h1.4M543.22 382.63h1.4M483.91 382.63h1.4M466.71 382.63h1.4M485.29 382.63h1.4M531.39 382.63h1.4M480.38 382.63h1.4M550.89 382.63h1.4M512.81 382.63h1.4M469.61 382.63h1.4M506.83 382.63h1.4M565.02 382.63h1.4M488.57 382.63h1.4M475.56 382.63h1.4M528.25 382.63h1.4M551.21 382.63h1.4M542.82 382.63h1.4M503.92 382.63h1.4M518.85 382.63h1.4M522.82 382.63h1.4M547.37 382.63h1.4M575.56 382.63h1.4M510.3 382.63h1.4M550.99 382.63h1.4M503.47 382.63h1.4M530.45 382.63h1.4M486.43 382.63h1.4M491.32 382.63h1.4M525.43 382.63h1.4M487.48 382.63h1.4M524.54 387.65h1.4M518.43 387.65h1.4M533.63 387.65h1.4M495.85 387.65h1.4M524.76 387.65h1.4M495.17 387.65h1.4M530.19 387.65h1.4M517.23 387.65h1.4M501.75 387.65h1.4M471.7 387.65h1.4M560.29 387.65h1.4M544.7 387.65h1.4M538.07 387.65h1.4M493.41 387.65h1.4M502.49 387.65h1.4M560.92 387.65h1.4M534.15 387.65h1.4M488 387.65h1.4M513.98 387.65h1.4M516.74 387.65h1.4M506.89 387.65h1.4M485.39 387.65h1.4M548.98 387.65h1.4M529.75 387.65h1.4M507.03 387.65h1.4M467.26 387.65h1.4M495.89 387.65h1.4M512.66 387.65h1.4M537.92 387.65h1.4M513.28 392.67h1.4M533.46 392.67h1.4M505.98 392.67h1.4M545.3 392.67h1.4M511.81 392.67h1.4M498.55 392.67h1.4M513.73 392.67h1.4M512.39 392.67h1.4M525.56 392.67h1.4M527.99 392.67h1.4M480.86 392.67h1.4M495.72 392.67h1.4M524.99 392.67h1.4M528.52 392.67h1.4M517.11 392.67h1.4M590.83 392.67h1.4M547.06 392.67h1.4M512.54 392.67h1.4M535.86 392.67h1.4M553.53 392.67h1.4M525.44 392.67h1.4M464.43 392.67h1.4M517.77 392.67h1.4M516.47 392.67h1.4M576.72 392.67h1.4M461.93 392.67h1.4M559.84 392.67h1.4M510.65 392.67h1.4M542.13 392.67h1.4M533.23 397.7h1.4M532.65 397.7h1.4M519.87 397.7h1.4M542.18 397.7h1.4M505.15 397.7h1.4M537.68 397.7h1.4M510.49 397.7h1.4M506.15 397.7h1.4M522.08 397.7h1.4M516.81 397.7h1.4M468.4 397.7h1.4M578.69 397.7h1.4M522.73 397.7h1.4M469.67 397.7h1.4M549.89 397.7h1.4M517.92 397.7h1.4M524.67 397.7h1.4M539.22 397.7h1.4M492.89 397.7h1.4M458.08 397.7h1.4M515.89 397.7h1.4M525.79 397.7h1.4M547.78 397.7h1.4M496.9 397.7h1.4M511.07 397.7h1.4M530.34 397.7h1.4M509.64 397.7h1.4M511.57 397.7h1.4M526.16 397.7h1.4M487 402.72h1.4M483.64 402.72h1.4M524.81 402.72h1.4M519.56 402.72h1.4M517.87 402.72h1.4M503.91 402.72h1.4M517.01 402.72h1.4M499.47 402.72h1.4M468.06 402.72h1.4M536.98 402.72h1.4M486.39 402.72h1.4M509.06 402.72h1.4M536.81 402.72h1.4M516.35 402.72h1.4M594.94 402.72h1.4M475.15 402.72h1.4M493.97 402.72h1.4M518.14 402.72h1.4M554.8 402.72h1.4M508.36 402.72h1.4M474.14 402.72h1.4M548.59 402.72h1.4M488.85 402.72h1.4M509.75 402.72h1.4M540.96 402.72h1.4M496.09 402.72h1.4M502.36 402.72h1.4M529.52 402.72h1.4M509.5 402.72h1.4M506.76 407.74h1.4M521.21 407.74h1.4M526.39 407.74h1.4M462.17 407.74h1.4M585.44 407.74h1.4M520.78 407.74h1.4M521.59 407.74h1.4M465.07 407.74h1.4M534.96 407.74h1.4M529.16 407.74h1.4M507.09 407.74h1.4M524.93 407.74h1.4M555.12 407.74h1.4M508.59 407.74h1.4M492.35 407.74h1.4M557.18 407.74h1.4M526.52 407.74h1.4M513.85 407.74h1.4M585.61 407.74h1.4M523.75 407.74h1.4M514.16 407.74h1.4M526.9 407.74h1.4M507.59 407.74h1.4M525.38 407.74h1.4M523.48 407.74h1.4M500.16 407.74h1.4M511.59 407.74h1.4M528.01 407.74h1.4M530.06 407.74h1.4M543.18 412.76h1.4M505.31 412.76h1.4M521.43 412.76h1.4M526.57 412.76h1.4M472.98 412.76h1.4M558.35 412.76h1.4M491.22 412.76h1.4M513.05 412.76h1.4M501.7 412.76h1.4M529.23 412.76h1.4M528.48 412.76h1.4M516.6 412.76h1.4M556.89 412.76h1.4M524.17 412.76h1.4M504.46 412.76h1.4M458.08 412.76h1.4M507.86 412.76h1.4M507.62 412.76h1.4M490.83 412.76h1.4M491.13 412.76h1.4M533.18 412.76h1.4M546.24 412.76h1.4M570.82 412.76h1.4M549.06 412.76h1.4M495.56 412.76h1.4M523.44 412.76h1.4M476.6 412.76h1.4M537.16 412.76h1.4M526.37 412.76h1.4M462.7 417.78h1.4M523.88 417.78h1.4M508.96 417.78h1.4M539.66 417.78h1.4M475.78 417.78h1.4M545.59 417.78h1.4M500.65 417.78h1.4M465.36 417.78h1.4M553.72 417.78h1.4M499.98 417.78h1.4M525.83 417.78h1.4M510.23 417.78h1.4M546.73 417.78h1.4M547.06 417.78h1.4M547.34 417.78h1.4M535.65 417.78h1.4M467.8 417.78h1.4M465.83 417.78h1.4M520.62 417.78h1.4M487 417.78h1.4M528.33 417.78h1.4M519.58 417.78h1.4M473.53 417.78h1.4M484.51 417.78h1.4M481.66 417.78h1.4M488.83 417.78h1.4M508.66 417.78h1.4M534.54 417.78h1.4M553.73 417.78h1.4M458.08 422.81h1.4M512.69 422.81h1.4M535.68 422.81h1.4M528.73 422.81h1.4M549.51 422.81h1.4M483.22 422.81h1.4M560.36 422.81h1.4M561.46 422.81h1.4M479.5 422.81h1.4M491.33 422.81h1.4M497.87 422.81h1.4M513.88 422.81h1.4M519.97 422.81h1.4M458.08 422.81h1.4M531.87 422.81h1.4M507.09 422.81h1.4M484.81 422.81h1.4M542.25 422.81h1.4M504.46 422.81h1.4M547.69 422.81h1.4M530.07 422.81h1.4M505.17 422.81h1.4M548.72 422.81h1.4M538.03 422.81h1.4M499.76 422.81h1.4M467.46 422.81h1.4M498.54 422.81h1.4M532.49 422.81h1.4M507.54 422.81h1.4M523.65 427.83h1.4M513.45 427.83h1.4M553.98 427.83h1.4M548.29 427.83h1.4M473.24 427.83h1.4M509.85 427.83h1.4M535.26 427.83h1.4M501.46 427.83h1.4M538.15 427.83h1.4M524.32 427.83h1.4M531.82 427.83h1.4M512.73 427.83h1.4M523.42 427.83h1.4M529.82 427.83h1.4M471.74 427.83h1.4M487.9 427.83h1.4M484.92 427.83h1.4M563.58 427.83h1.4M523.4 427.83h1.4M525.43 427.83h1.4M519.64 427.83h1.4M499.5 427.83h1.4M492.9 427.83h1.4M539.31 427.83h1.4M503.73 427.83h1.4M560.59 427.83h1.4M520.32 427.83h1.4M517.3 427.83h1.4M508.25 427.83h1.4M516.89 432.85h1.4M537.32 432.85h1.4M466.85 432.85h1.4M513.29 432.85h1.4M569.42 432.85h1.4M512.83 432.85h1.4M521.86 432.85h1.4M515.49 432.85h1.4M480.91 432.85h1.4M543.05 432.85h1.4M523.31 432.85h1.4M520.27 432.85h1.4M536.62 432.85h1.4M538.39 432.85h1.4M460.64 432.85h1.4M529.58 432.85h1.4M498.71 432.85h1.4M520.27 432.85h1.4M494.95 432.85h1.4M490.56 432.85h1.4M543.3 432.85h1.4M515.49 432.85h1.4M507.56 432.85h1.4M507.43 432.85h1.4M518.15 432.85h1.4M515.36 432.85h1.4M458.08 432.85h1.4M490.62 432.85h1.4M509.09 432.85h1.4M600.42 437.87h1.4M514.59 437.87h1.4M546.49 437.87h1.4M480.93 437.87h1.4M517.57 437.87h1.4M550.33 437.87h1.4M531.38 437.87h1.4M503.04 437.87h1.4M589.86 437.87h1.4M540.12 437.87h1.4M512.03 437.87h1.4M501.13 437.87h1.4M510.86 437.87h1.4M557.94 437.87h1.4M496.3 437.87h1.4M519.66 437.87h1.4M494.9 437.87h1.4M555.17 437.87h1.4M514.01 437.87h1.4M543.79 437.87h1.4M535.22 437.87h1.4M501.88 437.87h1.4M539.11 437.87h1.4M546.06 437.87h1.4M485.43 437.87h1.4M539.2 437.87h1.4M611.72 437.87h1.4M510.14 437.87h1.4M537.37 437.87h1.4M492.26 442.89h1.4M484.91 442.89h1.4M555 442.89h1.4M504.74 442.89h1.4M527.04 442.89h1.4M491.15 442.89h1.4M512.28 442.89h1.4M510.01 442.89h1.4M493.06 442.89h1.4M543.3 442.89h1.4M469.31 442.89h1.4M536.44 442.89h1.4M596.06 442.89h1.4M493.88 442.89h1.4M518.82 442.89h1.4M472.1 442.89h1.4M516.99 442.89h1.4M466.72 442.89h1.4M536.05 442.89h1.4M503.06 442.89h1.4M463.17 442.89h1.4M479.29 442.89h1.4M470.59 442.89h1.4M508.77 442.89h1.4M542.15 442.89h1.4M505.28 442.89h1.4M482.23 442.89h1.4M492.18 442.89h1.4M520.12 442.89h1.4M563.07 447.92h1.4M546.98 447.92h1.4M502.51 447.92h1.4M514 447.92h1.4M518.74 447.92h1.4M545.84 447.92h1.4M493.34 447.92h1.4M490.13 447.92h1.4M497.6 447.92h1.4M520.25 447.92h1.4M523.96 447.92h1.4M504.5 447.92h1.4M538.63 447.92h1.4M485.9 447.92h1.4M513.88 447.92h1.4M495.67 447.92h1.4M486.37 447.92h1.4M552.43 447.92h1.4M506.69 447.92h1.4M486.38 447.92h1.4M517.33 447.92h1.4M486.51 447.92h1.4M533.78 447.92h1.4M541.28 447.92h1.4M546.48 447.92h1.4M484.85 447.92h1.4M511.83 447.92h1.4M570.7 447.92h1.4M509.83 447.92h1.4M522.06 452.94h1.4M502.66 452.94h1.4M508.69 452.94h1.4M527.89 452.94h1.4M551.96 452.94h1.4M538.04 452.94h1.4M536.13 452.94h1.4M560.52 452.94h1.4M469.44 452.94h1.4M472.59 452.94h1.4M458.08 452.94h1.4M538.95 452.94h1.4M458.08 452.94h1.4M513.22 452.94h1.4M536.52 452.94h1.4M473.65 452.94h1.4M495.12 452.94h1.4M506.71 452.94h1.4M535.67 452.94h1.4M470.04 452.94h1.4M523.63 452.94h1.4M534.64 452.94h1.4M518.45 452.94h1.4M518.87 452.94h1.4M550.66 452.94h1.4M520.69 452.94h1.4M513.56 452.94h1.4M504.45 452.94h1.4M533.16 452.94h1.4M535.4 457.96h1.4M466.1 457.96h1.4M532.91 457.96h1.4M499.72 457.96h1.4M518.95 457.96h1.4M532.8 457.96h1.4M487.87 457.96h1.4M489.7 457.96h1.4M509.71 457.96h1.4M533.94 457.96h1.4M497.23 457.96h1.4M472.08 457.96h1.4M492.8 457.96h1.4M523.96 457.96h1.4M546.34 457.96h1.4M498.17 457.96h1.4M503.41 457.96h1.4M507.57 457.96h1.4M508.83 457.96h1.4M485.37 457.96h1.4M499.93 457.96h1.4M518.86 457.96h1.4M515.6 457.96h1.4M513.26 457.96h1.4M483.61 457.96h1.4M496.77 457.96h1.4M492.04 457.96h1.4M542.88 457.96h1.4M554.48 457.96h1.4M535.15 462.98h1.4M501 462.98h1.4M546.45 462.98h1.4M572.42 462.98h1.4M531.52 462.98h1.4M538.78 462.98h1.4M529.41 462.98h1.4M541.52 462.98h1.4M521.15 462.98h1.4M500.65 462.98h1.4M520.73 462.98h1.4M518.21 462.98h1.4M471.45 462.98h1.4M521.82 462.98h1.4M515.9 462.98h1.4M521.09 462.98h1.4M499.46 462.98h1.4M528.93 462.98h1.4M532.99 462.98h1.4M494.9 462.98h1.4M524.35 462.98h1.4M537.41 462.98h1.4M536.34 462.98h1.4M488.7 462.98h1.4M485.71 462.98h1.4M515.62 462.98h1.4M484.88 462.98h1.4M586.23 462.98h1.4M491.44 462.98h1.4M480.44 468h1.4M581.49 468h1.4M501.65 468h1.4M524 468h1.4M514.05 468h1.4M467.3 468h1.4M497.37 468h1.4M519.07 468h1.4M539.75 468h1.4M503.22 468h1.4M523.62 468h1.4M503.43 468h1.4M529.99 468h1.4M458.08 468h1.4M530.37 468h1.4M495.35 468h1.4M496.57 468h1.4M458.08 468h1.4M482.72 468h1.4M530.81 468h1.4M579.52 468h1.4M493.07 468h1.4M494.31 468h1.4M527.36 468h1.4M521.53 468h1.4M496.44 468h1.4M508.49 468h1.4M502.33 468h1.4M531.12 468h1.4M541.93 473.03h1.4M464.86 473.03h1.4M519.41 473.03h1.4M526.59 473.03h1.4M476.77 473.03h1.4M501.09 473.03h1.4M551.81 473.03h1.4M509.72 473.03h1.4M488.01 473.03h1.4M458.08 473.03h1.4M523.37 473.03h1.4M516.48 473.03h1.4M531.17 473.03h1.4M572.8 473.03h1.4M513.42 473.03h1.4M517.4 473.03h1.4M493.69 473.03h1.4M511.75 473.03h1.4M512.7 473.03h1.4M535.37 473.03h1.4M529.55 473.03h1.4M491.44 473.03h1.4M499.79 473.03h1.4M553.41 473.03h1.4M485.78 473.03h1.4M535.15 473.03h1.4M560.5 473.03h1.4M532.44 473.03h1.4M520.86 473.03h1.4M572.45 478.05h1.4M486.51 478.05h1.4M549.62 478.05h1.4M553.98 478.05h1.4M480.34 478.05h1.4M538.33 478.05h1.4M521.51 478.05h1.4M538.58 478.05h1.4M478.65 478.05h1.4M520.45 478.05h1.4M485.07 478.05h1.4M503.83 478.05h1.4M554.49 478.05h1.4M509.53 478.05h1.4M458.08 478.05h1.4M472.97 478.05h1.4M480.46 478.05h1.4M542.8 478.05h1.4M493.25 478.05h1.4M468.4 478.05h1.4M545.72 478.05h1.4M520.67 478.05h1.4M523.33 478.05h1.4M490.32 478.05h1.4M554.71 478.05h1.4M509.88 478.05h1.4M458.08 478.05h1.4M480.52 478.05h1.4M489.06 478.05h1.4M518.84 483.07h1.4M477.72 483.07h1.4M500.61 483.07h1.4M480.34 483.07h1.4M458.08 483.07h1.4M539.01 483.07h1.4M503.65 483.07h1.4M501.21 483.07h1.4M485.34 483.07h1.4M535 483.07h1.4M573.63 483.07h1.4M530.02 483.07h1.4M539.98 483.07h1.4M477.08 483.07h1.4M518.18 483.07h1.4M519.41 483.07h1.4M556.18 483.07h1.4M513.36 483.07h1.4M485.79 483.07h1.4M511.16 483.07h1.4M500.5 483.07h1.4M554.89 483.07h1.4M532.29 483.07h1.4M522.93 483.07h1.4M518.24 483.07h1.4M537.45 483.07h1.4M498.85 483.07h1.4M486.47 483.07h1.4M458.62 483.07h1.4M482.07 488.09h1.4M509.7 488.09h1.4M511.41 488.09h1.4M472.05 488.09h1.4M477.84 488.09h1.4M547.15 488.09h1.4M458.08 488.09h1.4M517.48 488.09h1.4M505.12 488.09h1.4M552.55 488.09h1.4M530.19 488.09h1.4M487.76 488.09h1.4M548.87 488.09h1.4M496.49 488.09h1.4M569.9 488.09h1.4M560.28 488.09h1.4M510.36 488.09h1.4M534.91 488.09h1.4M517.96 488.09h1.4M486.74 488.09h1.4M543.28 488.09h1.4M524.96 488.09h1.4M537.18 488.09h1.4M543.52 488.09h1.4M553.43 488.09h1.4M542.6 488.09h1.4M510.31 488.09h1.4M515.41 488.09h1.4M524.77 488.09h1.4M533.11 493.11h1.4M519.73 493.11h1.4M470.59 493.11h1.4M551.02 493.11h1.4M519.34 493.11h1.4M559.43 493.11h1.4M545.58 493.11h1.4M500.78 493.11h1.4M516 493.11h1.4M492.23 493.11h1.4M489.22 493.11h1.4M504.78 493.11h1.4M527.68 493.11h1.4M552.59 493.11h1.4M487.83 493.11h1.4M533.51 493.11h1.4M514.56 493.11h1.4M507.17 493.11h1.4M545.88 493.11h1.4M503.38 493.11h1.4M553.11 493.11h1.4M504.09 493.11h1.4M487.23 493.11h1.4M535.72 493.11h1.4M471.92 493.11h1.4M479.74 493.11h1.4M508.44 493.11h1.4M513.89 493.11h1.4M506.13 493.11h1.4M502.83 498.14h1.4M458.08 498.14h1.4M512.64 498.14h1.4M541.3 498.14h1.4M492.82 498.14h1.4M493.52 498.14h1.4M543.24 498.14h1.4M482.06 498.14h1.4M486.63 498.14h1.4M504.58 498.14h1.4M531.7 498.14h1.4M531.83 498.14h1.4M498.51 498.14h1.4M504.8 498.14h1.4M516.27 498.14h1.4M502.47 498.14h1.4M488.76 498.14h1.4M482.15 498.14h1.4M534.21 498.14h1.4M507.33 498.14h1.4M596.21 498.14h1.4M531.63 498.14h1.4M491.98 498.14h1.4M513.7 498.14h1.4M523.48 498.14h1.4M525.12 498.14h1.4M526.5 498.14h1.4M526.7 498.14h1.4M509.65 498.14h1.4M490.19 503.16h1.4M482.78 503.16h1.4M513.01 503.16h1.4M546.36 503.16h1.4M519.85 503.16h1.4M507.02 503.16h1.4M536.97 503.16h1.4M516.16 503.16h1.4M458.19 503.16h1.4M483.94 503.16h1.4M458.08 503.16h1.4M506.61 503.16h1.4M500.08 503.16h1.4M525.64 503.16h1.4M573.84 503.16h1.4M495.81 503.16h1.4M513.22 503.16h1.4M502.01 503.16h1.4M458.08 503.16h1.4M491.07 503.16h1.4M492.29 503.16h1.4M520.93 503.16h1.4M488.88 503.16h1.4M475.85 503.16h1.4M530 503.16h1.4M511.16 503.16h1.4M487.27 503.16h1.4M491.22 503.16h1.4M504.4 503.16h1.4M510.51 508.18h1.4M468.76 508.18h1.4M460.94 508.18h1.4M519.44 508.18h1.4M556.14 508.18h1.4M555.79 508.18h1.4M502.83 508.18h1.4M527.39 508.18h1.4M489.5 508.18h1.4M472.97 508.18h1.4M549.3 508.18h1.4M533.61 508.18h1.4M504.76 508.18h1.4M503.64 508.18h1.4M540.5 508.18h1.4M523.49 508.18h1.4M504.73 508.18h1.4M522.39 508.18h1.4M514.07 508.18h1.4M502.72 508.18h1.4M493.9 508.18h1.4M540.76 508.18h1.4M500.91 508.18h1.4M480.75 508.18h1.4M565.95 508.18h1.4M549.97 508.18h1.4M529.33 508.18h1.4M512.54 508.18h1.4M520 508.18h1.4M484.16 513.2h1.4M533.55 513.2h1.4M493.18 513.2h1.4M505.12 513.2h1.4M535.43 513.2h1.4M543.59 513.2h1.4M496.98 513.2h1.4M494.99 513.2h1.4M540.99 513.2h1.4M458.08 513.2h1.4M550.88 513.2h1.4M549.57 513.2h1.4M482.88 513.2h1.4M546.7 513.2h1.4M523.27 513.2h1.4M525.97 513.2h1.4M458.08 513.2h1.4M499.1 513.2h1.4M507.53 513.2h1.4M501.39 513.2h1.4M502 513.2h1.4M504.87 513.2h1.4M458.08 513.2h1.4M507.29 513.2h1.4M493.32 513.2h1.4M510.42 513.2h1.4M498.86 513.2h1.4M512.81 513.2h1.4M520.9 513.2h1.4M518.08 518.22h1.4M509.66 518.22h1.4M505.19 518.22h1.4M481.98 518.22h1.4M529.32 518.22h1.4M513.23 518.22h1.4M505.61 518.22h1.4M496.31 518.22h1.4M504.55 518.22h1.4M469.1 518.22h1.4M503.73 518.22h1.4M484.37 518.22h1.4M549.42 518.22h1.4M485.29 518.22h1.4M499.68 518.22h1.4M513.05 518.22h1.4M535.4 518.22h1.4M525.82 518.22h1.4M513.05 518.22h1.4M574.55 518.22h1.4M512.12 518.22h1.4M521.86 518.22h1.4M590.98 518.22h1.4M487.07 518.22h1.4M540.23 518.22h1.4M525.33 518.22h1.4M474.83 518.22h1.4M494.73 518.22h1.4M536.51 518.22h1.4M505.25 523.25h1.4M580.16 523.25h1.4M484.16 523.25h1.4M502.95 523.25h1.4M486.11 523.25h1.4M498.22 523.25h1.4M499.17 523.25h1.4M470.31 523.25h1.4M484.53 523.25h1.4M570.94 523.25h1.4M505.11 523.25h1.4M538.83 523.25h1.4M476.14 523.25h1.4M509.29 523.25h1.4M528.04 523.25h1.4M507.67 523.25h1.4M497.88 523.25h1.4M507.2 523.25h1.4M513.42 523.25h1.4M536.52 523.25h1.4M547.23 523.25h1.4M474.69 523.25h1.4M458.08 523.25h1.4M507.03 523.25h1.4M512.67 523.25h1.4M533.14 523.25h1.4M543.22 523.25h1.4M493.44 523.25h1.4M571.78 523.25h1.4M536.29 528.27h1.4M516.07 528.27h1.4M509.8 528.27h1.4M530.43 528.27h1.4M521.18 528.27h1.4M498.69 528.27h1.4M477.36 528.27h1.4M542.77 528.27h1.4M491.71 528.27h1.4M504.67 528.27h1.4M535.42 528.27h1.4M510.83 528.27h1.4M545.03 528.27h1.4M480.18 528.27h1.4M534.35 528.27h1.4M474.23 528.27h1.4M469.26 528.27h1.4M482.45 528.27h1.4M515.82 528.27h1.4M493.01 528.27h1.4M472.75 528.27h1.4M546.96 528.27h1.4M484.76 528.27h1.4M509.18 528.27h1.4M519.74 528.27h1.4M498.77 528.27h1.4M522.85 528.27h1.4M530.22 528.27h1.4M509.51 528.27h1.4M509.94 533.29h1.4M528.49 533.29h1.4M522.18 533.29h1.4M476.16 533.29h1.4M535.82 533.29h1.4M535.34 533.29h1.4M520.77 533.29h1.4M476.73 533.29h1.4M469.66 533.29h1.4M513.3 533.29h1.4M482.48 533.29h1.4M473.55 533.29h1.4M537.91 533.29h1.4M538.49 533.29h1.4M530.7 533.29h1.4M549.98 533.29h1.4M538.21 533.29h1.4M478.74 533.29h1.4M545.27 533.29h1.4M515.63 533.29h1.4M524.94 533.29h1.4M557.45 533.29h1.4M524.95 533.29h1.4M557.65 533.29h1.4M513.82 533.29h1.4M501.18 533.29h1.4M491.78 533.29h1.4M508.28 533.29h1.4M463.61 533.29h1.4M500.75 538.31h1.4M496 538.31h1.4M463.31 538.31h1.4M487.6 538.31h1.4M461.73 538.31h1.4M495.59 538.31h1.4M532.14 538.31h1.4M510.36 538.31h1.4M494.69 538.31h1.4M482.42 538.31h1.4M492.24 538.31h1.4M470.05 538.31h1.4M475.39 538.31h1.4M568.44 538.31h1.4M519.08 538.31h1.4M485.62 538.31h1.4M531.54 538.31h1.4M555.52 538.31h1.4M493.67 538.31h1.4M508.99 538.31h1.4M475.79 538.31h1.4M465.97 538.31h1.4M552.02 538.31h1.4M611.21 538.31h1.4M490.71 538.31h1.4M465.1 538.31h1.4M553.17 538.31h1.4M542.71 538.31h1.4M525.89 538.31h1.4M511.95 543.33h1.4M511.95 543.33h1.4M494.93 543.33h1.4M497.75 543.33h1.4M505.35 543.33h1.4M550.8 543.33h1.4M499.73 543.33h1.4M528.55 543.33h1.4M524.65 543.33h1.4M523.97 543.33h1.4M504.23 543.33h1.4M533.51 543.33h1.4M516.99 543.33h1.4M515.22 543.33h1.4M498.79 543.33h1.4M458.08 543.33h1.4M533.49 543.33h1.4M534.28 543.33h1.4M498.03 543.33h1.4M507.44 543.33h1.4M520.83 543.33h1.4M484.59 543.33h1.4M532.99 543.33h1.4M533.14 543.33h1.4M537.19 543.33h1.4M539.21 543.33h1.4M458.08 543.33h1.4M527.75 543.33h1.4M500.09 543.33h1.4M543.03 548.36h1.4M536.96 548.36h1.4M525.72 548.36h1.4M502.5 548.36h1.4M511.38 548.36h1.4M504.81 548.36h1.4M561.34 548.36h1.4M524.91 548.36h1.4M493.2 548.36h1.4M487.63 548.36h1.4M547.27 548.36h1.4M486.94 548.36h1.4M522.31 548.36h1.4M516.92 548.36h1.4M542.28 548.36h1.4M486.83 548.36h1.4M525.08 548.36h1.4M517.67 548.36h1.4M534.69 548.36h1.4M550.75 548.36h1.4M514.86 548.36h1.4M505.54 548.36h1.4M537.02 548.36h1.4M471.73 548.36h1.4M517.36 548.36h1.4M483.94 548.36h1.4M477.5 548.36h1.4M466.88 548.36h1.4M464.77 548.36h1.4M509.41 553.38h1.4M537.01 553.38h1.4M511.26 553.38h1.4M480.7 553.38h1.4M458.08 553.38h1.4M563.7 553.38h1.4M519.04 553.38h1.4M479.2 553.38h1.4M503.32 553.38h1.4M540.73 553.38h1.4M469.45 553.38h1.4M577.56 553.38h1.4M505.12 553.38h1.4M501.71 553.38h1.4M549.24 553.38h1.4M518.3 553.38h1.4M483.4 553.38h1.4M538.62 553.38h1.4M525.18 553.38h1.4M544.63 553.38h1.4M485.64 553.38h1.4M479.73 553.38h1.4M530.17 553.38h1.4M499.59 553.38h1.4M458.08 553.38h1.4M495.2 553.38h1.4M530.13 553.38h1.4M491.13 553.38h1.4M548.88 553.38h1.4M537.23 558.4h1.4M458.08 558.4h1.4M497.64 558.4h1.4M546.08 558.4h1.4M488.76 558.4h1.4M564.63 558.4h1.4M518.95 558.4h1.4M476.28 558.4h1.4M528.17 558.4h1.4M568.25 558.4h1.4M492.26 558.4h1.4M527.98 558.4h1.4M486.07 558.4h1.4M494.76 558.4h1.4M515.09 558.4h1.4M526.7 558.4h1.4M522.04 558.4h1.4M517.93 558.4h1.4M581.81 558.4h1.4M480.29 558.4h1.4M458.08 558.4h1.4M528.1 558.4h1.4M517.27 558.4h1.4M470.02 558.4h1.4M562 558.4h1.4M491.41 558.4h1.4M470.79 558.4h1.4M524.1 558.4h1.4M530.51 558.4h1.4M544.89 563.42h1.4M492.63 563.42h1.4M484.36 563.42h1.4M490.06 563.42h1.4M511.04 563.42h1.4M522.85 563.42h1.4M537.88 563.42h1.4M567.73 563.42h1.4M559.77 563.42h1.4M520.27 563.42h1.4M500.91 563.42h1.4M476.97 563.42h1.4M536.4 563.42h1.4M527.43 563.42h1.4M504.08 563.42h1.4M507.44 563.42h1.4M508.84 563.42h1.4M458.08 563.42h1.4M510.61 563.42h1.4M521.81 563.42h1.4M508.64 563.42h1.4M481.13 563.42h1.4M513.61 563.42h1.4M526.3 563.42h1.4M564.98 563.42h1.4M543.29 563.42h1.4M529.63 563.42h1.4M510.75 563.42h1.4M473.08 563.42h1.4M513.73 568.44h1.4M534.71 568.44h1.4M517.56 568.44h1.4M520.78 568.44h1.4M518.02 568.44h1.4M520.21 568.44h1.4M508.9 568.44h1.4M525.18 568.44h1.4M469.45 568.44h1.4M499.99 568.44h1.4M473.37 568.44h1.4M509.71 568.44h1.4M490.88 568.44h1.4M528 568.44h1.4M549.17 568.44h1.4M475.99 568.44h1.4M489.5 568.44h1.4M521.97 568.44h1.4M554.53 568.44h1.4M534.98 568.44h1.4M525.31 568.44h1.4M510.64 568.44h1.4M499.4 568.44h1.4M523.61 568.44h1.4M527.01 568.44h1.4M517.04 568.44h1.4M495.32 568.44h1.4M465.39 568.44h1.4M487.46 568.44h1.4M524.06 573.47h1.4M506.36 573.47h1.4M490.7 573.47h1.4M605.74 573.47h1.4M506.67 573.47h1.4M553.27 573.47h1.4M478.27 573.47h1.4M491.03 573.47h1.4M548.17 573.47h1.4M480.61 573.47h1.4M481.44 573.47h1.4M510.88 573.47h1.4M491.32 573.47h1.4M504.01 573.47h1.4M517 573.47h1.4M537.78 573.47h1.4M517.85 573.47h1.4M521.08 573.47h1.4M551.02 573.47h1.4M553.64 573.47h1.4M502.29 573.47h1.4M458.7 573.47h1.4M483.27 573.47h1.4M543.66 573.47h1.4M498.68 573.47h1.4M492.02 573.47h1.4M499.49 573.47h1.4M558.83 573.47h1.4M514.29 573.47h1.4M526.14 578.49h1.4M547.95 578.49h1.4M520.17 578.49h1.4M474.22 578.49h1.4M495.25 578.49h1.4M537.27 578.49h1.4M475.05 578.49h1.4M501.98 578.49h1.4M546.2 578.49h1.4M504.57 578.49h1.4M495.92 578.49h1.4M536.31 578.49h1.4M559.74 578.49h1.4M524.39 578.49h1.4M474.12 578.49h1.4M465.84 578.49h1.4M505.45 578.49h1.4M460.16 578.49h1.4M510.28 578.49h1.4M539.24 578.49h1.4M458.08 578.49h1.4M507.57 578.49h1.4M522.18 578.49h1.4M496.97 578.49h1.4M524.15 578.49h1.4M527.29 578.49h1.4M543.33 578.49h1.4M591.48 578.49h1.4M522.08 578.49h1.4M485.73 583.51h1.4M515.76 583.51h1.4M555.04 583.51h1.4M527.84 583.51h1.4M502.43 583.51h1.4M513.59 583.51h1.4M491.94 583.51h1.4M493.83 583.51h1.4M471.56 583.51h1.4M545.73 583.51h1.4M545.29 583.51h1.4M510.24 583.51h1.4M474.35 583.51h1.4M506.48 583.51h1.4M571.94 583.51h1.4M474.74 583.51h1.4M498.74 583.51h1.4M499.7 583.51h1.4M536.7 583.51h1.4M476.46 583.51h1.4M521.1 583.51h1.4M489.49 583.51h1.4M503.06 583.51h1.4M478.06 583.51h1.4M528.78 583.51h1.4M499.11 583.51h1.4M496.24 583.51h1.4M545.37 583.51h1.4M523.58 583.51h1.4M478.06 588.53h1.4M565.79 588.53h1.4M532.95 588.53h1.4M558.27 588.53h1.4M500.41 588.53h1.4M481.45 588.53h1.4M520.63 588.53h1.4M471.67 588.53h1.4M483.67 588.53h1.4M489.71 588.53h1.4M507.73 588.53h1.4M467.25 588.53h1.4M458.08 588.53h1.4M553.98 588.53h1.4M496 588.53h1.4M506.57 588.53h1.4M529.46 588.53h1.4M524.88 588.53h1.4M492.74 588.53h1.4M498.88 588.53h1.4M559.47 588.53h1.4M549.06 588.53h1.4M534.11 588.53h1.4M561.13 588.53h1.4M458.08 588.53h1.4M516.15 588.53h1.4M504.11 588.53h1.4M458.08 588.53h1.4M522.36 588.53h1.4M605.56 593.55h1.4M501.8 593.55h1.4M505.28 593.55h1.4M458.08 593.55h1.4M482.18 593.55h1.4M507.61 593.55h1.4M522 593.55h1.4M535.35 593.55h1.4M490.08 593.55h1.4M526.54 593.55h1.4M546.37 593.55h1.4M497.04 593.55h1.4M510.15 593.55h1.4M458.68 593.55h1.4M487.93 593.55h1.4M471.16 593.55h1.4M532.03 593.55h1.4M506.75 593.55h1.4M559.38 593.55h1.4M517.77 593.55h1.4M535.95 593.55h1.4M527.49 593.55h1.4M518.25 593.55h1.4M480.35 593.55h1.4M561.39 593.55h1.4M509.52 593.55h1.4M458.08 593.55h1.4M495.04 593.55h1.4M479.39 593.55h1.4M505.11 598.58h1.4M540.35 598.58h1.4M477.05 598.58h1.4M540.35 598.58h1.4M491.2 598.58h1.4M534.59 598.58h1.4M492.24 598.58h1.4M484.17 598.58h1.4M458.08 598.58h1.4M513.73 598.58h1.4M526.9 598.58h1.4M470.37 598.58h1.4M565.53 598.58h1.4M511.75 598.58h1.4M478.33 598.58h1.4M570.87 598.58h1.4M499.91 598.58h1.4M555.94 598.58h1.4M458.08 598.58h1.4M576.66 598.58h1.4M517.73 598.58h1.4M511.86 598.58h1.4M521.6 598.58h1.4M477.3 598.58h1.4M539.67 598.58h1.4M525.08 598.58h1.4M521.51 598.58h1.4M494.81 598.58h1.4M476.95 598.58h1.4M509.48 603.6h1.4M550.71 603.6h1.4M520.37 603.6h1.4M511.91 603.6h1.4M482.98 603.6h1.4M531.59 603.6h1.4M523.51 603.6h1.4M514.27 603.6h1.4M524.99 603.6h1.4M516.83 603.6h1.4M485.69 603.6h1.4M478.01 603.6h1.4M531.63 603.6h1.4M518.29 603.6h1.4M558.07 603.6h1.4M572.63 603.6h1.4M537.5 603.6h1.4M531.92 603.6h1.4M529.75 603.6h1.4M516.06 603.6h1.4M494.02 603.6h1.4M458.08 603.6h1.4M535.64 603.6h1.4M530.42 603.6h1.4M513.99 603.6h1.4M516.83 603.6h1.4M541.79 603.6h1.4M540.2 603.6h1.4M518.73 603.6h1.4M459.9 608.62h1.4M487.26 608.62h1.4M559.68 608.62h1.4M518.93 608.62h1.4M516.38 608.62h1.4M553.39 608.62h1.4M502.02 608.62h1.4M574.02 608.62h1.4M483.32 608.62h1.4M494.01 608.62h1.4M479.55 608.62h1.4M527.8 608.62h1.4M509.64 608.62h1.4M535.46 608.62h1.4M544.22 608.62h1.4M535.27 608.62h1.4M543.68 608.62h1.4M543.97 608.62h1.4M508.99 608.62h1.4M489.52 608.62h1.4M482.24 608.62h1.4M533.53 608.62h1.4M495.5 608.62h1.4M482.4 608.62h1.4M486.21 608.62h1.4M504.61 608.62h1.4M517.84 608.62h1.4M503.44 608.62h1.4M480.37 608.62h1.4" stroke="#0a0aff" stroke-width="1.4" fill="none"/>
<path d="M420.4 304V611.3H657.5M420.4 307.3h2.3M420.4 312.32h2.3M420.4 317.34h2.3M420.4 322.37h2.3M420.4 327.39h2.3M420.4 332.41h2.3M420.4 337.43h2.3M420.4 342.45h2.3M420.4 347.48h2.3M420.4 352.5h2.3M420.4 357.52h2.3M420.4 362.54h2.3M420.4 367.56h2.3M420.4 372.59h2.3M420.4 377.61h2.3M420.4 382.63h2.3M420.4 387.65h2.3M420.4 392.67h2.3M420.4 397.7h2.3M420.4 402.72h2.3M420.4 407.74h2.3M420.4 412.76h2.3M420.4 417.78h2.3M420.4 422.81h2.3M420.4 427.83h2.3M420.4 432.85h2.3M420.4 437.87h2.3M420.4 442.89h2.3M420.4 447.92h2.3M420.4 452.94h2.3M420.4 457.96h2.3M420.4 462.98h2.3M420.4 468h2.3M420.4 473.03h2.3M420.4 478.05h2.3M420.4 483.07h2.3M420.4 488.09h2.3M420.4 493.11h2.3M420.4 498.14h2.3M420.4 503.16h2.3M420.4 508.18h2.3M420.4 513.2h2.3M420.4 518.22h2.3M420.4 523.25h2.3M420.4 528.27h2.3M420.4 533.29h2.3M420.4 538.31h2.3M420.4 543.33h2.3M420.4 548.36h2.3M420.4 553.38h2.3M420.4 558.4h2.3M420.4 563.42h2.3M420.4 568.44h2.3M420.4 573.47h2.3M420.4 578.49h2.3M420.4 583.51h2.3M420.4 588.53h2.3M420.4 593.55h2.3M420.4 598.58h2.3M420.4 603.6h2.3M420.4 608.62h2.3" stroke="#666" stroke-width="0.55" fill="none"/>
<path d="M438.9 611.3v2.2M475.05 611.3v2.2M511.2 611.3v2.2M547.35 611.3v2.2M583.5 611.3v2.2M619.65 611.3v2.2M655.8 611.3v2.2" stroke="#444" stroke-width="0.6" fill="none"/>
<g font-family="'Liberation Sans', sans-serif" font-size="6.3" fill="#1a1a1a" text-anchor="end">
<text transform="translate(419.3,309.5) scale(0.857,1)">1-Naphthylacetylspermine</text>
<text transform="translate(419.3,314.52) scale(0.860,1)">2-Methoxy-6Z-hexadecenoic acid</text>
<text transform="translate(419.3,319.54) scale(0.862,1)">HGLEA</text>
<text transform="translate(419.3,324.57) scale(0.864,1)">Lyso-PAFC-16</text>
<text transform="translate(419.3,329.59) scale(0.866,1)">Glycocholic acid</text>
<text transform="translate(419.3,334.61) scale(0.868,1)">Lukotriene B4</text>
<text transform="translate(419.3,339.63) scale(0.870,1)">Arachidonoyl dopamine</text>
<text transform="translate(419.3,344.65) scale(0.872,1)">L-Asparagine</text>
<text transform="translate(419.3,349.68) scale(0.874,1)">13,14-dihydro-15-keto-PGF1alpha</text>
<text transform="translate(419.3,354.7) scale(0.876,1)">D-Histidine</text>
<text transform="translate(419.3,359.72) scale(0.878,1)">10E,12Z-Octadecadienoic acid</text>
<text transform="translate(419.3,364.74) scale(0.880,1)">Uridine5-monophosphate</text>
<text transform="translate(419.3,369.76) scale(0.882,1)">N-Acetylimidazole</text>
<text transform="translate(419.3,374.79) scale(0.884,1)">MG(20:2)</text>
<text transform="translate(419.3,379.81) scale(0.886,1)">2-n-Propyl-4-pentenoic acid</text>
<text transform="translate(419.3,384.83) scale(0.888,1)">alpha-Amylcinnamaldehyde</text>
<text transform="translate(419.3,389.85) scale(0.890,1)">DI-2-Aminooctanoic acid</text>
<text transform="translate(419.3,394.87) scale(0.892,1)">Heptanoic acid</text>
<text transform="translate(419.3,399.9) scale(0.894,1)">PC(16:0/18:1)</text>
<text transform="translate(419.3,404.92) scale(0.896,1)">Cholestandiol</text>
<text transform="translate(419.3,409.94) scale(0.898,1)">S-Acetyldihydrolipoamide</text>
<text transform="translate(419.3,414.96) scale(0.900,1)">L-Threonylcarbamoyladenylate</text>
<text transform="translate(419.3,419.98) scale(0.902,1)">7alpha, 27-dihydroxycholesterone</text>
<text transform="translate(419.3,425.01) scale(0.904,1)">PE(18:0/20:4)</text>
<text transform="translate(419.3,430.03) scale(0.907,1)">Isovalerylcarnitine</text>
<text transform="translate(419.3,435.05) scale(0.909,1)">Cholestanetriol</text>
<text transform="translate(419.3,440.07) scale(0.911,1)">Oxocholesterone</text>
<text transform="translate(419.3,445.09) scale(0.913,1)">Selenophosphoric acid</text>
<text transform="translate(419.3,450.12) scale(0.915,1)">Calcitetrol</text>
<text transform="translate(419.3,455.14) scale(0.917,1)">N-Methyl-L-arginine</text>
<text transform="translate(419.3,460.16) scale(0.919,1)">Palmitoylcarnitine</text>
<text transform="translate(419.3,465.18) scale(0.921,1)">PC(18:0p-2:0e)</text>
<text transform="translate(419.3,470.2) scale(0.923,1)">Dibutyl adipate</text>
<text transform="translate(419.3,475.23) scale(0.925,1)">D-Erythrulose</text>
<text transform="translate(419.3,480.25) scale(0.927,1)">Arachidic acid</text>
<text transform="translate(419.3,485.27) scale(0.929,1)">Eburicoic acid</text>
<text transform="translate(419.3,490.29) scale(0.931,1)">1-Methylhistidine</text>
<text transform="translate(419.3,495.31) scale(0.933,1)">Glutathione</text>
<text transform="translate(419.3,500.34) scale(0.935,1)">L-Valine</text>
<text transform="translate(419.3,505.36) scale(0.937,1)">Isobutyryl carnitine</text>
<text transform="translate(419.3,510.38) scale(0.939,1)" font-size="5.2">3alpha, 7alpha-Dihydroxy-5beta-cholestanate</text>
<text transform="translate(419.3,515.4) scale(0.941,1)">2-Methylbutyroylcarnitine</text>
<text transform="translate(419.3,520.42) scale(0.943,1)">5-Decanoyl-5'-methylthioadenosine</text>
<text transform="translate(419.3,525.45) scale(0.945,1)">cis-11-Methyl-2-dodecenoic acid</text>
<text transform="translate(419.3,530.47) scale(0.947,1)">N-Octanoyl-L-homoserine lactone</text>
<text transform="translate(419.3,535.49) scale(0.949,1)">Citronellylacetate</text>
<text transform="translate(419.3,540.51) scale(0.951,1)">N6-Succinyl adenosine</text>
<text transform="translate(419.3,545.53) scale(0.953,1)">Trihydroxycoprostane</text>
<text transform="translate(419.3,550.56) scale(0.956,1)">Propionyl-L-carnitine</text>
<text transform="translate(419.3,555.58) scale(0.958,1)">Adenosine 5'-monophosphate</text>
<text transform="translate(419.3,560.6) scale(0.960,1)">PI3-Kinase alpha-Inhibitor 2</text>
<text transform="translate(419.3,565.62) scale(0.962,1)">Fucosterol epoxide</text>
<text transform="translate(419.3,570.64) scale(0.964,1)">(R)-Stearoylcarnitine</text>
<text transform="translate(419.3,575.67) scale(0.966,1)">Octadecanoic acid</text>
<text transform="translate(419.3,580.69) scale(0.968,1)">Thyroxine</text>
<text transform="translate(419.3,585.71) scale(0.970,1)">UDP-alpha-D-galactose</text>
<text transform="translate(419.3,590.73) scale(0.972,1)">Cytidine</text>
<text transform="translate(419.3,595.75) scale(0.974,1)">Inosine-5'-carboxylate</text>
<text transform="translate(419.3,600.78) scale(0.976,1)">Dephospho-CoA</text>
<text transform="translate(419.3,605.8) scale(0.978,1)">Dihydrolipoate</text>
<text transform="translate(419.3,610.82) scale(0.980,1)">Glycerophosphocholine</text>
</g>
<g font-family="'Liberation Sans', sans-serif" font-size="8.6" font-weight="bold" fill="#1a1a1a" text-anchor="middle">
<text x="439.8" y="622.2">-2</text>
<text x="475.95" y="622.2">-1</text>
<text x="511.9" y="622.2">0</text>
<text x="548.05" y="622.2">1</text>
<text x="584.2" y="622.2">2</text>
<text x="620.35" y="622.2">3</text>
<text x="656.5" y="622.2">4</text>
</g>
<text x="553.6" y="634.3" font-family="'Liberation Sans', sans-serif" font-size="13" font-weight="bold" text-anchor="middle" fill="#111">Z-score</text>
<text x="538.5" y="303" font-family="'Liberation Sans', sans-serif" font-size="4.6" font-style="italic" fill="#ff3030" text-anchor="middle">Z-plot</text>
<rect x="661.2" y="304.4" width="24" height="14.2" fill="#fff" stroke="#666" stroke-width="0.5"/>
<ellipse cx="667.2" cy="308.3" rx="1" ry="1.35" fill="none" stroke="#ff1a1a" stroke-width="0.5"/>
<rect x="666.6" y="313.7" width="1.2" height="1.2" fill="#0a0aff"/>
<g font-family="'Liberation Sans', sans-serif" font-size="4.9" fill="#222"><text x="672.5" y="310.1">POI</text><text x="672.5" y="316.5">CON</text></g>
<text x="355.1" y="292.8" font-family="'Liberation Sans', sans-serif" font-weight="bold" font-size="21.8" fill="#231815">C</text>
<rect x="31.2" y="704.5" width="293.5" height="156.8" fill="#fefeef"/>
<path d="M31.2 847.3H324.7M144.3 704.5V861.3M166.4 704.5V861.3" stroke="#333" stroke-width="0.7" fill="none"/>
<path d="M130.8 710.1h0M61 738.9h0M86.1 735.7h0M93.1 736.2h0M123.3 748.6h0M84.4 749.8h0M113.9 754.5h0M77.2 760h0M86.1 761h0M92.6 756.8h0M93.8 757.8h0M120.8 761.7h0M124.1 765.5h0M78.7 768.7h0M94.5 773.9h0M108.7 776.9h0M62 784.3h0M102.2 780.8h0M101.2 791h0M107.9 791.3h0M92.3 793.5h0M95.3 799h0M99.3 798h0M108.4 803.4h0M96.5 805.9h0M100.5 806.4h0M110.2 808.6h0M119.9 803.4h0M121.1 806.4h0M129 808.4h0M131 810.4h0M136.2 811.9h0M137.7 808h0M135.5 799.2h0M140.4 796.2h0M100.9 791.5h0M109.1 801.1h0M118.3 805.6h0M137 796.1h0M136.04 841.3h0M131.96 831.86h0M121.16 834.05h0M130.21 823.52h0M120.91 845.7h0M133.95 830.55h0M130.66 844.3h0M137.68 841.82h0M129.92 836.2h0M134.28 824.39h0M132.57 831.51h0M137.32 824.57h0M134.32 842.19h0M126.6 842.58h0M137.18 821.53h0M134.69 818.9h0M131.77 835.13h0M126.02 832.78h0M136.06 832.58h0M124.58 839.67h0M130.89 841.17h0M126.79 832.66h0M135.96 836.46h0M131.82 830.6h0M118.68 843.27h0M122.51 841.83h0M129.48 843.66h0M130.05 843.33h0M132.58 830.7h0M135.14 839.29h0M134.38 835.65h0M126.47 838.75h0M123.27 839.57h0M133.72 833.91h0M135.94 829.42h0M129.89 841.16h0M129.71 839.89h0M133.39 843.43h0M140.77 840.05h0M136.1 828.14h0M134.77 841.87h0M130.08 837.28h0M131.39 843.84h0M128.52 834.44h0M116.67 834.8h0M133.66 843.3h0M138.27 832.83h0M140.58 829.23h0M136.33 828.28h0M130.15 825.03h0M136.92 841.6h0M124.31 836.82h0M127.29 836.18h0M132.53 826.45h0M137.03 831.69h0M130.86 824.2h0M117.16 829.45h0M128.99 843.16h0M137.52 835.97h0M130.99 839.17h0M136.93 833.06h0M135.87 834.37h0M133.13 840.26h0M131.74 839.55h0M134.56 819.96h0M120.39 828.01h0M126.27 829.69h0M120.92 830.08h0M133.23 842.43h0M129.14 833.69h0M130.35 839.38h0M135.75 843.43h0M129.62 839.79h0M128.99 841.53h0M126.67 842.2h0M119.56 840.23h0M119.88 831.64h0M119.44 826.06h0M114.47 836.13h0M119.25 842.5h0M114.22 836.69h0M119.4 837.56h0M122.03 836.02h0M120.19 835.33h0M120.77 830.21h0M120.08 839.12h0M116.1 845.8h0" stroke="#0000ff" stroke-width="4.1" stroke-linecap="round" fill="none"/>
<path d="M184.9 720.5h0M185.8 729.3h0M196 721.9h0M203.5 726.9h0M207.1 732.7h0M217.4 738.2h0M236.3 719.6h0M233.2 746.5h0M254.8 751h0M241 765.1h0M244.3 774.6h0M261 769.6h0M183.8 744.9h0M190.2 746h0M183.8 750.4h0M189.9 752.6h0M191.9 752.6h0M199.4 748.8h0M189.9 758.5h0M190.8 762.1h0M181.6 771h0M184.4 772.1h0M191.3 771.5h0M198.8 774.3h0M194.4 776.5h0M200.5 778.4h0M208 779.8h0M217.4 790.7h0M199.4 786.5h0M203 786.5h0M199.4 794.3h0M192.7 782h0M191.3 789h0M188.3 799.3h0M183 795.1h0M191.6 823.7h0M194.4 821.4h0M172.62 826.73h0M176.86 773.55h0M188.77 822.41h0M188.04 811.73h0M196.47 785.31h0M182.45 777.05h0M175.61 774.59h0M179.77 837.68h0M179.13 834.91h0M186.41 808.53h0M194.5 798.45h0M183.72 774.56h0M185.91 803.61h0M174.37 798.37h0M175.19 771.45h0M179 806.5h0M180.04 800.73h0M181.22 802.32h0M173.14 803.53h0M171.45 812.35h0M178.38 794.06h0M171.5 829.52h0M177.11 809.1h0M172.56 842.6h0M184.63 798.38h0M171.34 833.72h0M187.59 774.63h0M186.73 787.22h0M175.02 797.84h0M180.35 845.41h0M188.73 807.23h0M179.02 775.2h0M170.68 814.68h0M177.29 830.71h0M184.28 822.64h0M173.55 786.16h0M179.57 793.75h0M183.31 781.7h0M186.49 775.04h0M174.35 826.48h0M173.17 837.21h0M173.2 842.97h0M170.27 829.16h0M179.57 814.26h0M191.11 783.04h0M177.69 776.88h0M179.7 825.43h0M182.76 781.29h0M172.12 829.8h0M180.85 820.95h0M181.32 837.98h0M185.51 781.54h0M187.65 787.75h0M181.42 828.89h0M187.72 813.24h0M180.46 836.1h0M180.79 832.9h0M175.08 776.72h0M182.82 777.84h0M193.93 786.87h0M177.31 835.86h0M177.73 800.44h0M176.76 800.69h0M171.11 813.89h0M188.24 804.92h0M170.82 840.58h0M179.45 816.68h0M174.86 805.05h0M193.18 804.42h0M185.89 777.79h0M191.15 807.65h0M176.11 802.6h0M190.45 795.44h0M186.42 828.09h0M174.18 812.91h0M176.48 789.69h0M188.74 774.81h0M186.3 811.58h0M179.61 834.48h0M179.89 789.38h0M172.67 814.62h0M185.26 815.55h0M171.98 827.65h0M170.04 834.56h0M173.79 834.61h0M172.48 840.9h0M171.22 825.33h0M172.49 844.83h0M168.3 834.72h0M173.24 835.27h0M168.83 835.79h0M168.64 826.48h0M170.7 828.72h0M172.03 844.84h0" stroke="#ff0000" stroke-width="4.1" stroke-linecap="round" fill="none"/>
<path d="M121.5 851.8h0M127 848.5h0M134 849h0M135.5 851h0M137 853h0M138 850h0M139 855h0M140.5 852.5h0M141.5 857h0M136.5 856h0M144 852h0M138.5 848.8h0M173.8 850.8h0M133 848.3h0M140 849.6h0M142.6 854.2h0" stroke="#000" stroke-width="2.2" stroke-linecap="round" fill="none"/>
<rect x="31.2" y="704.5" width="293.5" height="156.8" fill="none" stroke="#555" stroke-width="0.8"/>
<path d="M31.2 836.1h-3.3M324.7 836.1h3.3M31.2 803.7h-3.3M324.7 803.7h3.3M31.2 771.3h-3.3M324.7 771.3h3.3M31.2 738.9h-3.3M324.7 738.9h3.3M31.2 706.5h-3.3M324.7 706.5h3.3M86.6 861.3v3.6M155.8 861.3v3.6M225 861.3v3.6M294.2 861.3v3.6" stroke="#555" stroke-width="0.7" fill="none"/>
<g font-family="'Liberation Sans', sans-serif" font-size="9.3" font-weight="bold" fill="#1a1a1a" text-anchor="middle">
<text transform="translate(24.3,836.1) rotate(-90)">2</text>
<text transform="translate(337.6,836.1) rotate(-90)">2</text>
<text transform="translate(24.3,803.7) rotate(-90)">4</text>
<text transform="translate(337.6,803.7) rotate(-90)">4</text>
<text transform="translate(24.3,771.3) rotate(-90)">6</text>
<text transform="translate(337.6,771.3) rotate(-90)">6</text>
<text transform="translate(24.3,738.9) rotate(-90)">8</text>
<text transform="translate(337.6,738.9) rotate(-90)">8</text>
<text transform="translate(24.3,706.5) rotate(-90)">10</text>
<text transform="translate(337.6,706.5) rotate(-90)">10</text>
<text x="85.7" y="874.4">-2</text>
<text x="155.8" y="874.4">0</text>
<text x="225" y="874.4">2</text>
<text x="294.2" y="874.4">4</text>
</g>
<text x="173.3" y="889.3" font-family="'Liberation Sans', sans-serif" font-size="13" font-weight="bold" text-anchor="middle" fill="#111">-log2(FC)</text>
<text transform="translate(11.3,778.4) rotate(-90)" font-family="'Liberation Sans', sans-serif" font-size="13" font-weight="bold" text-anchor="middle" fill="#111">-log10(p)</text>
<g font-family="'Liberation Sans', sans-serif" font-size="5.85" font-weight="bold" fill="#1a1a1a" text-anchor="middle">
<text transform="translate(51.5,725.85) rotate(48)" dy="2.1">Cytidine</text>
<text transform="translate(63.95,708.95) rotate(48)" dy="2.1">Inosine-5'-carboxylate</text>
<text transform="translate(77.35,713.75) rotate(48)" dy="2.1">Dephospho-CoA</text>
<text transform="translate(107.95,730.05) rotate(48)" dy="2.1">Dihydrolipoate</text>
<text transform="translate(110.05,693.3) rotate(48)" dy="2.1">Glycerophosphocholine</text>
</g>
<g font-family="'Liberation Sans', sans-serif" font-size="4.4" font-weight="bold" fill="#1a1a1a" text-anchor="middle">
<text transform="translate(196.1,704.3) rotate(-53)" dy="1.6">Acetylcysteine</text>
<text transform="translate(193.75,715.8) rotate(-53)" dy="1.6">D-Histidine</text>
<text transform="translate(206.55,706.05) rotate(-53)" dy="1.6">13,14-dihydro</text>
<text transform="translate(214.55,700.85) rotate(-53)" dy="1.6">Prostaglandin F1alpha</text>
<text transform="translate(216.6,709.55) rotate(-53)" dy="1.6">Glycocholic acid</text>
<text transform="translate(247.8,703.3) rotate(-53)" dy="1.6">Lyso-PAF C-16</text>
</g>
<rect x="295.6" y="826" width="29.2" height="35.3" fill="#fff" stroke="#777" stroke-width="0.6"/>
<circle cx="301.6" cy="840.3" r="1.6" fill="#ff0000"/><circle cx="301.6" cy="847.4" r="1.6" fill="#0000ff"/><circle cx="301.6" cy="854.5" r="0.9" fill="#000"/>
<g font-family="'Liberation Sans', sans-serif" font-size="5.9" fill="#222"><text x="296.6" y="832.9">significant</text><text x="306.8" y="842.6">up</text><text x="306.8" y="849.5">down</text><text x="306.8" y="856.4">no</text></g>
<text x="0.4" y="668.9" font-family="'Liberation Sans', sans-serif" font-weight="bold" font-size="21.8" fill="#231815">D</text>
<path d="M389.9 682.1V912.3M399.8 921H645.7" stroke="#8c8c8c" stroke-width="1.6" fill="none"/>
<path d="M384.6 912.3H645.8M384.6 873.9H645.8M384.6 835.5H645.8M384.6 797.1H645.8M384.6 758.7H645.8M384.6 720.3H645.8M384.6 681.9H645.8M399.4 672.7V920.5M442.65 672.7V920.5M485.9 672.7V920.5M529.15 672.7V920.5M572.4 672.7V920.5M615.65 672.7V920.5" stroke="#3a3aff" stroke-width="0.8" fill="none"/>
<path d="M399.4 921.5v4M442.65 921.5v4M485.9 921.5v4M529.15 921.5v4M572.4 921.5v4M615.65 921.5v4" stroke="#333" stroke-width="0.7" fill="none"/>
<path d="M379.2 889L404.5 879.6M379.2 927.7L415.2 884M423.6 943.6L433.3 886.3" stroke="#444" stroke-width="0.45" fill="none"/>
<circle cx="399.5" cy="909.9" r="1.6" fill="#fbfbd6" stroke="#222" stroke-width="0.5"/>
<circle cx="399.5" cy="905.7" r="1.5" fill="#f8ec30" stroke="#222" stroke-width="0.5"/>
<circle cx="399.5" cy="901.4" r="1.5" fill="#f8d820" stroke="#222" stroke-width="0.5"/>
<circle cx="399.5" cy="897.5" r="1.5" fill="#f5b818" stroke="#222" stroke-width="0.5"/>
<circle cx="401.2" cy="893.1" r="2.0" fill="#f5a015" stroke="#222" stroke-width="0.5"/>
<circle cx="399.5" cy="891.5" r="1.6" fill="#f09010" stroke="#222" stroke-width="0.5"/>
<circle cx="399.5" cy="884.3" r="1.5" fill="#f07810" stroke="#222" stroke-width="0.5"/>
<circle cx="399.5" cy="881.0" r="1.5" fill="#f06a10" stroke="#222" stroke-width="0.5"/>
<circle cx="399.5" cy="877.7" r="1.5" fill="#f05a10" stroke="#222" stroke-width="0.5"/>
<circle cx="399.5" cy="873.8" r="1.6" fill="#f04a10" stroke="#222" stroke-width="0.5"/>
<circle cx="399.5" cy="863.9" r="1.8" fill="#f03a10" stroke="#222" stroke-width="0.5"/>
<circle cx="399.4" cy="819.4" r="1.7" fill="#f02a08" stroke="#222" stroke-width="0.5"/>
<circle cx="408.1" cy="878.4" r="2.9" fill="#f04c10" stroke="#222" stroke-width="0.5"/>
<circle cx="418.9" cy="879.0" r="3.5" fill="#f05810" stroke="#222" stroke-width="0.5"/>
<circle cx="433.4" cy="881.7" r="4.2" fill="#f57010" stroke="#222" stroke-width="0.5"/>
<circle cx="415.0" cy="887.6" r="3.3" fill="#f58a10" stroke="#222" stroke-width="0.5"/>
<circle cx="417.9" cy="894.8" r="3.4" fill="#f5a012" stroke="#222" stroke-width="0.5"/>
<circle cx="461.0" cy="909.7" r="4.7" fill="#f8f4b0" stroke="#222" stroke-width="0.5"/>
<circle cx="458.1" cy="899.2" r="4.3" fill="#f5c810" stroke="#222" stroke-width="0.5"/>
<circle cx="459.6" cy="901.8" r="4.5" fill="#f8e000" stroke="#222" stroke-width="0.5"/>
<circle cx="441.0" cy="900.1" r="4.3" fill="#f5a510" stroke="#222" stroke-width="0.5"/>
<circle cx="433.4" cy="908.9" r="3.7" fill="#f8f39a" stroke="#222" stroke-width="0.5"/>
<circle cx="428.8" cy="911.2" r="3.9" fill="#fafae0" stroke="#222" stroke-width="0.5"/>
<circle cx="426.3" cy="904.0" r="3.7" fill="#f8e800" stroke="#222" stroke-width="0.5"/>
<circle cx="417.6" cy="907.0" r="3.3" fill="#f8f070" stroke="#222" stroke-width="0.5"/>
<circle cx="411.0" cy="900.1" r="2.9" fill="#f8e010" stroke="#222" stroke-width="0.5"/>
<circle cx="411.7" cy="903.4" r="2.6" fill="#f8e820" stroke="#222" stroke-width="0.5"/>
<circle cx="405.1" cy="906.0" r="2.6" fill="#f8ec40" stroke="#222" stroke-width="0.5"/>
<circle cx="410.4" cy="906.6" r="2.6" fill="#f8ec30" stroke="#222" stroke-width="0.5"/>
<circle cx="412.6" cy="911.9" r="3.1" fill="#fbfbe2" stroke="#222" stroke-width="0.5"/>
<circle cx="491.5" cy="903.4" r="5.7" fill="#f8e800" stroke="#222" stroke-width="0.5"/>
<circle cx="521.5" cy="889.1" r="6.1" fill="#f59010" stroke="#222" stroke-width="0.5"/>
<circle cx="481.1" cy="879.4" r="5.4" fill="#f06010" stroke="#222" stroke-width="0.5"/>
<circle cx="492.6" cy="872.6" r="5.7" fill="#f04010" stroke="#222" stroke-width="0.5"/>
<circle cx="465.6" cy="838.9" r="4.7" fill="#f83000" stroke="#222" stroke-width="0.5"/>
<circle cx="513.3" cy="814.0" r="6.1" fill="#f82a00" stroke="#222" stroke-width="0.5"/>
<circle cx="614.9" cy="856.5" r="7.5" fill="#f83000" stroke="#222" stroke-width="0.5"/>
<circle cx="590.4" cy="777.3" r="7.5" fill="#ff0c00" stroke="#222" stroke-width="0.5"/>
<circle cx="471.1" cy="734.9" r="5.3" fill="#ff0c00" stroke="#222" stroke-width="0.5"/>
<circle cx="636.1" cy="682.4" r="8.2" fill="#ff0000" stroke="#222" stroke-width="0.5"/>
<g font-family="'Liberation Sans', sans-serif" font-size="6.9" font-weight="bold" fill="#000">
<text x="615.2" y="685.4" text-anchor="end">Histidine metabolism</text>
<text x="481.2" y="736.2">Aminoacyl-tRNA biosynthesis</text>
<text x="578.9" y="779.7" text-anchor="end">Pantothenate and CoA biosynthesis</text>
<text x="405.2" y="812.7">Valine, leucine and</text>
<text x="405.2" y="820.9">isoleucine biosynthesis</text>
<text x="525.8" y="814.7">Glycerophospholipid metabolism</text>
<text x="477.2" y="840.4">Sphingolipid metabolism</text>
<text x="405.2" y="856.6">Thiamine metabolism</text>
<text x="625.3" y="844.0">Phenylalanine</text>
<text x="625.3" y="851.7">tyrosine and</text>
<text x="625.3" y="859.5">tryptophan</text>
<text x="625.3" y="867.5">biosynthesis</text>
<text x="403.8" y="872.6">Sulfur metabolism</text>
<text x="503.7" y="864.4">Glycine, serine and</text>
<text x="503.7" y="872.0">threonine metabolism</text>
<text x="489.0" y="883.0">Amino sugar and nucleotide sugar</text>
<text x="534.8" y="895.9">Glutathione metabolism</text>
<text x="501.9" y="906.2">Purine metabolism</text>
<text x="345.3" y="897.1">Arachidonic</text>
<text x="345.3" y="905.0">acid</text>
<text x="345.3" y="912.9">metabolism</text>
<text x="344.0" y="927.1">Pentose</text>
<text x="344.0" y="935.0">phosphate</text>
<text x="344.0" y="942.6">pathway</text>
<text x="383.4" y="950.2">Vitamin B6 metabolism</text>
</g>
<g font-family="'Liberation Sans', sans-serif" font-size="9.2" font-weight="bold" fill="#1a1a1a" text-anchor="middle">
<text x="399.4" y="933.1">0.0</text>
<text x="442.65" y="933.1">0.1</text>
<text x="485.9" y="933.1">0.2</text>
<text x="529.15" y="933.1">0.3</text>
<text x="572.4" y="933.1">0.4</text>
<text x="615.65" y="933.1">0.5</text>
<text transform="translate(378.7,912.3) rotate(-90)">0</text>
<text transform="translate(378.7,873.9) rotate(-90)">1</text>
<text transform="translate(378.7,835.5) rotate(-90)">2</text>
<text transform="translate(378.7,797.1) rotate(-90)">3</text>
<text transform="translate(378.7,758.7) rotate(-90)">4</text>
<text transform="translate(378.7,720.3) rotate(-90)">5</text>
<text transform="translate(378.7,681.9) rotate(-90)">6</text>
</g>
<text x="515.9" y="960.7" font-family="'Liberation Sans', sans-serif" font-size="13" font-weight="bold" text-anchor="middle" fill="#111">Pathway Impact</text>
<text transform="translate(361.5,792) rotate(-90)" font-family="'Liberation Sans', sans-serif" font-size="13.5" font-weight="bold" text-anchor="middle" fill="#111">-log(p)</text>
<text x="514.1" y="663.7" font-family="'Liberation Sans', sans-serif" font-size="16.4" font-weight="bold" text-anchor="middle" fill="#111">POI VS CON</text>
<text x="355.3" y="669.1" font-family="'Liberation Sans', sans-serif" font-weight="bold" font-size="21.8" fill="#231815">E</text>
</svg>
</body></html>
